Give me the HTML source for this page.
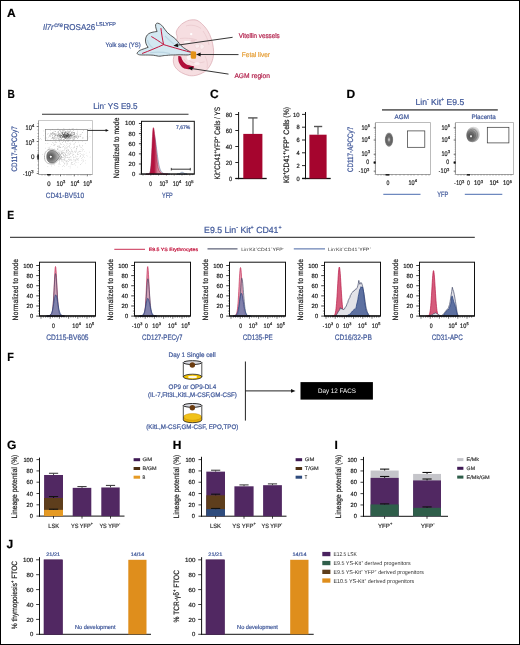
<!DOCTYPE html>
<html><head><meta charset="utf-8"><style>
html,body{margin:0;padding:0;background:#fff;}
svg{display:block;will-change:transform;}
text{font-family:"Liberation Sans",sans-serif;text-rendering:geometricPrecision;}
</style></head><body>
<svg width="520" height="645" viewBox="0 0 520 645">
<rect x="0.50" y="0.50" width="519.00" height="644.00" fill="none" stroke="#000" stroke-width="1"/>
<text x="7.00" y="17.00" font-size="12" fill="#000" stroke="#000" stroke-width="0.2" font-weight="bold">A</text>
<text x="7.50" y="98.00" font-size="12" fill="#000" stroke="#000" stroke-width="0.2" font-weight="bold" textLength="7.30" lengthAdjust="spacingAndGlyphs">B</text>
<text x="210.00" y="98.00" font-size="12" fill="#000" stroke="#000" stroke-width="0.2" font-weight="bold">C</text>
<text x="346.50" y="98.00" font-size="12" fill="#000" stroke="#000" stroke-width="0.2" font-weight="bold">D</text>
<text x="7.30" y="218.70" font-size="12" fill="#000" stroke="#000" stroke-width="0.2" font-weight="bold" textLength="6.90" lengthAdjust="spacingAndGlyphs">E</text>
<text x="7.30" y="361.00" font-size="12" fill="#000" stroke="#000" stroke-width="0.2" font-weight="bold" textLength="6.60" lengthAdjust="spacingAndGlyphs">F</text>
<text x="7.00" y="449.40" font-size="12" fill="#000" stroke="#000" stroke-width="0.2" font-weight="bold">G</text>
<text x="172.80" y="449.00" font-size="12" fill="#000" stroke="#000" stroke-width="0.2" font-weight="bold">H</text>
<text x="334.50" y="449.20" font-size="12" fill="#000" stroke="#000" stroke-width="0.2" font-weight="bold">I</text>
<text x="6.50" y="548.30" font-size="12" fill="#000" stroke="#000" stroke-width="0.2" font-weight="bold">J</text>
<text x="43.10" y="29.90" font-size="8.5" fill="#41599a" stroke="#41599a" stroke-width="0.22" font-style="italic" textLength="10.50" lengthAdjust="spacingAndGlyphs">Il7r</text>
<text x="54.20" y="26.60" font-size="6.3" fill="#41599a" stroke="#41599a" stroke-width="0.22" font-style="italic" textLength="8.80" lengthAdjust="spacingAndGlyphs">cre</text>
<text x="63.50" y="29.90" font-size="8.5" fill="#41599a" stroke="#41599a" stroke-width="0.22" textLength="31.70" lengthAdjust="spacingAndGlyphs">ROSA26</text>
<text x="96.00" y="26.30" font-size="5.6" fill="#41599a" stroke="#41599a" stroke-width="0.22" textLength="20.00" lengthAdjust="spacingAndGlyphs">LSLYFP</text>
<text x="105.60" y="46.60" font-size="6.4" fill="#41599a" stroke="#41599a" stroke-width="0.22" textLength="35.00" lengthAdjust="spacingAndGlyphs">Yolk sac (YS)</text>
<path d="M193.1,19.8 C190,19.9 188,20.4 186.4,21.3 C184.5,22.2 183,23 181.6,24.2 C180,25.6 178.8,26.8 177.8,28.5 C176.8,30.2 176.1,31.6 176.3,33.3 C176.5,35 177.2,36 177.3,37.1 C176,42 175,48 173.9,56.3 C173.3,58.5 173.1,60.5 173.4,62.1 C173.8,64.5 174.5,66.3 175.8,67.9 C177.5,70 179.5,71.5 181.6,72.7 C184,74 186.5,75 189.3,75.6 C192,76 194.5,75.7 197,75.1 C199.5,74.4 202.3,73.2 204.7,71.7 C207,70 209,67.5 210.4,65 C212,62 213,59 213.3,56.3 C213.8,53 213.7,50.5 213.3,47.7 C212.9,44.5 212.3,41.8 211.4,39.1 C210.4,36 209.2,33 207.5,30.4 C205.9,28 204,25.7 201.8,23.7 C200.3,22.3 198.8,21.1 197,20.3 C195.7,19.9 194.4,19.8 193.1,19.8 Z" fill="#f6dee1" stroke="#ddb0b8" stroke-width="0.8"/>
<path d="M180,38.5 C186,37.8 192,38.2 197,40 M186,26 C190,24.5 196,25 201,28.5 M203,31 C206,35 208,40 209,45 M189.2,60.6 C192,62.5 195.5,63.3 198.5,63 C201,62.7 203,62.2 204.6,61.8 M184,59 C187,64 191,67 197,68.5 M205,56 C207,60 208,64 207,68" fill="none" stroke="#e6c3c8" stroke-width="0.6"/>
<path d="M183.8,41.4 C186,41 189,41 190.8,41.6 C190.5,42.6 188,43.2 184.5,43.2 Z" fill="#fdf6f7"/>
<path d="M194.8,45 C196.5,43.6 199,43.8 200,45.6 C199.5,47.5 197.5,48.6 195.6,48 Z M199.8,44.2 C201.8,43.6 204,44.6 204.6,46.6 C203.8,48.6 201.5,50 200.2,49 Z" fill="#faecee" stroke="#e9cdd1" stroke-width="0.45"/>
<ellipse cx="189" cy="57.6" rx="2.2" ry="2.6" fill="#fdf7f8"/>
<ellipse cx="197" cy="63.5" rx="2.8" ry="1.5" fill="#fbeff1"/>
<ellipse cx="193" cy="40.6" rx="2.6" ry="1.2" fill="#eccbd0"/>
<circle cx="191.2" cy="34.1" r="1.2" fill="#fff"/>
<path d="M137.1,53.1 C137.5,52 139.5,50.3 141.7,49.6 C143.5,49 145.5,48.3 148.2,47.3 C146.5,45.5 145.3,42.5 145.5,40 C145.6,37 147,34.8 148.6,33.8 C150.5,32.5 153,32 157.1,31.5 C156.3,29.5 155.3,26.5 155.6,24.8 C155.9,23.5 157,23 157.8,23.2 C159.5,23.4 161.5,25 162.5,26.2 C164,28 165.5,30.5 167.1,32.3 C169,34.2 171.5,36 174,37.7 C176.5,39.5 178.5,43 181,45.5 C184,48.5 188,50.5 191.7,52.6 C192,53.5 191,54.6 188.2,54.9 C185,55 182,54.7 178,54.8 C175,55 172,55 170.9,55 C167,55.2 166,55.6 164.8,55.5 C162,55.8 160.5,56.3 158.6,56.2 C156.5,56 155,55.3 153.2,55.2 C150,55 147.5,55 145.5,55 C142,55 139.5,55 138.6,54.6 C137.6,54.3 136.9,53.7 137.1,53.1 Z" fill="#d3e8f1" stroke="#3c3c3c" stroke-width="0.85"/>
<path d="M147.5,40 C148.5,44 150.5,46.5 153,48 M150,52.8 C156,51.8 163,52 170,53.5 M165,36 C168,39 171,42 174,44" fill="none" stroke="#bcd6e3" stroke-width="1.1"/>
<path d="M163.6,44.6 C162.3,38.5 161.5,33 160.9,28.1 M163.6,44.6 C159.5,41.5 155,38.6 151.3,36.5 M163.6,44.6 C157,47.5 149,51 142.1,53.5 M163.6,44.6 C170,46.5 180,49.5 190.5,52.2" fill="none" stroke="#c3163f" stroke-width="1.0"/>
<path d="M191,51.6 C192.5,50.9 194.5,51.1 196,51.8 C196.4,54 196.3,56.5 195.8,58.4 C194.2,59 192.3,58.9 190.9,58.2 C190.6,56 190.6,53.5 191,51.6 Z" fill="#e39218"/>
<path d="M178.3,56 C178,59 178.4,61.5 179.2,63 C180.2,65.2 181.5,66.8 183,67.8 C184.6,68.8 186.5,69.2 188.2,69.2 C190.2,69.2 192,68.9 193,68.4 C193.9,67.8 194.3,67 194,66.2 C192.8,66.1 191.8,65.9 190.8,65.7 C188.8,65.3 187,64.8 185.6,63.8 C184,62.7 183,61.3 182.2,59.8 C181.6,58.6 181.3,57.6 181.2,56.8 C180.4,56 179.3,55.7 178.3,56 Z" fill="#b10f3a"/>
<line x1="232.60" y1="37.30" x2="178.00" y2="45.10" stroke="#2a2a2a" stroke-width="0.95"/>
<polygon points="173.40,45.80 177.70,43.13 178.28,47.15" fill="#111"/>
<line x1="238.50" y1="54.60" x2="200.00" y2="54.50" stroke="#2a2a2a" stroke-width="0.95"/>
<polygon points="196.00,54.50 200.64,52.47 200.64,56.53" fill="#111"/>
<line x1="228.50" y1="74.10" x2="192.00" y2="68.60" stroke="#2a2a2a" stroke-width="0.95"/>
<polygon points="187.90,67.90 192.79,66.59 192.18,70.61" fill="#111"/>
<text x="238.70" y="37.70" font-size="6.8" fill="#b42650" stroke="#b42650" stroke-width="0.22" textLength="41.00" lengthAdjust="spacingAndGlyphs">Vitellin vessels</text>
<text x="241.80" y="56.60" font-size="6.8" fill="#e6a03a" stroke="#e6a03a" stroke-width="0.22" textLength="28.20" lengthAdjust="spacingAndGlyphs">Fetal liver</text>
<text x="234.40" y="77.70" font-size="6.8" fill="#b42650" stroke="#b42650" stroke-width="0.22" textLength="35.60" lengthAdjust="spacingAndGlyphs">AGM region</text>
<text x="93.2" y="109.3" font-size="8.5" fill="#41599a" stroke="#41599a" stroke-width="0.22" textLength="44.4" lengthAdjust="spacingAndGlyphs">Lin<tspan font-size="5.3" dy="-3.2">-</tspan><tspan dy="3.2"> YS E9.5</tspan></text>
<line x1="42.00" y1="114.30" x2="188.50" y2="114.30" stroke="#333" stroke-width="1.1"/>
<line x1="38.50" y1="120.50" x2="92.50" y2="120.50" stroke="#bbb" stroke-width="0.8"/>
<line x1="92.50" y1="120.50" x2="92.50" y2="174.50" stroke="#bbb" stroke-width="0.8"/>
<line x1="38.50" y1="120.50" x2="38.50" y2="174.50" stroke="#8a8a8a" stroke-width="0.8"/>
<line x1="38.50" y1="174.50" x2="92.50" y2="174.50" stroke="#8a8a8a" stroke-width="0.8"/>
<line x1="36.70" y1="126.50" x2="38.50" y2="126.50" stroke="#333" stroke-width="0.7"/>
<line x1="36.70" y1="141.50" x2="38.50" y2="141.50" stroke="#333" stroke-width="0.7"/>
<line x1="36.70" y1="156.80" x2="38.50" y2="156.80" stroke="#333" stroke-width="0.7"/>
<line x1="36.70" y1="173.50" x2="38.50" y2="173.50" stroke="#333" stroke-width="0.7"/>
<line x1="37.50" y1="123.50" x2="38.50" y2="123.50" stroke="#555" stroke-width="0.5"/>
<line x1="37.50" y1="130.00" x2="38.50" y2="130.00" stroke="#555" stroke-width="0.5"/>
<line x1="37.50" y1="133.50" x2="38.50" y2="133.50" stroke="#555" stroke-width="0.5"/>
<line x1="37.50" y1="136.50" x2="38.50" y2="136.50" stroke="#555" stroke-width="0.5"/>
<line x1="37.50" y1="138.50" x2="38.50" y2="138.50" stroke="#555" stroke-width="0.5"/>
<line x1="37.50" y1="145.00" x2="38.50" y2="145.00" stroke="#555" stroke-width="0.5"/>
<line x1="37.50" y1="148.00" x2="38.50" y2="148.00" stroke="#555" stroke-width="0.5"/>
<line x1="37.50" y1="150.50" x2="38.50" y2="150.50" stroke="#555" stroke-width="0.5"/>
<line x1="37.50" y1="153.00" x2="38.50" y2="153.00" stroke="#555" stroke-width="0.5"/>
<line x1="37.50" y1="161.00" x2="38.50" y2="161.00" stroke="#555" stroke-width="0.5"/>
<line x1="37.50" y1="165.00" x2="38.50" y2="165.00" stroke="#555" stroke-width="0.5"/>
<line x1="37.50" y1="168.50" x2="38.50" y2="168.50" stroke="#555" stroke-width="0.5"/>
<line x1="37.50" y1="171.50" x2="38.50" y2="171.50" stroke="#555" stroke-width="0.5"/>
<line x1="48.90" y1="174.50" x2="48.90" y2="176.30" stroke="#333" stroke-width="0.7"/>
<line x1="60.50" y1="174.50" x2="60.50" y2="176.30" stroke="#333" stroke-width="0.7"/>
<line x1="74.30" y1="174.50" x2="74.30" y2="176.30" stroke="#333" stroke-width="0.7"/>
<line x1="87.30" y1="174.50" x2="87.30" y2="176.30" stroke="#333" stroke-width="0.7"/>
<line x1="42.00" y1="174.50" x2="42.00" y2="175.50" stroke="#555" stroke-width="0.5"/>
<line x1="45.00" y1="174.50" x2="45.00" y2="175.50" stroke="#555" stroke-width="0.5"/>
<line x1="53.00" y1="174.50" x2="53.00" y2="175.50" stroke="#555" stroke-width="0.5"/>
<line x1="56.00" y1="174.50" x2="56.00" y2="175.50" stroke="#555" stroke-width="0.5"/>
<line x1="58.00" y1="174.50" x2="58.00" y2="175.50" stroke="#555" stroke-width="0.5"/>
<line x1="64.00" y1="174.50" x2="64.00" y2="175.50" stroke="#555" stroke-width="0.5"/>
<line x1="67.00" y1="174.50" x2="67.00" y2="175.50" stroke="#555" stroke-width="0.5"/>
<line x1="69.00" y1="174.50" x2="69.00" y2="175.50" stroke="#555" stroke-width="0.5"/>
<line x1="71.00" y1="174.50" x2="71.00" y2="175.50" stroke="#555" stroke-width="0.5"/>
<line x1="78.00" y1="174.50" x2="78.00" y2="175.50" stroke="#555" stroke-width="0.5"/>
<line x1="81.00" y1="174.50" x2="81.00" y2="175.50" stroke="#555" stroke-width="0.5"/>
<line x1="83.00" y1="174.50" x2="83.00" y2="175.50" stroke="#555" stroke-width="0.5"/>
<line x1="85.00" y1="174.50" x2="85.00" y2="175.50" stroke="#555" stroke-width="0.5"/>
<line x1="90.00" y1="174.50" x2="90.00" y2="175.50" stroke="#555" stroke-width="0.5"/>
<rect x="37.30" y="154.40" width="1.60" height="5.20" fill="#222"/>
<rect x="47.00" y="174.00" width="3.80" height="1.40" fill="#222"/>
<g><circle cx="63.3" cy="136.4" r="0.28" fill="#555"/><circle cx="63.5" cy="134.4" r="0.28" fill="#555"/><circle cx="59.0" cy="134.7" r="0.28" fill="#555"/><circle cx="72.2" cy="136.2" r="0.28" fill="#555"/><circle cx="71.7" cy="135.8" r="0.28" fill="#555"/><circle cx="67.6" cy="135.6" r="0.28" fill="#555"/><circle cx="54.2" cy="137.3" r="0.28" fill="#555"/><circle cx="68.3" cy="136.4" r="0.28" fill="#555"/><circle cx="54.0" cy="131.0" r="0.28" fill="#555"/><circle cx="59.2" cy="134.1" r="0.28" fill="#555"/><circle cx="67.0" cy="135.1" r="0.28" fill="#555"/><circle cx="68.4" cy="133.7" r="0.28" fill="#555"/><circle cx="67.0" cy="136.1" r="0.28" fill="#555"/><circle cx="60.7" cy="139.3" r="0.28" fill="#555"/><circle cx="68.6" cy="138.1" r="0.28" fill="#555"/><circle cx="61.0" cy="133.4" r="0.28" fill="#555"/><circle cx="62.8" cy="134.9" r="0.28" fill="#555"/><circle cx="69.1" cy="135.8" r="0.28" fill="#555"/><circle cx="62.1" cy="132.9" r="0.28" fill="#555"/><circle cx="61.6" cy="138.1" r="0.28" fill="#555"/><circle cx="59.7" cy="135.8" r="0.28" fill="#555"/><circle cx="67.8" cy="131.6" r="0.28" fill="#555"/><circle cx="65.3" cy="138.3" r="0.28" fill="#555"/><circle cx="51.9" cy="134.4" r="0.28" fill="#555"/><circle cx="64.3" cy="133.2" r="0.28" fill="#555"/><circle cx="68.2" cy="135.1" r="0.28" fill="#555"/><circle cx="55.5" cy="137.2" r="0.28" fill="#555"/><circle cx="69.4" cy="137.5" r="0.28" fill="#555"/><circle cx="74.4" cy="136.1" r="0.28" fill="#555"/><circle cx="65.8" cy="132.1" r="0.28" fill="#555"/><circle cx="69.0" cy="133.7" r="0.28" fill="#555"/><circle cx="62.1" cy="132.2" r="0.28" fill="#555"/><circle cx="58.7" cy="133.9" r="0.28" fill="#555"/><circle cx="73.4" cy="130.3" r="0.28" fill="#555"/><circle cx="55.5" cy="135.8" r="0.28" fill="#555"/><circle cx="74.4" cy="136.6" r="0.28" fill="#555"/><circle cx="52.7" cy="129.2" r="0.28" fill="#555"/><circle cx="67.3" cy="133.4" r="0.28" fill="#555"/><circle cx="57.7" cy="137.5" r="0.28" fill="#555"/><circle cx="72.2" cy="135.6" r="0.28" fill="#555"/><circle cx="66.6" cy="136.2" r="0.28" fill="#555"/><circle cx="75.4" cy="136.7" r="0.28" fill="#555"/><circle cx="68.4" cy="136.5" r="0.28" fill="#555"/><circle cx="54.8" cy="138.3" r="0.28" fill="#555"/><circle cx="71.2" cy="136.5" r="0.28" fill="#555"/><circle cx="52.2" cy="133.7" r="0.28" fill="#555"/><circle cx="70.5" cy="130.9" r="0.28" fill="#555"/><circle cx="63.8" cy="137.6" r="0.28" fill="#555"/><circle cx="56.5" cy="139.1" r="0.28" fill="#555"/><circle cx="68.6" cy="134.8" r="0.28" fill="#555"/><circle cx="67.1" cy="136.8" r="0.28" fill="#555"/><circle cx="65.8" cy="137.9" r="0.28" fill="#555"/><circle cx="60.7" cy="134.2" r="0.28" fill="#555"/><circle cx="71.8" cy="135.3" r="0.28" fill="#555"/><circle cx="59.3" cy="137.5" r="0.28" fill="#555"/><circle cx="74.5" cy="134.1" r="0.28" fill="#555"/><circle cx="56.0" cy="134.9" r="0.28" fill="#555"/><circle cx="64.0" cy="134.5" r="0.28" fill="#555"/><circle cx="74.1" cy="132.7" r="0.28" fill="#555"/><circle cx="73.2" cy="132.2" r="0.28" fill="#555"/><circle cx="59.9" cy="136.7" r="0.28" fill="#555"/><circle cx="72.3" cy="137.3" r="0.28" fill="#555"/><circle cx="67.2" cy="135.5" r="0.28" fill="#555"/><circle cx="66.0" cy="136.6" r="0.28" fill="#555"/><circle cx="63.9" cy="135.9" r="0.28" fill="#555"/><circle cx="68.7" cy="135.2" r="0.28" fill="#555"/><circle cx="70.0" cy="136.6" r="0.28" fill="#555"/><circle cx="78.1" cy="136.0" r="0.28" fill="#555"/><circle cx="62.2" cy="134.3" r="0.28" fill="#555"/><circle cx="64.9" cy="137.4" r="0.28" fill="#555"/><circle cx="62.8" cy="136.1" r="0.28" fill="#555"/><circle cx="76.9" cy="129.0" r="0.28" fill="#555"/><circle cx="57.7" cy="135.8" r="0.28" fill="#555"/><circle cx="67.6" cy="135.8" r="0.28" fill="#555"/><circle cx="62.2" cy="136.8" r="0.28" fill="#555"/><circle cx="66.8" cy="133.9" r="0.28" fill="#555"/><circle cx="80.8" cy="136.1" r="0.28" fill="#555"/><circle cx="61.4" cy="135.0" r="0.28" fill="#555"/><circle cx="63.5" cy="135.0" r="0.28" fill="#555"/><circle cx="47.3" cy="134.0" r="0.28" fill="#555"/><circle cx="71.6" cy="132.4" r="0.28" fill="#555"/><circle cx="64.6" cy="137.5" r="0.28" fill="#555"/><circle cx="70.6" cy="138.8" r="0.28" fill="#555"/><circle cx="53.9" cy="134.4" r="0.28" fill="#555"/><circle cx="62.8" cy="136.7" r="0.28" fill="#555"/><circle cx="72.1" cy="128.8" r="0.28" fill="#555"/><circle cx="72.1" cy="131.7" r="0.28" fill="#555"/><circle cx="69.4" cy="131.6" r="0.28" fill="#555"/><circle cx="66.1" cy="138.1" r="0.28" fill="#555"/><circle cx="64.0" cy="135.7" r="0.28" fill="#555"/><circle cx="70.2" cy="135.5" r="0.28" fill="#555"/><circle cx="64.4" cy="138.9" r="0.28" fill="#555"/><circle cx="71.8" cy="134.5" r="0.28" fill="#555"/><circle cx="82.8" cy="132.4" r="0.28" fill="#555"/><circle cx="70.9" cy="134.6" r="0.28" fill="#555"/><circle cx="65.9" cy="136.9" r="0.28" fill="#555"/><circle cx="66.4" cy="136.7" r="0.28" fill="#555"/><circle cx="55.1" cy="131.6" r="0.28" fill="#555"/><circle cx="69.0" cy="132.9" r="0.28" fill="#555"/><circle cx="58.3" cy="131.7" r="0.28" fill="#555"/><circle cx="73.2" cy="137.0" r="0.28" fill="#555"/><circle cx="74.6" cy="132.9" r="0.28" fill="#555"/><circle cx="65.0" cy="132.5" r="0.28" fill="#555"/><circle cx="70.0" cy="139.0" r="0.28" fill="#555"/><circle cx="59.2" cy="138.9" r="0.28" fill="#555"/><circle cx="71.4" cy="134.8" r="0.28" fill="#555"/><circle cx="52.2" cy="138.6" r="0.28" fill="#555"/><circle cx="64.4" cy="133.8" r="0.28" fill="#555"/><circle cx="67.6" cy="136.2" r="0.28" fill="#555"/><circle cx="74.7" cy="132.8" r="0.28" fill="#555"/><circle cx="72.4" cy="138.8" r="0.28" fill="#555"/><circle cx="74.4" cy="134.8" r="0.28" fill="#555"/><circle cx="60.2" cy="137.6" r="0.28" fill="#555"/><circle cx="65.7" cy="135.5" r="0.28" fill="#555"/><circle cx="74.3" cy="134.6" r="0.28" fill="#555"/><circle cx="50.1" cy="134.3" r="0.28" fill="#555"/><circle cx="52.9" cy="137.2" r="0.28" fill="#555"/><circle cx="67.1" cy="133.7" r="0.28" fill="#555"/><circle cx="64.9" cy="137.2" r="0.28" fill="#555"/><circle cx="65.5" cy="138.4" r="0.28" fill="#555"/><circle cx="64.6" cy="137.7" r="0.28" fill="#555"/><circle cx="74.7" cy="139.1" r="0.28" fill="#555"/><circle cx="60.6" cy="137.3" r="0.28" fill="#555"/><circle cx="52.8" cy="132.6" r="0.28" fill="#555"/><circle cx="52.2" cy="137.8" r="0.28" fill="#555"/><circle cx="57.0" cy="135.2" r="0.28" fill="#555"/><circle cx="63.8" cy="135.1" r="0.28" fill="#555"/><circle cx="61.2" cy="135.8" r="0.28" fill="#555"/><circle cx="76.6" cy="135.3" r="0.28" fill="#555"/><circle cx="68.5" cy="137.6" r="0.28" fill="#555"/><circle cx="63.7" cy="132.2" r="0.28" fill="#555"/><circle cx="61.4" cy="137.8" r="0.28" fill="#555"/><circle cx="54.3" cy="133.8" r="0.28" fill="#555"/><circle cx="71.5" cy="137.1" r="0.28" fill="#555"/><circle cx="65.0" cy="137.1" r="0.28" fill="#555"/><circle cx="66.1" cy="132.4" r="0.28" fill="#555"/><circle cx="54.8" cy="133.7" r="0.28" fill="#555"/><circle cx="71.0" cy="133.8" r="0.28" fill="#555"/><circle cx="59.1" cy="133.3" r="0.28" fill="#555"/><circle cx="55.0" cy="134.9" r="0.28" fill="#555"/><circle cx="57.3" cy="136.1" r="0.28" fill="#555"/><circle cx="49.7" cy="136.0" r="0.28" fill="#555"/><circle cx="60.8" cy="130.5" r="0.28" fill="#555"/><circle cx="69.7" cy="134.5" r="0.28" fill="#555"/><circle cx="50.5" cy="133.1" r="0.28" fill="#555"/><circle cx="66.9" cy="134.1" r="0.28" fill="#555"/><circle cx="70.1" cy="137.0" r="0.28" fill="#555"/><circle cx="69.3" cy="136.0" r="0.28" fill="#555"/><circle cx="73.7" cy="136.8" r="0.28" fill="#555"/><circle cx="67.9" cy="130.2" r="0.28" fill="#555"/><circle cx="70.8" cy="138.3" r="0.28" fill="#555"/><circle cx="63.1" cy="134.1" r="0.28" fill="#555"/><circle cx="77.6" cy="131.0" r="0.28" fill="#555"/><circle cx="68.0" cy="141.0" r="0.28" fill="#555"/><circle cx="59.0" cy="136.9" r="0.28" fill="#555"/><circle cx="77.3" cy="134.9" r="0.28" fill="#555"/><circle cx="68.6" cy="137.4" r="0.28" fill="#555"/><circle cx="59.1" cy="135.0" r="0.28" fill="#555"/><circle cx="66.9" cy="137.2" r="0.28" fill="#555"/><circle cx="64.8" cy="134.7" r="0.28" fill="#555"/><circle cx="58.4" cy="134.3" r="0.28" fill="#555"/><circle cx="70.8" cy="135.4" r="0.28" fill="#555"/><circle cx="59.5" cy="133.2" r="0.28" fill="#555"/><circle cx="82.3" cy="137.9" r="0.28" fill="#555"/><circle cx="69.1" cy="129.0" r="0.28" fill="#555"/><circle cx="69.0" cy="136.4" r="0.28" fill="#555"/><circle cx="75.9" cy="136.2" r="0.28" fill="#555"/><circle cx="64.6" cy="136.5" r="0.28" fill="#555"/><circle cx="52.4" cy="137.7" r="0.28" fill="#555"/><circle cx="67.1" cy="133.5" r="0.28" fill="#555"/><circle cx="73.6" cy="139.5" r="0.28" fill="#555"/><circle cx="55.9" cy="133.6" r="0.28" fill="#555"/><circle cx="66.9" cy="135.6" r="0.28" fill="#555"/><circle cx="62.4" cy="132.9" r="0.28" fill="#555"/><circle cx="78.8" cy="137.7" r="0.28" fill="#555"/><circle cx="57.2" cy="132.0" r="0.28" fill="#555"/><circle cx="76.1" cy="137.6" r="0.28" fill="#555"/><circle cx="76.8" cy="137.1" r="0.28" fill="#555"/><circle cx="59.3" cy="135.8" r="0.28" fill="#555"/><circle cx="51.0" cy="133.4" r="0.28" fill="#555"/><circle cx="64.6" cy="136.5" r="0.28" fill="#555"/><circle cx="60.3" cy="134.9" r="0.28" fill="#555"/><circle cx="68.0" cy="136.1" r="0.28" fill="#555"/><circle cx="69.1" cy="135.7" r="0.28" fill="#555"/><circle cx="62.9" cy="137.1" r="0.28" fill="#555"/><circle cx="65.3" cy="133.2" r="0.28" fill="#555"/><circle cx="60.9" cy="135.2" r="0.28" fill="#555"/><circle cx="64.3" cy="135.6" r="0.28" fill="#555"/><circle cx="65.0" cy="135.6" r="0.28" fill="#555"/><circle cx="64.1" cy="132.2" r="0.28" fill="#555"/><circle cx="67.7" cy="137.7" r="0.28" fill="#555"/><circle cx="67.8" cy="134.7" r="0.28" fill="#555"/><circle cx="67.9" cy="132.9" r="0.28" fill="#555"/><circle cx="52.7" cy="135.3" r="0.28" fill="#555"/><circle cx="59.0" cy="137.0" r="0.28" fill="#555"/><circle cx="58.0" cy="128.9" r="0.28" fill="#555"/><circle cx="58.2" cy="139.0" r="0.28" fill="#555"/><circle cx="62.5" cy="131.9" r="0.28" fill="#555"/><circle cx="60.0" cy="136.5" r="0.28" fill="#555"/><circle cx="68.2" cy="135.6" r="0.28" fill="#555"/><circle cx="74.6" cy="136.9" r="0.28" fill="#555"/><circle cx="64.9" cy="136.6" r="0.28" fill="#555"/><circle cx="75.8" cy="137.5" r="0.28" fill="#555"/><circle cx="71.7" cy="132.6" r="0.28" fill="#555"/><circle cx="64.0" cy="137.0" r="0.28" fill="#555"/><circle cx="63.1" cy="137.8" r="0.28" fill="#555"/><circle cx="68.9" cy="137.4" r="0.28" fill="#555"/><circle cx="63.6" cy="141.3" r="0.28" fill="#555"/><circle cx="73.1" cy="134.7" r="0.28" fill="#555"/><circle cx="65.6" cy="141.4" r="0.28" fill="#555"/><circle cx="62.8" cy="137.3" r="0.28" fill="#555"/><circle cx="71.4" cy="135.2" r="0.28" fill="#555"/><circle cx="57.4" cy="135.7" r="0.28" fill="#555"/><circle cx="67.3" cy="137.9" r="0.28" fill="#555"/><circle cx="70.1" cy="135.3" r="0.28" fill="#555"/><circle cx="70.5" cy="136.5" r="0.28" fill="#555"/><circle cx="66.3" cy="135.3" r="0.28" fill="#555"/><circle cx="63.4" cy="136.8" r="0.28" fill="#555"/><circle cx="58.1" cy="133.7" r="0.28" fill="#555"/><circle cx="65.0" cy="131.7" r="0.28" fill="#555"/><circle cx="62.2" cy="130.4" r="0.28" fill="#555"/><circle cx="60.6" cy="136.6" r="0.28" fill="#555"/><circle cx="68.7" cy="135.1" r="0.28" fill="#555"/><circle cx="63.5" cy="131.8" r="0.28" fill="#555"/><circle cx="76.9" cy="136.4" r="0.28" fill="#555"/><circle cx="72.1" cy="133.1" r="0.28" fill="#555"/><circle cx="63.8" cy="130.8" r="0.28" fill="#555"/><circle cx="70.1" cy="137.4" r="0.28" fill="#555"/><circle cx="52.7" cy="135.1" r="0.28" fill="#555"/><circle cx="69.1" cy="131.0" r="0.28" fill="#555"/><circle cx="53.1" cy="132.6" r="0.28" fill="#555"/><circle cx="60.9" cy="131.8" r="0.28" fill="#555"/><circle cx="65.2" cy="135.8" r="0.28" fill="#555"/><circle cx="69.1" cy="136.9" r="0.28" fill="#555"/><circle cx="74.8" cy="138.0" r="0.28" fill="#555"/><circle cx="56.5" cy="134.0" r="0.28" fill="#555"/><circle cx="58.1" cy="132.6" r="0.28" fill="#555"/><circle cx="64.5" cy="135.2" r="0.28" fill="#555"/><circle cx="68.2" cy="131.4" r="0.28" fill="#555"/><circle cx="57.0" cy="135.1" r="0.28" fill="#555"/><circle cx="63.7" cy="134.5" r="0.28" fill="#555"/><circle cx="64.6" cy="133.4" r="0.28" fill="#555"/><circle cx="69.6" cy="136.1" r="0.28" fill="#555"/><circle cx="64.4" cy="133.6" r="0.28" fill="#555"/><circle cx="63.9" cy="128.7" r="0.28" fill="#555"/><circle cx="58.6" cy="135.3" r="0.28" fill="#555"/><circle cx="55.2" cy="135.7" r="0.28" fill="#555"/><circle cx="66.0" cy="131.9" r="0.28" fill="#555"/><circle cx="63.4" cy="134.4" r="0.28" fill="#555"/><circle cx="68.0" cy="136.7" r="0.28" fill="#555"/><circle cx="64.8" cy="133.2" r="0.28" fill="#555"/><circle cx="64.1" cy="135.0" r="0.28" fill="#555"/><circle cx="69.8" cy="135.9" r="0.28" fill="#555"/><circle cx="60.3" cy="131.9" r="0.28" fill="#555"/><circle cx="62.6" cy="133.4" r="0.28" fill="#555"/><circle cx="57.8" cy="134.9" r="0.28" fill="#555"/><circle cx="61.8" cy="135.5" r="0.28" fill="#555"/><circle cx="68.4" cy="134.2" r="0.28" fill="#555"/><circle cx="80.1" cy="134.4" r="0.28" fill="#555"/><circle cx="72.2" cy="135.5" r="0.28" fill="#555"/><circle cx="72.3" cy="129.5" r="0.28" fill="#555"/><circle cx="60.1" cy="135.8" r="0.28" fill="#555"/><circle cx="68.9" cy="140.8" r="0.28" fill="#555"/><circle cx="67.1" cy="138.3" r="0.28" fill="#555"/><circle cx="70.0" cy="137.5" r="0.28" fill="#555"/><circle cx="68.3" cy="134.8" r="0.28" fill="#555"/><circle cx="68.3" cy="132.6" r="0.28" fill="#555"/><circle cx="72.7" cy="132.8" r="0.28" fill="#555"/><circle cx="66.6" cy="140.3" r="0.28" fill="#555"/><circle cx="63.5" cy="135.2" r="0.28" fill="#555"/><circle cx="72.6" cy="135.3" r="0.28" fill="#555"/><circle cx="59.8" cy="135.8" r="0.28" fill="#555"/><circle cx="68.8" cy="136.9" r="0.28" fill="#555"/><circle cx="60.0" cy="139.4" r="0.28" fill="#555"/><circle cx="75.8" cy="135.2" r="0.28" fill="#555"/><circle cx="66.7" cy="134.2" r="0.28" fill="#555"/><circle cx="74.2" cy="133.5" r="0.28" fill="#555"/><circle cx="69.4" cy="134.0" r="0.28" fill="#555"/><circle cx="60.5" cy="136.9" r="0.28" fill="#555"/><circle cx="73.7" cy="135.2" r="0.28" fill="#555"/><circle cx="60.6" cy="137.1" r="0.28" fill="#555"/><circle cx="64.7" cy="135.9" r="0.28" fill="#555"/><circle cx="74.9" cy="137.9" r="0.28" fill="#555"/><circle cx="61.6" cy="140.7" r="0.28" fill="#555"/><circle cx="65.0" cy="137.1" r="0.28" fill="#555"/><circle cx="60.8" cy="135.1" r="0.28" fill="#555"/><circle cx="53.6" cy="139.5" r="0.28" fill="#555"/><circle cx="73.9" cy="132.3" r="0.28" fill="#555"/><circle cx="55.2" cy="131.3" r="0.28" fill="#555"/><circle cx="72.6" cy="134.1" r="0.28" fill="#555"/><circle cx="64.6" cy="134.4" r="0.28" fill="#555"/><circle cx="64.2" cy="132.6" r="0.28" fill="#555"/><circle cx="65.2" cy="131.7" r="0.28" fill="#555"/><circle cx="64.5" cy="135.9" r="0.28" fill="#555"/><circle cx="68.0" cy="134.6" r="0.28" fill="#555"/><circle cx="59.1" cy="135.6" r="0.28" fill="#555"/><circle cx="61.8" cy="139.0" r="0.28" fill="#555"/><circle cx="70.0" cy="134.9" r="0.28" fill="#555"/><circle cx="61.9" cy="133.5" r="0.28" fill="#555"/><circle cx="58.9" cy="134.4" r="0.28" fill="#555"/><circle cx="66.9" cy="136.4" r="0.28" fill="#555"/><circle cx="68.7" cy="140.2" r="0.28" fill="#555"/><circle cx="60.4" cy="135.2" r="0.28" fill="#555"/><circle cx="83.2" cy="130.7" r="0.28" fill="#555"/><circle cx="61.6" cy="135.6" r="0.28" fill="#555"/><circle cx="66.0" cy="136.2" r="0.28" fill="#555"/><circle cx="63.4" cy="136.1" r="0.28" fill="#555"/><circle cx="65.3" cy="137.1" r="0.28" fill="#555"/><circle cx="52.7" cy="133.1" r="0.28" fill="#555"/><circle cx="65.0" cy="132.7" r="0.28" fill="#555"/><circle cx="58.2" cy="136.7" r="0.28" fill="#555"/><circle cx="60.8" cy="136.7" r="0.28" fill="#555"/><circle cx="69.8" cy="135.9" r="0.28" fill="#555"/><circle cx="68.3" cy="134.9" r="0.28" fill="#555"/><circle cx="55.8" cy="135.1" r="0.28" fill="#555"/><circle cx="68.0" cy="133.9" r="0.28" fill="#555"/><circle cx="64.4" cy="137.0" r="0.28" fill="#555"/><circle cx="59.3" cy="136.7" r="0.28" fill="#555"/><circle cx="77.1" cy="133.9" r="0.28" fill="#555"/><circle cx="66.0" cy="134.8" r="0.28" fill="#555"/><circle cx="75.0" cy="136.0" r="0.28" fill="#555"/><circle cx="70.8" cy="133.5" r="0.28" fill="#555"/><circle cx="64.9" cy="135.2" r="0.28" fill="#555"/><circle cx="53.5" cy="138.7" r="0.28" fill="#555"/><circle cx="70.8" cy="131.0" r="0.28" fill="#555"/><circle cx="69.8" cy="134.9" r="0.28" fill="#555"/><circle cx="67.9" cy="136.1" r="0.28" fill="#555"/><circle cx="55.3" cy="134.7" r="0.28" fill="#555"/><circle cx="74.7" cy="133.8" r="0.28" fill="#555"/><circle cx="58.4" cy="131.9" r="0.28" fill="#555"/><circle cx="62.1" cy="136.0" r="0.28" fill="#333"/><circle cx="71.4" cy="136.2" r="0.28" fill="#333"/><circle cx="66.8" cy="139.1" r="0.28" fill="#333"/><circle cx="64.3" cy="134.4" r="0.28" fill="#333"/><circle cx="67.7" cy="136.4" r="0.28" fill="#333"/><circle cx="62.8" cy="133.6" r="0.28" fill="#333"/><circle cx="66.9" cy="135.9" r="0.28" fill="#333"/><circle cx="61.8" cy="135.2" r="0.28" fill="#333"/><circle cx="64.3" cy="136.2" r="0.28" fill="#333"/><circle cx="65.6" cy="135.4" r="0.28" fill="#333"/><circle cx="64.9" cy="137.2" r="0.28" fill="#333"/><circle cx="70.5" cy="134.9" r="0.28" fill="#333"/><circle cx="68.7" cy="134.3" r="0.28" fill="#333"/><circle cx="66.2" cy="136.7" r="0.28" fill="#333"/><circle cx="70.8" cy="134.9" r="0.28" fill="#333"/><circle cx="65.8" cy="135.8" r="0.28" fill="#333"/><circle cx="61.2" cy="135.5" r="0.28" fill="#333"/><circle cx="63.8" cy="136.1" r="0.28" fill="#333"/><circle cx="62.4" cy="132.3" r="0.28" fill="#333"/><circle cx="66.1" cy="135.9" r="0.28" fill="#333"/><circle cx="64.2" cy="136.9" r="0.28" fill="#333"/><circle cx="65.1" cy="134.5" r="0.28" fill="#333"/><circle cx="67.5" cy="133.0" r="0.28" fill="#333"/><circle cx="63.8" cy="135.5" r="0.28" fill="#333"/><circle cx="68.7" cy="135.2" r="0.28" fill="#333"/><circle cx="67.0" cy="134.5" r="0.28" fill="#333"/><circle cx="67.0" cy="138.2" r="0.28" fill="#333"/><circle cx="63.8" cy="139.3" r="0.28" fill="#333"/><circle cx="63.9" cy="135.5" r="0.28" fill="#333"/><circle cx="66.6" cy="137.1" r="0.28" fill="#333"/><circle cx="62.0" cy="132.1" r="0.28" fill="#333"/><circle cx="67.9" cy="136.8" r="0.28" fill="#333"/><circle cx="68.0" cy="139.7" r="0.28" fill="#333"/><circle cx="66.7" cy="135.9" r="0.28" fill="#333"/><circle cx="69.0" cy="136.1" r="0.28" fill="#333"/><circle cx="71.3" cy="133.5" r="0.28" fill="#333"/><circle cx="64.8" cy="130.0" r="0.28" fill="#333"/><circle cx="68.6" cy="134.9" r="0.28" fill="#333"/><circle cx="69.0" cy="138.9" r="0.28" fill="#333"/><circle cx="66.0" cy="135.1" r="0.28" fill="#333"/><circle cx="64.4" cy="134.2" r="0.28" fill="#333"/><circle cx="64.0" cy="136.5" r="0.28" fill="#333"/><circle cx="66.1" cy="135.6" r="0.28" fill="#333"/><circle cx="65.4" cy="137.0" r="0.28" fill="#333"/><circle cx="67.6" cy="135.3" r="0.28" fill="#333"/><circle cx="68.1" cy="135.3" r="0.28" fill="#333"/><circle cx="62.3" cy="137.8" r="0.28" fill="#333"/><circle cx="67.5" cy="134.0" r="0.28" fill="#333"/><circle cx="69.5" cy="136.1" r="0.28" fill="#333"/><circle cx="61.0" cy="138.1" r="0.28" fill="#333"/><circle cx="67.1" cy="136.9" r="0.28" fill="#333"/><circle cx="66.6" cy="135.3" r="0.28" fill="#333"/><circle cx="61.0" cy="137.1" r="0.28" fill="#333"/><circle cx="66.1" cy="135.0" r="0.28" fill="#333"/><circle cx="67.1" cy="135.6" r="0.28" fill="#333"/><circle cx="68.2" cy="134.9" r="0.28" fill="#333"/><circle cx="65.9" cy="132.1" r="0.28" fill="#333"/><circle cx="64.6" cy="136.6" r="0.28" fill="#333"/><circle cx="70.3" cy="134.9" r="0.28" fill="#333"/><circle cx="65.6" cy="138.0" r="0.28" fill="#333"/><circle cx="65.0" cy="136.7" r="0.28" fill="#333"/><circle cx="71.4" cy="135.6" r="0.28" fill="#333"/><circle cx="69.9" cy="134.4" r="0.28" fill="#333"/><circle cx="66.7" cy="135.4" r="0.28" fill="#333"/><circle cx="66.4" cy="137.3" r="0.28" fill="#333"/><circle cx="73.6" cy="134.4" r="0.28" fill="#333"/><circle cx="64.2" cy="136.3" r="0.28" fill="#333"/><circle cx="62.6" cy="136.3" r="0.28" fill="#333"/><circle cx="67.8" cy="135.1" r="0.28" fill="#333"/><circle cx="67.7" cy="133.0" r="0.28" fill="#333"/><circle cx="68.4" cy="133.0" r="0.28" fill="#333"/><circle cx="63.8" cy="134.6" r="0.28" fill="#333"/><circle cx="64.7" cy="136.9" r="0.28" fill="#333"/><circle cx="66.3" cy="134.9" r="0.28" fill="#333"/><circle cx="67.7" cy="138.0" r="0.28" fill="#333"/><circle cx="66.0" cy="136.1" r="0.28" fill="#333"/><circle cx="70.0" cy="135.9" r="0.28" fill="#333"/><circle cx="61.9" cy="139.5" r="0.28" fill="#333"/><circle cx="73.1" cy="132.3" r="0.28" fill="#333"/><circle cx="65.9" cy="136.2" r="0.28" fill="#333"/><circle cx="69.1" cy="136.6" r="0.28" fill="#333"/><circle cx="65.1" cy="133.8" r="0.28" fill="#333"/><circle cx="66.3" cy="137.2" r="0.28" fill="#333"/><circle cx="62.5" cy="133.9" r="0.28" fill="#333"/><circle cx="65.9" cy="132.4" r="0.28" fill="#333"/><circle cx="65.2" cy="134.8" r="0.28" fill="#333"/><circle cx="67.4" cy="134.4" r="0.28" fill="#333"/><circle cx="63.2" cy="134.9" r="0.28" fill="#333"/><circle cx="65.8" cy="134.4" r="0.28" fill="#333"/><circle cx="66.0" cy="136.7" r="0.28" fill="#333"/><circle cx="69.8" cy="138.2" r="0.28" fill="#333"/><circle cx="63.5" cy="134.8" r="0.28" fill="#333"/><circle cx="58.1" cy="138.5" r="0.28" fill="#333"/><circle cx="63.7" cy="135.4" r="0.28" fill="#333"/><circle cx="67.7" cy="133.3" r="0.28" fill="#333"/><circle cx="67.5" cy="135.5" r="0.28" fill="#333"/><circle cx="60.2" cy="136.0" r="0.28" fill="#333"/><circle cx="69.8" cy="132.5" r="0.28" fill="#333"/><circle cx="68.6" cy="135.8" r="0.28" fill="#333"/><circle cx="67.5" cy="136.2" r="0.28" fill="#333"/><circle cx="70.2" cy="135.1" r="0.28" fill="#333"/><circle cx="68.8" cy="134.8" r="0.28" fill="#333"/><circle cx="68.3" cy="134.2" r="0.28" fill="#333"/><circle cx="65.7" cy="138.3" r="0.28" fill="#333"/><circle cx="67.4" cy="135.2" r="0.28" fill="#333"/><circle cx="62.3" cy="134.2" r="0.28" fill="#333"/><circle cx="66.6" cy="137.0" r="0.28" fill="#333"/><circle cx="67.4" cy="136.3" r="0.28" fill="#333"/><circle cx="65.9" cy="137.7" r="0.28" fill="#333"/><circle cx="64.7" cy="134.6" r="0.28" fill="#333"/><circle cx="68.8" cy="135.6" r="0.28" fill="#333"/><circle cx="65.1" cy="134.6" r="0.28" fill="#333"/><circle cx="65.2" cy="136.5" r="0.28" fill="#333"/><circle cx="67.1" cy="133.6" r="0.28" fill="#333"/><circle cx="67.4" cy="135.8" r="0.28" fill="#333"/><circle cx="62.8" cy="136.7" r="0.28" fill="#333"/><circle cx="65.1" cy="135.0" r="0.28" fill="#333"/><circle cx="68.5" cy="137.6" r="0.28" fill="#333"/><circle cx="63.8" cy="136.2" r="0.28" fill="#333"/><circle cx="63.2" cy="139.2" r="0.28" fill="#333"/><circle cx="55.6" cy="139.6" r="0.28" fill="#888"/><circle cx="53.6" cy="138.4" r="0.28" fill="#888"/><circle cx="90.8" cy="128.4" r="0.28" fill="#888"/><circle cx="56.4" cy="137.5" r="0.28" fill="#888"/><circle cx="60.8" cy="134.0" r="0.28" fill="#888"/><circle cx="90.0" cy="136.2" r="0.28" fill="#888"/><circle cx="40.6" cy="138.6" r="0.28" fill="#888"/><circle cx="39.6" cy="139.5" r="0.28" fill="#888"/><circle cx="54.5" cy="136.4" r="0.28" fill="#888"/><circle cx="78.4" cy="136.4" r="0.28" fill="#888"/><circle cx="43.9" cy="130.9" r="0.28" fill="#888"/><circle cx="77.4" cy="138.2" r="0.28" fill="#888"/><circle cx="51.4" cy="138.6" r="0.28" fill="#888"/><circle cx="68.5" cy="137.9" r="0.28" fill="#888"/><circle cx="73.7" cy="138.2" r="0.28" fill="#888"/><circle cx="73.5" cy="128.6" r="0.28" fill="#888"/><circle cx="64.2" cy="137.5" r="0.28" fill="#888"/><circle cx="57.7" cy="136.1" r="0.28" fill="#888"/><circle cx="73.5" cy="134.7" r="0.28" fill="#888"/><circle cx="76.9" cy="133.6" r="0.28" fill="#888"/><circle cx="65.5" cy="134.4" r="0.28" fill="#888"/><circle cx="64.1" cy="133.9" r="0.28" fill="#888"/><circle cx="41.2" cy="139.3" r="0.28" fill="#888"/><circle cx="65.9" cy="134.3" r="0.28" fill="#888"/><circle cx="64.6" cy="139.0" r="0.28" fill="#888"/><circle cx="49.3" cy="135.7" r="0.28" fill="#888"/><circle cx="69.0" cy="137.6" r="0.28" fill="#888"/><circle cx="57.6" cy="129.7" r="0.28" fill="#888"/><circle cx="78.2" cy="137.0" r="0.28" fill="#888"/><circle cx="62.2" cy="135.2" r="0.28" fill="#888"/><circle cx="65.4" cy="134.7" r="0.28" fill="#888"/><circle cx="48.7" cy="133.8" r="0.28" fill="#888"/><circle cx="54.2" cy="134.2" r="0.28" fill="#888"/><circle cx="46.9" cy="137.9" r="0.28" fill="#888"/><circle cx="45.0" cy="138.0" r="0.28" fill="#888"/><circle cx="48.8" cy="137.1" r="0.28" fill="#888"/><circle cx="79.9" cy="136.6" r="0.28" fill="#888"/><circle cx="52.5" cy="136.1" r="0.28" fill="#888"/><circle cx="63.9" cy="130.8" r="0.28" fill="#888"/><circle cx="54.1" cy="136.5" r="0.28" fill="#888"/><circle cx="55.9" cy="136.2" r="0.28" fill="#888"/><circle cx="71.5" cy="138.3" r="0.28" fill="#888"/><circle cx="73.8" cy="137.8" r="0.28" fill="#888"/><circle cx="58.3" cy="135.9" r="0.28" fill="#888"/><circle cx="58.5" cy="135.1" r="0.28" fill="#888"/><circle cx="59.7" cy="130.8" r="0.28" fill="#888"/><circle cx="57.7" cy="135.9" r="0.28" fill="#888"/><circle cx="49.3" cy="135.9" r="0.28" fill="#888"/><circle cx="68.7" cy="135.5" r="0.28" fill="#888"/><circle cx="89.0" cy="128.2" r="0.28" fill="#888"/><circle cx="59.3" cy="130.5" r="0.28" fill="#888"/><circle cx="74.7" cy="144.0" r="0.28" fill="#888"/><circle cx="68.7" cy="135.1" r="0.28" fill="#888"/><circle cx="69.2" cy="129.3" r="0.28" fill="#888"/><circle cx="73.1" cy="137.1" r="0.28" fill="#888"/><circle cx="62.3" cy="134.2" r="0.28" fill="#888"/><circle cx="70.3" cy="134.5" r="0.28" fill="#888"/><circle cx="64.9" cy="134.5" r="0.28" fill="#888"/><circle cx="64.6" cy="138.3" r="0.28" fill="#888"/><circle cx="50.6" cy="135.9" r="0.28" fill="#888"/><circle cx="70.0" cy="136.4" r="0.28" fill="#888"/><circle cx="78.2" cy="142.0" r="0.28" fill="#888"/><circle cx="50.2" cy="130.2" r="0.28" fill="#888"/><circle cx="73.1" cy="140.6" r="0.28" fill="#888"/><circle cx="74.0" cy="138.4" r="0.28" fill="#888"/><circle cx="54.0" cy="133.9" r="0.28" fill="#888"/><circle cx="73.5" cy="133.3" r="0.28" fill="#888"/><circle cx="53.1" cy="133.8" r="0.28" fill="#888"/><circle cx="65.0" cy="133.8" r="0.28" fill="#888"/><circle cx="79.0" cy="135.8" r="0.28" fill="#888"/><circle cx="47.9" cy="139.9" r="0.28" fill="#888"/><circle cx="54.4" cy="136.7" r="0.28" fill="#888"/><circle cx="61.8" cy="135.1" r="0.28" fill="#888"/><circle cx="66.2" cy="133.9" r="0.28" fill="#888"/><circle cx="45.5" cy="133.7" r="0.28" fill="#888"/><circle cx="61.7" cy="136.2" r="0.28" fill="#888"/><circle cx="69.2" cy="136.4" r="0.28" fill="#888"/><circle cx="51.7" cy="133.9" r="0.28" fill="#888"/><circle cx="68.3" cy="137.6" r="0.28" fill="#888"/><circle cx="60.4" cy="135.5" r="0.28" fill="#888"/><circle cx="74.2" cy="136.0" r="0.28" fill="#888"/><circle cx="71.6" cy="137.7" r="0.28" fill="#888"/><circle cx="64.8" cy="139.9" r="0.28" fill="#888"/><circle cx="54.6" cy="134.9" r="0.28" fill="#888"/><circle cx="51.5" cy="133.6" r="0.28" fill="#888"/><circle cx="82.2" cy="141.3" r="0.28" fill="#888"/><circle cx="62.3" cy="137.7" r="0.28" fill="#888"/><circle cx="77.3" cy="138.4" r="0.28" fill="#888"/><circle cx="77.7" cy="132.2" r="0.28" fill="#888"/><circle cx="53.7" cy="137.4" r="0.28" fill="#888"/><circle cx="80.7" cy="136.3" r="0.28" fill="#888"/><circle cx="50.8" cy="134.9" r="0.28" fill="#888"/><circle cx="53.4" cy="133.4" r="0.28" fill="#888"/><circle cx="81.5" cy="134.1" r="0.28" fill="#888"/><circle cx="62.3" cy="142.5" r="0.28" fill="#888"/><circle cx="77.4" cy="137.0" r="0.28" fill="#888"/><circle cx="54.0" cy="137.2" r="0.28" fill="#888"/><circle cx="83.1" cy="137.9" r="0.28" fill="#888"/><circle cx="78.4" cy="136.3" r="0.28" fill="#888"/><circle cx="68.7" cy="135.4" r="0.28" fill="#888"/><circle cx="67.5" cy="139.9" r="0.28" fill="#888"/><circle cx="43.4" cy="135.8" r="0.28" fill="#888"/><circle cx="65.1" cy="134.3" r="0.28" fill="#888"/><circle cx="58.0" cy="138.4" r="0.28" fill="#888"/><circle cx="88.0" cy="137.9" r="0.28" fill="#888"/><circle cx="66.2" cy="131.3" r="0.28" fill="#888"/><circle cx="87.1" cy="136.2" r="0.28" fill="#888"/><circle cx="61.6" cy="132.6" r="0.28" fill="#888"/><circle cx="61.3" cy="132.7" r="0.28" fill="#888"/><circle cx="62.9" cy="137.4" r="0.28" fill="#888"/><circle cx="62.4" cy="136.8" r="0.28" fill="#888"/><circle cx="50.9" cy="140.3" r="0.28" fill="#888"/><circle cx="58.5" cy="140.1" r="0.28" fill="#999"/><circle cx="63.1" cy="146.4" r="0.28" fill="#999"/><circle cx="54.9" cy="148.9" r="0.28" fill="#999"/><circle cx="67.9" cy="143.9" r="0.28" fill="#999"/><circle cx="63.6" cy="159.6" r="0.28" fill="#999"/><circle cx="71.8" cy="150.1" r="0.28" fill="#999"/><circle cx="66.3" cy="150.3" r="0.28" fill="#999"/><circle cx="64.5" cy="155.4" r="0.28" fill="#999"/><circle cx="64.1" cy="136.6" r="0.28" fill="#999"/><circle cx="64.8" cy="145.7" r="0.28" fill="#999"/><circle cx="71.5" cy="147.3" r="0.28" fill="#999"/><circle cx="66.5" cy="164.1" r="0.28" fill="#999"/><circle cx="54.5" cy="144.3" r="0.28" fill="#999"/><circle cx="50.9" cy="136.6" r="0.28" fill="#999"/><circle cx="46.2" cy="153.2" r="0.28" fill="#999"/><circle cx="58.6" cy="139.8" r="0.28" fill="#999"/><circle cx="50.2" cy="154.7" r="0.28" fill="#999"/><circle cx="57.2" cy="148.8" r="0.28" fill="#999"/><circle cx="68.3" cy="159.1" r="0.28" fill="#999"/><circle cx="84.4" cy="157.2" r="0.28" fill="#999"/><circle cx="66.4" cy="152.1" r="0.28" fill="#999"/><circle cx="83.0" cy="159.6" r="0.28" fill="#999"/><circle cx="61.9" cy="153.7" r="0.28" fill="#999"/><circle cx="67.9" cy="151.3" r="0.28" fill="#999"/><circle cx="60.0" cy="143.0" r="0.28" fill="#999"/><circle cx="59.7" cy="141.7" r="0.28" fill="#999"/><circle cx="77.2" cy="154.2" r="0.28" fill="#999"/><circle cx="52.9" cy="159.4" r="0.28" fill="#999"/><circle cx="73.9" cy="139.5" r="0.28" fill="#999"/><circle cx="83.4" cy="155.9" r="0.28" fill="#999"/><circle cx="85.6" cy="143.6" r="0.28" fill="#999"/><circle cx="70.3" cy="153.5" r="0.28" fill="#999"/><circle cx="67.0" cy="152.0" r="0.28" fill="#999"/><circle cx="75.5" cy="142.0" r="0.28" fill="#999"/><circle cx="52.6" cy="142.6" r="0.28" fill="#999"/><circle cx="59.4" cy="147.4" r="0.28" fill="#999"/><circle cx="68.7" cy="152.6" r="0.28" fill="#999"/><circle cx="65.3" cy="146.9" r="0.28" fill="#999"/><circle cx="60.6" cy="156.7" r="0.28" fill="#999"/><circle cx="72.6" cy="151.6" r="0.28" fill="#999"/><circle cx="61.8" cy="160.3" r="0.28" fill="#999"/><circle cx="59.1" cy="154.9" r="0.28" fill="#999"/><circle cx="76.5" cy="149.4" r="0.28" fill="#999"/><circle cx="73.3" cy="144.3" r="0.28" fill="#999"/><circle cx="75.1" cy="152.2" r="0.28" fill="#999"/><circle cx="49.1" cy="155.0" r="0.28" fill="#999"/><circle cx="56.1" cy="158.7" r="0.28" fill="#999"/><circle cx="58.2" cy="150.0" r="0.28" fill="#999"/><circle cx="67.8" cy="149.0" r="0.28" fill="#999"/><circle cx="67.6" cy="147.7" r="0.28" fill="#999"/><circle cx="71.7" cy="151.0" r="0.28" fill="#999"/><circle cx="67.1" cy="134.5" r="0.28" fill="#999"/><circle cx="76.6" cy="151.2" r="0.28" fill="#999"/><circle cx="47.2" cy="151.6" r="0.28" fill="#999"/><circle cx="69.7" cy="157.4" r="0.28" fill="#999"/><circle cx="54.2" cy="160.3" r="0.28" fill="#999"/><circle cx="63.4" cy="165.4" r="0.28" fill="#999"/><circle cx="63.5" cy="155.1" r="0.28" fill="#999"/><circle cx="61.3" cy="144.3" r="0.28" fill="#999"/><circle cx="76.0" cy="156.4" r="0.28" fill="#999"/><circle cx="80.4" cy="156.1" r="0.28" fill="#999"/><circle cx="59.3" cy="141.0" r="0.28" fill="#999"/><circle cx="58.5" cy="146.9" r="0.28" fill="#999"/><circle cx="56.8" cy="154.5" r="0.28" fill="#999"/><circle cx="68.3" cy="149.4" r="0.28" fill="#999"/><circle cx="66.7" cy="150.1" r="0.28" fill="#999"/><circle cx="67.1" cy="155.5" r="0.28" fill="#999"/><circle cx="74.6" cy="146.9" r="0.28" fill="#999"/><circle cx="49.9" cy="159.6" r="0.28" fill="#999"/><circle cx="66.1" cy="157.6" r="0.28" fill="#999"/><circle cx="48.6" cy="149.0" r="0.28" fill="#999"/><circle cx="65.3" cy="142.4" r="0.28" fill="#999"/><circle cx="59.8" cy="155.3" r="0.28" fill="#999"/><circle cx="75.8" cy="160.6" r="0.28" fill="#999"/><circle cx="56.4" cy="142.6" r="0.28" fill="#999"/><circle cx="70.2" cy="156.6" r="0.28" fill="#999"/><circle cx="66.9" cy="143.2" r="0.28" fill="#999"/><circle cx="72.8" cy="155.8" r="0.28" fill="#999"/><circle cx="70.5" cy="148.1" r="0.28" fill="#999"/><circle cx="68.0" cy="155.7" r="0.28" fill="#999"/><circle cx="59.4" cy="139.9" r="0.28" fill="#999"/><circle cx="68.3" cy="153.9" r="0.28" fill="#999"/><circle cx="65.1" cy="156.3" r="0.28" fill="#999"/><circle cx="59.1" cy="150.5" r="0.28" fill="#999"/><circle cx="61.9" cy="154.4" r="0.28" fill="#999"/><circle cx="81.0" cy="149.5" r="0.28" fill="#999"/><circle cx="85.5" cy="160.2" r="0.28" fill="#999"/><circle cx="72.9" cy="154.5" r="0.28" fill="#999"/><circle cx="82.7" cy="149.9" r="0.28" fill="#999"/><circle cx="63.9" cy="144.6" r="0.28" fill="#999"/><circle cx="69.7" cy="159.1" r="0.28" fill="#999"/><circle cx="70.3" cy="153.5" r="0.28" fill="#999"/><circle cx="63.0" cy="152.0" r="0.28" fill="#999"/><circle cx="50.7" cy="157.3" r="0.28" fill="#999"/><circle cx="60.9" cy="144.4" r="0.28" fill="#999"/><circle cx="57.5" cy="146.1" r="0.28" fill="#999"/><circle cx="73.6" cy="157.3" r="0.28" fill="#999"/><circle cx="51.4" cy="156.6" r="0.28" fill="#999"/><circle cx="73.9" cy="147.5" r="0.28" fill="#999"/><circle cx="50.1" cy="146.5" r="0.28" fill="#999"/><circle cx="58.7" cy="153.1" r="0.28" fill="#999"/><circle cx="61.4" cy="138.8" r="0.28" fill="#999"/><circle cx="67.3" cy="141.8" r="0.28" fill="#999"/><circle cx="74.1" cy="143.8" r="0.28" fill="#999"/><circle cx="58.1" cy="145.9" r="0.28" fill="#999"/><circle cx="59.6" cy="158.8" r="0.28" fill="#999"/><circle cx="73.5" cy="154.6" r="0.28" fill="#999"/><circle cx="68.2" cy="141.7" r="0.28" fill="#999"/><circle cx="59.8" cy="147.7" r="0.28" fill="#999"/><circle cx="55.2" cy="154.1" r="0.28" fill="#999"/><circle cx="57.6" cy="146.7" r="0.28" fill="#999"/><circle cx="54.6" cy="138.7" r="0.28" fill="#999"/><circle cx="71.0" cy="159.0" r="0.28" fill="#999"/><circle cx="66.7" cy="145.1" r="0.28" fill="#999"/><circle cx="77.2" cy="152.8" r="0.28" fill="#999"/><circle cx="74.3" cy="159.9" r="0.28" fill="#999"/><circle cx="76.3" cy="148.4" r="0.28" fill="#999"/><circle cx="75.5" cy="155.7" r="0.28" fill="#999"/><circle cx="49.6" cy="148.6" r="0.28" fill="#999"/><circle cx="50.8" cy="150.3" r="0.28" fill="#999"/><circle cx="70.8" cy="144.6" r="0.28" fill="#999"/><circle cx="44.4" cy="158.8" r="0.28" fill="#999"/><circle cx="68.8" cy="159.8" r="0.28" fill="#999"/><circle cx="51.8" cy="157.4" r="0.28" fill="#999"/><circle cx="85.7" cy="163.0" r="0.28" fill="#999"/><circle cx="62.9" cy="152.6" r="0.28" fill="#999"/><circle cx="63.5" cy="157.0" r="0.28" fill="#999"/><circle cx="75.4" cy="151.5" r="0.28" fill="#999"/><circle cx="51.4" cy="155.4" r="0.28" fill="#999"/><circle cx="60.3" cy="154.8" r="0.28" fill="#999"/><circle cx="67.6" cy="160.7" r="0.28" fill="#999"/><circle cx="76.4" cy="148.3" r="0.28" fill="#999"/><circle cx="68.5" cy="161.6" r="0.28" fill="#999"/><circle cx="59.6" cy="153.6" r="0.28" fill="#999"/><circle cx="76.9" cy="158.5" r="0.28" fill="#999"/><circle cx="70.2" cy="143.1" r="0.28" fill="#999"/><circle cx="52.4" cy="152.5" r="0.28" fill="#999"/><circle cx="68.9" cy="166.3" r="0.28" fill="#999"/><circle cx="56.4" cy="157.8" r="0.28" fill="#999"/><circle cx="72.7" cy="141.0" r="0.28" fill="#999"/><circle cx="56.8" cy="152.0" r="0.28" fill="#999"/><circle cx="60.1" cy="150.1" r="0.28" fill="#999"/><circle cx="69.7" cy="146.1" r="0.28" fill="#999"/><circle cx="69.7" cy="147.2" r="0.28" fill="#999"/><circle cx="59.6" cy="154.2" r="0.28" fill="#999"/><circle cx="59.3" cy="152.7" r="0.28" fill="#999"/><circle cx="81.0" cy="151.2" r="0.28" fill="#999"/><circle cx="63.5" cy="155.4" r="0.28" fill="#999"/><circle cx="61.3" cy="157.5" r="0.28" fill="#999"/><circle cx="52.2" cy="154.7" r="0.28" fill="#999"/><circle cx="59.9" cy="146.2" r="0.28" fill="#999"/><circle cx="82.7" cy="145.9" r="0.28" fill="#999"/><circle cx="82.6" cy="154.9" r="0.28" fill="#999"/><circle cx="79.5" cy="145.1" r="0.28" fill="#999"/><circle cx="77.0" cy="159.7" r="0.28" fill="#999"/><circle cx="63.8" cy="150.2" r="0.28" fill="#999"/><circle cx="89.6" cy="152.1" r="0.28" fill="#999"/><circle cx="60.8" cy="147.2" r="0.28" fill="#999"/><circle cx="69.5" cy="153.0" r="0.28" fill="#999"/><circle cx="66.8" cy="161.3" r="0.28" fill="#999"/><circle cx="61.7" cy="153.8" r="0.28" fill="#999"/><circle cx="79.6" cy="145.0" r="0.28" fill="#999"/><circle cx="75.4" cy="162.0" r="0.28" fill="#999"/><circle cx="51.5" cy="144.4" r="0.28" fill="#999"/><circle cx="54.6" cy="139.9" r="0.28" fill="#999"/><circle cx="69.5" cy="139.9" r="0.28" fill="#999"/><circle cx="70.0" cy="159.7" r="0.28" fill="#999"/><circle cx="48.8" cy="149.1" r="0.28" fill="#999"/><circle cx="45.8" cy="155.7" r="0.28" fill="#999"/><circle cx="57.6" cy="149.4" r="0.28" fill="#999"/><circle cx="65.5" cy="154.3" r="0.28" fill="#999"/><circle cx="61.5" cy="151.1" r="0.28" fill="#999"/><circle cx="59.5" cy="151.7" r="0.28" fill="#999"/><circle cx="53.3" cy="151.4" r="0.28" fill="#999"/><circle cx="45.7" cy="148.1" r="0.28" fill="#999"/><circle cx="84.2" cy="151.5" r="0.28" fill="#999"/><circle cx="52.4" cy="152.5" r="0.28" fill="#999"/><circle cx="55.3" cy="141.1" r="0.28" fill="#999"/><circle cx="57.6" cy="155.4" r="0.28" fill="#999"/><circle cx="68.8" cy="150.4" r="0.28" fill="#999"/><circle cx="55.7" cy="144.5" r="0.28" fill="#999"/><circle cx="78.5" cy="152.5" r="0.28" fill="#999"/><circle cx="55.5" cy="138.3" r="0.28" fill="#999"/><circle cx="51.3" cy="165.9" r="0.28" fill="#999"/><circle cx="53.5" cy="150.5" r="0.28" fill="#999"/><circle cx="67.1" cy="150.1" r="0.28" fill="#999"/><circle cx="62.2" cy="142.8" r="0.28" fill="#999"/><circle cx="54.5" cy="161.1" r="0.28" fill="#999"/><circle cx="57.4" cy="156.1" r="0.28" fill="#999"/><circle cx="48.1" cy="149.4" r="0.28" fill="#999"/><circle cx="67.6" cy="157.2" r="0.28" fill="#999"/><circle cx="53.8" cy="154.6" r="0.28" fill="#999"/><circle cx="68.9" cy="146.6" r="0.28" fill="#999"/><circle cx="69.8" cy="145.6" r="0.28" fill="#999"/><circle cx="57.0" cy="150.9" r="0.28" fill="#999"/><circle cx="55.0" cy="142.2" r="0.28" fill="#999"/><circle cx="60.7" cy="155.6" r="0.28" fill="#999"/><circle cx="61.0" cy="158.6" r="0.28" fill="#999"/><circle cx="53.4" cy="143.1" r="0.28" fill="#999"/><circle cx="80.5" cy="153.4" r="0.28" fill="#999"/><circle cx="74.5" cy="146.0" r="0.28" fill="#999"/><circle cx="73.0" cy="152.6" r="0.28" fill="#999"/><circle cx="71.5" cy="151.2" r="0.28" fill="#999"/><circle cx="77.1" cy="147.1" r="0.28" fill="#999"/><circle cx="55.4" cy="142.1" r="0.28" fill="#999"/><circle cx="76.6" cy="146.6" r="0.28" fill="#999"/><circle cx="54.6" cy="145.4" r="0.28" fill="#999"/><circle cx="60.5" cy="143.4" r="0.28" fill="#999"/><circle cx="62.1" cy="147.2" r="0.28" fill="#999"/><circle cx="59.5" cy="145.2" r="0.28" fill="#999"/><circle cx="65.4" cy="148.2" r="0.28" fill="#999"/><circle cx="66.1" cy="152.5" r="0.28" fill="#999"/><circle cx="68.4" cy="137.9" r="0.28" fill="#999"/><circle cx="59.6" cy="146.2" r="0.28" fill="#999"/><circle cx="72.7" cy="141.5" r="0.28" fill="#999"/><circle cx="57.9" cy="149.2" r="0.28" fill="#999"/><circle cx="61.6" cy="156.9" r="0.28" fill="#999"/><circle cx="60.6" cy="156.8" r="0.28" fill="#999"/><circle cx="50.3" cy="140.1" r="0.28" fill="#999"/><circle cx="77.2" cy="153.6" r="0.28" fill="#999"/><circle cx="69.9" cy="151.7" r="0.28" fill="#999"/><circle cx="69.8" cy="143.7" r="0.28" fill="#999"/><circle cx="74.5" cy="147.8" r="0.28" fill="#999"/><circle cx="74.9" cy="151.5" r="0.28" fill="#999"/><circle cx="45.3" cy="143.3" r="0.28" fill="#999"/><circle cx="76.3" cy="150.2" r="0.28" fill="#999"/><circle cx="61.0" cy="152.5" r="0.28" fill="#999"/><circle cx="60.7" cy="147.7" r="0.28" fill="#999"/><circle cx="66.0" cy="151.9" r="0.28" fill="#999"/><circle cx="80.2" cy="151.3" r="0.28" fill="#999"/><circle cx="83.8" cy="161.8" r="0.28" fill="#999"/><circle cx="82.2" cy="157.4" r="0.28" fill="#999"/><circle cx="66.3" cy="151.8" r="0.28" fill="#999"/><circle cx="63.6" cy="146.6" r="0.28" fill="#999"/><circle cx="64.3" cy="147.2" r="0.28" fill="#999"/><circle cx="81.4" cy="154.2" r="0.28" fill="#999"/><circle cx="60.5" cy="139.5" r="0.28" fill="#999"/><circle cx="64.5" cy="148.5" r="0.28" fill="#999"/><circle cx="54.1" cy="144.2" r="0.28" fill="#999"/><circle cx="42.5" cy="154.4" r="0.28" fill="#999"/><circle cx="64.3" cy="166.5" r="0.28" fill="#999"/><circle cx="64.7" cy="150.1" r="0.28" fill="#999"/><circle cx="79.4" cy="151.8" r="0.28" fill="#999"/><circle cx="66.7" cy="148.8" r="0.28" fill="#999"/><circle cx="58.9" cy="160.0" r="0.28" fill="#999"/><circle cx="75.0" cy="161.3" r="0.28" fill="#999"/><circle cx="61.5" cy="151.2" r="0.28" fill="#999"/><circle cx="56.2" cy="156.8" r="0.28" fill="#999"/><circle cx="51.1" cy="154.4" r="0.28" fill="#999"/><circle cx="76.0" cy="159.5" r="0.28" fill="#999"/><circle cx="55.6" cy="157.5" r="0.28" fill="#999"/><circle cx="57.9" cy="146.5" r="0.28" fill="#999"/><circle cx="51.8" cy="157.9" r="0.28" fill="#999"/><circle cx="81.5" cy="147.4" r="0.28" fill="#999"/><circle cx="57.4" cy="149.0" r="0.28" fill="#999"/><circle cx="90.1" cy="157.0" r="0.28" fill="#999"/><circle cx="59.6" cy="140.2" r="0.28" fill="#999"/><circle cx="58.3" cy="158.1" r="0.28" fill="#999"/><circle cx="83.7" cy="149.4" r="0.28" fill="#999"/><circle cx="58.1" cy="147.9" r="0.28" fill="#999"/><circle cx="46.1" cy="156.4" r="0.28" fill="#999"/><circle cx="54.1" cy="157.4" r="0.28" fill="#999"/><circle cx="47.9" cy="143.4" r="0.28" fill="#999"/><circle cx="67.9" cy="146.4" r="0.28" fill="#999"/><circle cx="72.8" cy="151.0" r="0.28" fill="#999"/><circle cx="53.3" cy="154.7" r="0.28" fill="#999"/><circle cx="73.4" cy="139.5" r="0.28" fill="#999"/><circle cx="83.3" cy="154.0" r="0.28" fill="#999"/><circle cx="72.6" cy="139.8" r="0.28" fill="#999"/><circle cx="57.8" cy="148.9" r="0.28" fill="#999"/><circle cx="75.8" cy="142.2" r="0.28" fill="#999"/><circle cx="56.2" cy="138.8" r="0.28" fill="#999"/><circle cx="62.6" cy="153.1" r="0.28" fill="#999"/><circle cx="48.1" cy="147.5" r="0.28" fill="#999"/><circle cx="70.1" cy="160.5" r="0.28" fill="#999"/><circle cx="71.6" cy="149.2" r="0.28" fill="#999"/><circle cx="53.2" cy="145.4" r="0.28" fill="#999"/><circle cx="58.4" cy="151.9" r="0.28" fill="#999"/><circle cx="59.7" cy="163.7" r="0.28" fill="#888"/><circle cx="61.7" cy="152.7" r="0.28" fill="#888"/><circle cx="69.3" cy="160.8" r="0.28" fill="#888"/><circle cx="60.6" cy="154.1" r="0.28" fill="#888"/><circle cx="48.8" cy="152.9" r="0.28" fill="#888"/><circle cx="65.5" cy="153.8" r="0.28" fill="#888"/><circle cx="52.1" cy="157.8" r="0.28" fill="#888"/><circle cx="61.5" cy="159.4" r="0.28" fill="#888"/><circle cx="63.9" cy="162.6" r="0.28" fill="#888"/><circle cx="55.0" cy="160.9" r="0.28" fill="#888"/><circle cx="54.1" cy="159.8" r="0.28" fill="#888"/><circle cx="61.1" cy="158.0" r="0.28" fill="#888"/><circle cx="65.8" cy="156.9" r="0.28" fill="#888"/><circle cx="66.7" cy="160.5" r="0.28" fill="#888"/><circle cx="60.8" cy="154.7" r="0.28" fill="#888"/><circle cx="55.5" cy="154.9" r="0.28" fill="#888"/><circle cx="58.8" cy="156.9" r="0.28" fill="#888"/><circle cx="77.9" cy="159.6" r="0.28" fill="#888"/><circle cx="64.6" cy="153.6" r="0.28" fill="#888"/><circle cx="55.7" cy="155.7" r="0.28" fill="#888"/><circle cx="61.2" cy="152.9" r="0.28" fill="#888"/><circle cx="69.7" cy="154.7" r="0.28" fill="#888"/><circle cx="66.5" cy="147.7" r="0.28" fill="#888"/><circle cx="60.0" cy="158.1" r="0.28" fill="#888"/><circle cx="61.1" cy="159.4" r="0.28" fill="#888"/><circle cx="61.7" cy="157.6" r="0.28" fill="#888"/><circle cx="48.6" cy="154.1" r="0.28" fill="#888"/><circle cx="45.9" cy="159.5" r="0.28" fill="#888"/><circle cx="61.8" cy="156.2" r="0.28" fill="#888"/><circle cx="55.1" cy="154.7" r="0.28" fill="#888"/><circle cx="71.1" cy="163.9" r="0.28" fill="#888"/><circle cx="59.7" cy="162.2" r="0.28" fill="#888"/><circle cx="50.5" cy="149.3" r="0.28" fill="#888"/><circle cx="57.1" cy="153.5" r="0.28" fill="#888"/><circle cx="56.6" cy="157.8" r="0.28" fill="#888"/><circle cx="78.1" cy="154.4" r="0.28" fill="#888"/><circle cx="60.3" cy="158.1" r="0.28" fill="#888"/><circle cx="59.8" cy="160.7" r="0.28" fill="#888"/><circle cx="70.7" cy="152.0" r="0.28" fill="#888"/><circle cx="61.0" cy="155.9" r="0.28" fill="#888"/><circle cx="62.1" cy="150.9" r="0.28" fill="#888"/><circle cx="49.5" cy="147.7" r="0.28" fill="#888"/><circle cx="63.2" cy="157.8" r="0.28" fill="#888"/><circle cx="60.4" cy="147.5" r="0.28" fill="#888"/><circle cx="57.8" cy="154.0" r="0.28" fill="#888"/><circle cx="51.5" cy="153.3" r="0.28" fill="#888"/><circle cx="64.2" cy="159.2" r="0.28" fill="#888"/><circle cx="59.9" cy="159.1" r="0.28" fill="#888"/><circle cx="56.4" cy="157.3" r="0.28" fill="#888"/><circle cx="60.2" cy="159.2" r="0.28" fill="#888"/><circle cx="59.6" cy="156.4" r="0.28" fill="#888"/><circle cx="59.2" cy="154.4" r="0.28" fill="#888"/><circle cx="73.4" cy="159.1" r="0.28" fill="#888"/><circle cx="62.6" cy="166.2" r="0.28" fill="#888"/><circle cx="68.4" cy="150.8" r="0.28" fill="#888"/><circle cx="64.2" cy="160.4" r="0.28" fill="#888"/><circle cx="71.3" cy="162.3" r="0.28" fill="#888"/><circle cx="64.6" cy="152.3" r="0.28" fill="#888"/><circle cx="54.8" cy="158.1" r="0.28" fill="#888"/><circle cx="63.0" cy="152.9" r="0.28" fill="#888"/><circle cx="57.7" cy="155.4" r="0.28" fill="#888"/><circle cx="60.4" cy="158.3" r="0.28" fill="#888"/><circle cx="58.3" cy="152.1" r="0.28" fill="#888"/><circle cx="67.5" cy="163.4" r="0.28" fill="#888"/><circle cx="59.4" cy="161.1" r="0.28" fill="#888"/><circle cx="62.7" cy="159.6" r="0.28" fill="#888"/><circle cx="62.9" cy="153.9" r="0.28" fill="#888"/><circle cx="63.4" cy="161.0" r="0.28" fill="#888"/><circle cx="54.6" cy="164.9" r="0.28" fill="#888"/><circle cx="72.5" cy="164.3" r="0.28" fill="#888"/><circle cx="71.9" cy="160.0" r="0.28" fill="#888"/><circle cx="58.0" cy="154.6" r="0.28" fill="#888"/><circle cx="55.1" cy="157.5" r="0.28" fill="#888"/><circle cx="59.8" cy="159.7" r="0.28" fill="#888"/><circle cx="47.9" cy="166.2" r="0.28" fill="#888"/><circle cx="73.7" cy="156.9" r="0.28" fill="#888"/><circle cx="64.1" cy="158.9" r="0.28" fill="#888"/><circle cx="61.6" cy="156.2" r="0.28" fill="#888"/><circle cx="59.3" cy="153.7" r="0.28" fill="#888"/><circle cx="61.1" cy="156.9" r="0.28" fill="#888"/><circle cx="61.9" cy="153.6" r="0.28" fill="#888"/><circle cx="60.2" cy="157.2" r="0.28" fill="#888"/><circle cx="63.6" cy="152.7" r="0.28" fill="#888"/><circle cx="62.5" cy="160.9" r="0.28" fill="#888"/><circle cx="63.6" cy="155.5" r="0.28" fill="#888"/><circle cx="57.1" cy="156.1" r="0.28" fill="#888"/><circle cx="64.4" cy="163.2" r="0.28" fill="#888"/><circle cx="59.1" cy="154.4" r="0.28" fill="#888"/><circle cx="62.3" cy="157.8" r="0.28" fill="#888"/><circle cx="54.6" cy="154.1" r="0.28" fill="#888"/><circle cx="59.4" cy="159.7" r="0.28" fill="#888"/><circle cx="52.8" cy="152.9" r="0.28" fill="#888"/><circle cx="63.0" cy="152.1" r="0.28" fill="#888"/><circle cx="60.7" cy="158.4" r="0.28" fill="#888"/><circle cx="59.3" cy="152.9" r="0.28" fill="#888"/><circle cx="59.6" cy="155.7" r="0.28" fill="#888"/><circle cx="62.0" cy="153.6" r="0.28" fill="#888"/><circle cx="66.5" cy="150.3" r="0.28" fill="#888"/><circle cx="58.9" cy="157.0" r="0.28" fill="#888"/><circle cx="65.8" cy="154.6" r="0.28" fill="#888"/><circle cx="63.3" cy="154.7" r="0.28" fill="#888"/><circle cx="64.4" cy="163.9" r="0.28" fill="#888"/><circle cx="57.6" cy="158.8" r="0.28" fill="#888"/><circle cx="54.4" cy="160.9" r="0.28" fill="#888"/><circle cx="67.3" cy="157.1" r="0.28" fill="#888"/><circle cx="53.2" cy="158.6" r="0.28" fill="#888"/><circle cx="66.9" cy="161.4" r="0.28" fill="#888"/><circle cx="64.9" cy="149.7" r="0.28" fill="#888"/><circle cx="55.9" cy="162.7" r="0.28" fill="#888"/><circle cx="52.6" cy="161.5" r="0.28" fill="#888"/><circle cx="71.3" cy="160.0" r="0.28" fill="#888"/><circle cx="66.7" cy="155.7" r="0.28" fill="#888"/><circle cx="52.6" cy="156.6" r="0.28" fill="#888"/><circle cx="58.8" cy="156.8" r="0.28" fill="#888"/><circle cx="64.2" cy="156.4" r="0.28" fill="#888"/><circle cx="61.2" cy="158.7" r="0.28" fill="#888"/><circle cx="60.0" cy="164.4" r="0.28" fill="#888"/><circle cx="62.7" cy="157.3" r="0.28" fill="#888"/><circle cx="58.8" cy="154.5" r="0.28" fill="#888"/><circle cx="68.1" cy="157.6" r="0.28" fill="#888"/><circle cx="65.4" cy="154.6" r="0.28" fill="#aaa"/><circle cx="72.9" cy="155.3" r="0.28" fill="#aaa"/><circle cx="82.7" cy="151.0" r="0.28" fill="#aaa"/><circle cx="77.9" cy="158.9" r="0.28" fill="#aaa"/><circle cx="64.6" cy="158.3" r="0.28" fill="#aaa"/><circle cx="73.2" cy="161.0" r="0.28" fill="#aaa"/><circle cx="70.4" cy="159.8" r="0.28" fill="#aaa"/><circle cx="60.7" cy="151.5" r="0.28" fill="#aaa"/><circle cx="80.3" cy="164.2" r="0.28" fill="#aaa"/><circle cx="73.9" cy="154.4" r="0.28" fill="#aaa"/><circle cx="82.7" cy="145.4" r="0.28" fill="#aaa"/><circle cx="67.6" cy="162.0" r="0.28" fill="#aaa"/><circle cx="79.2" cy="151.8" r="0.28" fill="#aaa"/><circle cx="58.9" cy="166.7" r="0.28" fill="#aaa"/><circle cx="75.2" cy="152.6" r="0.28" fill="#aaa"/><circle cx="74.4" cy="163.4" r="0.28" fill="#aaa"/><circle cx="53.3" cy="164.7" r="0.28" fill="#aaa"/><circle cx="79.9" cy="145.5" r="0.28" fill="#aaa"/><circle cx="80.2" cy="147.3" r="0.28" fill="#aaa"/><circle cx="83.1" cy="160.4" r="0.28" fill="#aaa"/><circle cx="74.0" cy="164.3" r="0.28" fill="#aaa"/><circle cx="68.9" cy="153.8" r="0.28" fill="#aaa"/><circle cx="71.0" cy="157.6" r="0.28" fill="#aaa"/><circle cx="65.3" cy="160.9" r="0.28" fill="#aaa"/><circle cx="78.3" cy="158.4" r="0.28" fill="#aaa"/><circle cx="87.6" cy="156.0" r="0.28" fill="#aaa"/><circle cx="84.5" cy="154.7" r="0.28" fill="#aaa"/><circle cx="80.0" cy="146.4" r="0.28" fill="#aaa"/><circle cx="75.6" cy="156.9" r="0.28" fill="#aaa"/><circle cx="70.0" cy="154.3" r="0.28" fill="#aaa"/><circle cx="71.2" cy="153.7" r="0.28" fill="#aaa"/><circle cx="56.5" cy="154.4" r="0.28" fill="#aaa"/><circle cx="69.6" cy="154.9" r="0.28" fill="#aaa"/><circle cx="65.5" cy="157.2" r="0.28" fill="#aaa"/><circle cx="80.3" cy="156.5" r="0.28" fill="#aaa"/><circle cx="70.1" cy="166.1" r="0.28" fill="#aaa"/><circle cx="81.8" cy="163.5" r="0.28" fill="#aaa"/><circle cx="83.2" cy="156.0" r="0.28" fill="#aaa"/><circle cx="73.0" cy="164.7" r="0.28" fill="#aaa"/><circle cx="69.6" cy="157.3" r="0.28" fill="#aaa"/><circle cx="77.0" cy="160.2" r="0.28" fill="#aaa"/><circle cx="71.8" cy="163.9" r="0.28" fill="#aaa"/><circle cx="72.6" cy="162.4" r="0.28" fill="#aaa"/><circle cx="82.6" cy="162.0" r="0.28" fill="#aaa"/><circle cx="79.9" cy="151.0" r="0.28" fill="#aaa"/><circle cx="63.5" cy="154.3" r="0.28" fill="#aaa"/><circle cx="77.8" cy="167.0" r="0.28" fill="#aaa"/><circle cx="64.2" cy="159.8" r="0.28" fill="#aaa"/><circle cx="67.2" cy="153.6" r="0.28" fill="#aaa"/><circle cx="71.8" cy="162.2" r="0.28" fill="#aaa"/><circle cx="75.7" cy="165.1" r="0.28" fill="#aaa"/><circle cx="66.1" cy="163.3" r="0.28" fill="#aaa"/><circle cx="81.4" cy="158.4" r="0.28" fill="#aaa"/><circle cx="77.8" cy="154.6" r="0.28" fill="#aaa"/><circle cx="65.3" cy="155.6" r="0.28" fill="#aaa"/><circle cx="70.1" cy="167.9" r="0.28" fill="#aaa"/><circle cx="75.6" cy="159.9" r="0.28" fill="#aaa"/><circle cx="79.9" cy="153.3" r="0.28" fill="#aaa"/><circle cx="81.3" cy="160.3" r="0.28" fill="#aaa"/><circle cx="61.9" cy="161.6" r="0.28" fill="#aaa"/><circle cx="78.4" cy="160.7" r="0.28" fill="#aaa"/><circle cx="86.7" cy="155.5" r="0.28" fill="#aaa"/><circle cx="78.1" cy="162.5" r="0.28" fill="#aaa"/><circle cx="66.8" cy="165.2" r="0.28" fill="#aaa"/><circle cx="62.4" cy="150.2" r="0.28" fill="#aaa"/><circle cx="78.2" cy="151.5" r="0.28" fill="#aaa"/><circle cx="73.1" cy="148.1" r="0.28" fill="#aaa"/><circle cx="74.6" cy="151.2" r="0.28" fill="#aaa"/><circle cx="76.7" cy="148.8" r="0.28" fill="#aaa"/><circle cx="77.6" cy="156.4" r="0.28" fill="#aaa"/><circle cx="74.5" cy="157.6" r="0.28" fill="#aaa"/><circle cx="75.0" cy="150.1" r="0.28" fill="#aaa"/><circle cx="53.5" cy="158.2" r="0.28" fill="#aaa"/><circle cx="66.5" cy="155.3" r="0.28" fill="#aaa"/><circle cx="77.4" cy="146.1" r="0.28" fill="#aaa"/><circle cx="67.9" cy="154.3" r="0.28" fill="#aaa"/><circle cx="65.5" cy="160.0" r="0.28" fill="#aaa"/><circle cx="72.9" cy="153.1" r="0.28" fill="#aaa"/><circle cx="66.1" cy="162.8" r="0.28" fill="#aaa"/><circle cx="68.7" cy="161.5" r="0.28" fill="#aaa"/><circle cx="77.6" cy="146.6" r="0.28" fill="#aaa"/><circle cx="65.3" cy="158.0" r="0.28" fill="#aaa"/><circle cx="76.7" cy="162.7" r="0.28" fill="#aaa"/><circle cx="80.4" cy="164.2" r="0.28" fill="#aaa"/><circle cx="71.0" cy="156.7" r="0.28" fill="#aaa"/><circle cx="80.2" cy="155.4" r="0.28" fill="#aaa"/><circle cx="82.5" cy="148.5" r="0.28" fill="#aaa"/><circle cx="79.2" cy="157.0" r="0.28" fill="#aaa"/><circle cx="58.3" cy="163.9" r="0.28" fill="#aaa"/><circle cx="76.5" cy="158.1" r="0.28" fill="#aaa"/><circle cx="65.4" cy="155.2" r="0.28" fill="#aaa"/><circle cx="86.1" cy="153.0" r="0.28" fill="#aaa"/><circle cx="46.2" cy="152.9" r="0.28" fill="#aaa"/><circle cx="64.4" cy="157.2" r="0.28" fill="#aaa"/><circle cx="70.9" cy="152.5" r="0.28" fill="#aaa"/><circle cx="67.3" cy="164.3" r="0.28" fill="#aaa"/><circle cx="62.5" cy="169.7" r="0.28" fill="#aaa"/><circle cx="69.6" cy="151.4" r="0.28" fill="#aaa"/></g>
<defs><radialGradient id="cg2" gradientUnits="userSpaceOnUse" cx="50.75" cy="156.75" r="7.5"><stop offset="0" stop-color="#fff"/><stop offset="0.08" stop-color="#eee"/><stop offset="0.18" stop-color="#555"/><stop offset="0.45" stop-color="#737373"/><stop offset="0.75" stop-color="#959595"/><stop offset="1" stop-color="#b5b5b5"/></radialGradient></defs>
<path d="M44.5,156.7 C44.5,151.5 47.5,149.2 51.5,149.2 C55.5,149.2 58.5,152.5 61,156.5 C58.5,160.5 55.5,164 51.5,164 C47.5,164 44.5,162 44.5,156.7 Z" fill="#fff" stroke="#888" stroke-width="0.8" stroke-dasharray="0.7 0.4"/>
<path d="M46.8,156.7 C46.8,152.5 49,150.4 52,150.4 C55.2,150.4 57.6,153 59.6,156.5 C57.6,160 55.2,162.9 52,162.9 C49,162.9 46.8,161 46.8,156.7 Z" fill="url(#cg2)" stroke="#444" stroke-width="0.6"/>
<circle cx="50.6" cy="156.6" r="0.8" fill="#fff"/>
<rect x="45.50" y="129.50" width="42.00" height="11.20" fill="none" stroke="#777" stroke-width="0.65"/>
<line x1="87.50" y1="130.40" x2="106.20" y2="130.40" stroke="#111" stroke-width="0.9"/>
<polygon points="108.80,130.40 105.60,131.80 105.60,129.00" fill="#111"/>
<text x="25.60" y="129.80" font-size="6.8" fill="#222" stroke="#222" stroke-width="0.2" textLength="6.30" lengthAdjust="spacingAndGlyphs">10</text>
<text x="32.05" y="127.08" font-size="4.08" fill="#222" stroke="#222" stroke-width="0.2">4</text>
<text x="25.60" y="144.60" font-size="6.8" fill="#222" stroke="#222" stroke-width="0.2" textLength="6.30" lengthAdjust="spacingAndGlyphs">10</text>
<text x="32.05" y="141.88" font-size="4.08" fill="#222" stroke="#222" stroke-width="0.2">3</text>
<text x="31.00" y="159.40" font-size="6.6" fill="#222" stroke="#222" stroke-width="0.2" textLength="3.50" lengthAdjust="spacingAndGlyphs">0</text>
<text x="23.00" y="175.70" font-size="5.1" fill="#222" stroke="#222" stroke-width="0.2" textLength="1.40" lengthAdjust="spacingAndGlyphs">-</text>
<text x="24.90" y="175.70" font-size="6.8" fill="#222" stroke="#222" stroke-width="0.2" textLength="6.30" lengthAdjust="spacingAndGlyphs">10</text>
<text x="31.35" y="172.98" font-size="4.08" fill="#222" stroke="#222" stroke-width="0.2">3</text>
<text x="47.30" y="185.70" font-size="6.6" fill="#222" stroke="#222" stroke-width="0.2" textLength="3.30" lengthAdjust="spacingAndGlyphs">0</text>
<text x="56.60" y="186.00" font-size="6.8" fill="#222" stroke="#222" stroke-width="0.2" textLength="6.30" lengthAdjust="spacingAndGlyphs">10</text>
<text x="63.05" y="183.28" font-size="4.08" fill="#222" stroke="#222" stroke-width="0.2">3</text>
<text x="70.60" y="186.00" font-size="6.8" fill="#222" stroke="#222" stroke-width="0.2" textLength="6.30" lengthAdjust="spacingAndGlyphs">10</text>
<text x="77.05" y="183.28" font-size="4.08" fill="#222" stroke="#222" stroke-width="0.2">4</text>
<text x="83.30" y="186.00" font-size="6.8" fill="#222" stroke="#222" stroke-width="0.2" textLength="6.30" lengthAdjust="spacingAndGlyphs">10</text>
<text x="89.75" y="183.28" font-size="4.08" fill="#222" stroke="#222" stroke-width="0.2">5</text>
<text x="45.80" y="197.60" font-size="7.6" fill="#41599a" stroke="#41599a" stroke-width="0.22" textLength="38.20" lengthAdjust="spacingAndGlyphs">CD41-BV510</text>
<text transform="translate(16.90,148.90) rotate(-90)" x="0" y="0" font-size="7.9" fill="#41599a" stroke="#41599a" stroke-width="0.22" text-anchor="middle" textLength="45.30" lengthAdjust="spacingAndGlyphs">CD117-APCCy7</text>
<line x1="138.90" y1="174.10" x2="141.50" y2="174.10" stroke="#111" stroke-width="0.8"/>
<text x="135.20" y="176.00" font-size="6.1" fill="#222" stroke="#222" stroke-width="0.2" text-anchor="end" textLength="3.30" lengthAdjust="spacingAndGlyphs">0</text>
<line x1="138.90" y1="163.98" x2="141.50" y2="163.98" stroke="#111" stroke-width="0.8"/>
<text x="135.20" y="165.88" font-size="6.1" fill="#222" stroke="#222" stroke-width="0.2" text-anchor="end" textLength="6.60" lengthAdjust="spacingAndGlyphs">20</text>
<line x1="138.90" y1="153.86" x2="141.50" y2="153.86" stroke="#111" stroke-width="0.8"/>
<text x="135.20" y="155.76" font-size="6.1" fill="#222" stroke="#222" stroke-width="0.2" text-anchor="end" textLength="6.60" lengthAdjust="spacingAndGlyphs">40</text>
<line x1="138.90" y1="143.74" x2="141.50" y2="143.74" stroke="#111" stroke-width="0.8"/>
<text x="135.20" y="145.64" font-size="6.1" fill="#222" stroke="#222" stroke-width="0.2" text-anchor="end" textLength="6.60" lengthAdjust="spacingAndGlyphs">60</text>
<line x1="138.90" y1="133.62" x2="141.50" y2="133.62" stroke="#111" stroke-width="0.8"/>
<text x="135.20" y="135.52" font-size="6.1" fill="#222" stroke="#222" stroke-width="0.2" text-anchor="end" textLength="6.60" lengthAdjust="spacingAndGlyphs">80</text>
<line x1="138.90" y1="123.50" x2="141.50" y2="123.50" stroke="#111" stroke-width="0.8"/>
<text x="135.20" y="125.40" font-size="6.1" fill="#222" stroke="#222" stroke-width="0.2" text-anchor="end" textLength="10.10" lengthAdjust="spacingAndGlyphs">100</text>
<line x1="140.30" y1="174.10" x2="141.50" y2="174.10" stroke="#111" stroke-width="0.45"/>
<line x1="140.30" y1="172.08" x2="141.50" y2="172.08" stroke="#111" stroke-width="0.45"/>
<line x1="140.30" y1="170.05" x2="141.50" y2="170.05" stroke="#111" stroke-width="0.45"/>
<line x1="140.30" y1="168.03" x2="141.50" y2="168.03" stroke="#111" stroke-width="0.45"/>
<line x1="140.30" y1="166.00" x2="141.50" y2="166.00" stroke="#111" stroke-width="0.45"/>
<line x1="140.30" y1="163.98" x2="141.50" y2="163.98" stroke="#111" stroke-width="0.45"/>
<line x1="140.30" y1="161.96" x2="141.50" y2="161.96" stroke="#111" stroke-width="0.45"/>
<line x1="140.30" y1="159.93" x2="141.50" y2="159.93" stroke="#111" stroke-width="0.45"/>
<line x1="140.30" y1="157.91" x2="141.50" y2="157.91" stroke="#111" stroke-width="0.45"/>
<line x1="140.30" y1="155.88" x2="141.50" y2="155.88" stroke="#111" stroke-width="0.45"/>
<line x1="140.30" y1="153.86" x2="141.50" y2="153.86" stroke="#111" stroke-width="0.45"/>
<line x1="140.30" y1="151.84" x2="141.50" y2="151.84" stroke="#111" stroke-width="0.45"/>
<line x1="140.30" y1="149.81" x2="141.50" y2="149.81" stroke="#111" stroke-width="0.45"/>
<line x1="140.30" y1="147.79" x2="141.50" y2="147.79" stroke="#111" stroke-width="0.45"/>
<line x1="140.30" y1="145.76" x2="141.50" y2="145.76" stroke="#111" stroke-width="0.45"/>
<line x1="140.30" y1="143.74" x2="141.50" y2="143.74" stroke="#111" stroke-width="0.45"/>
<line x1="140.30" y1="141.72" x2="141.50" y2="141.72" stroke="#111" stroke-width="0.45"/>
<line x1="140.30" y1="139.69" x2="141.50" y2="139.69" stroke="#111" stroke-width="0.45"/>
<line x1="140.30" y1="137.67" x2="141.50" y2="137.67" stroke="#111" stroke-width="0.45"/>
<line x1="140.30" y1="135.64" x2="141.50" y2="135.64" stroke="#111" stroke-width="0.45"/>
<line x1="140.30" y1="133.62" x2="141.50" y2="133.62" stroke="#111" stroke-width="0.45"/>
<line x1="140.30" y1="131.60" x2="141.50" y2="131.60" stroke="#111" stroke-width="0.45"/>
<line x1="140.30" y1="129.57" x2="141.50" y2="129.57" stroke="#111" stroke-width="0.45"/>
<line x1="140.30" y1="127.55" x2="141.50" y2="127.55" stroke="#111" stroke-width="0.45"/>
<line x1="140.30" y1="125.52" x2="141.50" y2="125.52" stroke="#111" stroke-width="0.45"/>
<defs><linearGradient id="rg1" gradientUnits="userSpaceOnUse" x1="151" y1="0" x2="158" y2="0"><stop offset="0" stop-color="#b3133f"/><stop offset="0.45" stop-color="#b3133f"/><stop offset="1" stop-color="#d88a9e"/></linearGradient></defs>
<path d="M146.00,174.10 L146.00,174.10 L146.25,174.10 L146.50,174.10 L146.75,174.10 L147.00,174.10 L147.25,174.09 L147.50,174.09 L147.75,174.08 L148.00,174.07 L148.25,174.05 L148.50,174.01 L148.75,173.95 L149.00,173.85 L149.25,173.68 L149.50,173.43 L149.75,173.05 L150.00,172.49 L150.25,171.69 L150.50,170.59 L150.75,169.13 L151.00,167.24 L151.25,164.88 L151.50,162.05 L151.75,158.77 L152.00,155.12 L152.25,151.25 L152.50,147.34 L152.75,143.60 L153.00,140.28 L153.25,137.62 L153.50,135.81 L153.75,134.99 L154.00,134.99 L154.25,135.30 L154.50,135.90 L154.75,136.78 L155.00,137.91 L155.25,139.26 L155.50,140.81 L155.75,142.53 L156.00,144.37 L156.25,146.29 L156.50,148.28 L156.75,150.28 L157.00,152.27 L157.25,154.22 L157.50,156.11 L157.75,157.91 L158.00,159.62 L158.25,161.21 L158.50,162.68 L158.75,164.02 L159.00,165.25 L159.25,166.35 L159.50,167.33 L159.75,168.20 L160.00,168.97 L160.25,169.65 L160.50,170.24 L160.75,170.75 L161.00,171.20 L161.25,171.58 L161.50,171.92 L161.75,172.21 L162.00,172.46 L162.25,172.68 L162.50,172.87 L162.75,173.03 L163.00,173.17 L163.25,173.30 L163.50,173.41 L163.75,173.50 L164.00,173.59 L164.25,173.66 L164.50,173.73 L164.75,173.78 L165.00,173.83 L165.25,173.87 L165.50,173.91 L165.75,173.94 L166.00,173.97 L166.25,173.99 L166.50,174.01 L166.75,174.03 L167.00,174.04 L167.25,174.05 L167.50,174.06 L167.75,174.07 L168.00,174.08 L168.25,174.08 L168.50,174.08 L168.75,174.09 L169.00,174.09 L169.25,174.09 L169.50,174.09 L169.75,174.10 L170.00,174.10 L170.00,174.10 Z" fill="#e3b9c6" stroke="#4a6390" stroke-width="0.5"/>
<path d="M146.00,174.10 L146.00,174.10 L146.25,174.10 L146.50,174.10 L146.75,174.10 L147.00,174.10 L147.25,174.10 L147.50,174.10 L147.75,174.10 L148.00,174.09 L148.25,174.09 L148.50,174.07 L148.75,174.04 L149.00,173.97 L149.25,173.85 L149.50,173.64 L149.75,173.28 L150.00,172.68 L150.25,171.74 L150.50,170.33 L150.75,168.32 L151.00,165.59 L151.25,162.05 L151.50,157.70 L151.75,152.67 L152.00,147.17 L152.25,141.60 L152.50,136.40 L152.75,132.08 L153.00,129.09 L153.25,127.76 L153.50,127.84 L153.75,128.53 L154.00,129.76 L154.25,131.50 L154.50,133.66 L154.75,136.17 L155.00,138.95 L155.25,141.91 L155.50,144.94 L155.75,147.98 L156.00,150.95 L156.25,153.78 L156.50,156.42 L156.75,158.85 L157.00,161.04 L157.25,162.98 L157.50,164.67 L157.75,166.13 L158.00,167.38 L158.25,168.42 L158.50,169.30 L158.75,170.02 L159.00,170.63 L159.25,171.13 L159.50,171.54 L159.75,171.89 L160.00,172.18 L160.25,172.44 L160.50,172.65 L160.75,172.85 L161.00,173.01 L161.25,173.16 L161.50,173.30 L161.75,173.41 L162.00,173.52 L162.25,173.61 L162.50,173.69 L162.75,173.76 L163.00,173.82 L163.25,173.88 L163.50,173.92 L163.75,173.96 L164.00,173.99 L164.25,174.01 L164.50,174.03 L164.75,174.05 L165.00,174.06 L165.25,174.07 L165.50,174.08 L165.75,174.08 L166.00,174.09 L166.25,174.09 L166.50,174.09 L166.75,174.10 L167.00,174.10 L167.25,174.10 L167.50,174.10 L167.75,174.10 L168.00,174.10 L168.00,174.10 Z" fill="url(#rg1)" stroke="#a80f3a" stroke-width="0.55"/>
<path d="M177.00,174.10 L177.00,174.09 L177.25,174.09 L177.50,174.08 L177.75,174.07 L178.00,174.05 L178.25,174.02 L178.50,173.98 L178.75,173.93 L179.00,173.86 L179.25,173.77 L179.50,173.66 L179.75,173.53 L180.00,173.37 L180.25,173.20 L180.50,173.03 L180.75,172.85 L181.00,172.68 L181.25,172.54 L181.50,172.42 L181.75,172.35 L182.00,172.33 L182.25,172.35 L182.50,172.40 L182.75,172.48 L183.00,172.58 L183.25,172.71 L183.50,172.85 L183.75,173.00 L184.00,173.14 L184.25,173.29 L184.50,173.42 L184.75,173.55 L185.00,173.66 L185.25,173.75 L185.50,173.83 L185.75,173.90 L186.00,173.95 L186.25,173.99 L186.50,174.02 L186.75,174.05 L187.00,174.06 L187.00,174.10 Z" fill="none" stroke="#3d5a8a" stroke-width="0.6"/>
<rect x="141.50" y="121.30" width="52.80" height="52.90" fill="none" stroke="#111" stroke-width="1"/>
<line x1="141.50" y1="173.80" x2="194.30" y2="173.80" stroke="#111" stroke-width="0.8"/>
<line x1="143.00" y1="174.20" x2="143.00" y2="175.70" stroke="#111" stroke-width="0.45"/>
<line x1="145.60" y1="174.20" x2="145.60" y2="175.10" stroke="#111" stroke-width="0.45"/>
<line x1="148.20" y1="174.20" x2="148.20" y2="175.10" stroke="#111" stroke-width="0.45"/>
<line x1="150.80" y1="174.20" x2="150.80" y2="175.70" stroke="#111" stroke-width="0.45"/>
<line x1="153.40" y1="174.20" x2="153.40" y2="175.10" stroke="#111" stroke-width="0.45"/>
<line x1="156.00" y1="174.20" x2="156.00" y2="175.10" stroke="#111" stroke-width="0.45"/>
<line x1="158.60" y1="174.20" x2="158.60" y2="175.70" stroke="#111" stroke-width="0.45"/>
<line x1="161.20" y1="174.20" x2="161.20" y2="175.10" stroke="#111" stroke-width="0.45"/>
<line x1="163.80" y1="174.20" x2="163.80" y2="175.10" stroke="#111" stroke-width="0.45"/>
<line x1="166.40" y1="174.20" x2="166.40" y2="175.70" stroke="#111" stroke-width="0.45"/>
<line x1="169.00" y1="174.20" x2="169.00" y2="175.10" stroke="#111" stroke-width="0.45"/>
<line x1="171.60" y1="174.20" x2="171.60" y2="175.10" stroke="#111" stroke-width="0.45"/>
<line x1="174.20" y1="174.20" x2="174.20" y2="175.70" stroke="#111" stroke-width="0.45"/>
<line x1="176.80" y1="174.20" x2="176.80" y2="175.10" stroke="#111" stroke-width="0.45"/>
<line x1="179.40" y1="174.20" x2="179.40" y2="175.10" stroke="#111" stroke-width="0.45"/>
<line x1="182.00" y1="174.20" x2="182.00" y2="175.70" stroke="#111" stroke-width="0.45"/>
<line x1="184.60" y1="174.20" x2="184.60" y2="175.10" stroke="#111" stroke-width="0.45"/>
<line x1="187.20" y1="174.20" x2="187.20" y2="175.10" stroke="#111" stroke-width="0.45"/>
<line x1="189.80" y1="174.20" x2="189.80" y2="175.70" stroke="#111" stroke-width="0.45"/>
<line x1="192.40" y1="174.20" x2="192.40" y2="175.10" stroke="#111" stroke-width="0.45"/>
<line x1="171.30" y1="169.20" x2="190.30" y2="169.20" stroke="#111" stroke-width="0.85"/>
<line x1="171.30" y1="167.90" x2="171.30" y2="170.50" stroke="#111" stroke-width="0.75"/>
<line x1="190.30" y1="167.90" x2="190.30" y2="170.50" stroke="#111" stroke-width="0.75"/>
<text x="176.00" y="129.00" font-size="5.2" fill="#41599a" stroke="#41599a" stroke-width="0.22" textLength="14.30" lengthAdjust="spacingAndGlyphs">7,67%</text>
<text x="149.20" y="185.90" font-size="6.4" fill="#222" stroke="#222" stroke-width="0.2" textLength="2.70" lengthAdjust="spacingAndGlyphs">0</text>
<text x="159.40" y="185.90" font-size="6.8" fill="#222" stroke="#222" stroke-width="0.2" textLength="5.90" lengthAdjust="spacingAndGlyphs">10</text>
<text x="165.45" y="183.18" font-size="4.08" fill="#222" stroke="#222" stroke-width="0.2">3</text>
<text x="172.80" y="185.90" font-size="6.8" fill="#222" stroke="#222" stroke-width="0.2" textLength="6.10" lengthAdjust="spacingAndGlyphs">10</text>
<text x="179.05" y="183.18" font-size="4.08" fill="#222" stroke="#222" stroke-width="0.2">4</text>
<text x="185.20" y="185.90" font-size="6.8" fill="#222" stroke="#222" stroke-width="0.2" textLength="6.00" lengthAdjust="spacingAndGlyphs">10</text>
<text x="191.35" y="183.18" font-size="4.08" fill="#222" stroke="#222" stroke-width="0.2">5</text>
<text x="162.10" y="197.50" font-size="7.6" fill="#41599a" stroke="#41599a" stroke-width="0.22" textLength="10.70" lengthAdjust="spacingAndGlyphs">YFP</text>
<text transform="translate(118.70,147.90) rotate(-90)" x="0" y="0" font-size="7.9" fill="#222" stroke="#222" stroke-width="0.2" text-anchor="middle" textLength="60.60" lengthAdjust="spacingAndGlyphs">Normalized to mode</text>
<line x1="238.60" y1="112.00" x2="238.60" y2="179.20" stroke="#111" stroke-width="1"/>
<line x1="235.50" y1="178.50" x2="266.70" y2="178.50" stroke="#111" stroke-width="1.3"/>
<line x1="235.30" y1="178.50" x2="238.60" y2="178.50" stroke="#111" stroke-width="0.9"/>
<text x="232.20" y="180.60" font-size="6.2" fill="#222" stroke="#222" stroke-width="0.2" text-anchor="end" textLength="3.10" lengthAdjust="spacingAndGlyphs">0</text>
<line x1="235.30" y1="162.50" x2="238.60" y2="162.50" stroke="#111" stroke-width="0.9"/>
<text x="232.20" y="164.60" font-size="6.2" fill="#222" stroke="#222" stroke-width="0.2" text-anchor="end" textLength="6.40" lengthAdjust="spacingAndGlyphs">20</text>
<line x1="235.30" y1="146.50" x2="238.60" y2="146.50" stroke="#111" stroke-width="0.9"/>
<text x="232.20" y="148.60" font-size="6.2" fill="#222" stroke="#222" stroke-width="0.2" text-anchor="end" textLength="6.40" lengthAdjust="spacingAndGlyphs">40</text>
<line x1="235.30" y1="130.50" x2="238.60" y2="130.50" stroke="#111" stroke-width="0.9"/>
<text x="232.20" y="132.60" font-size="6.2" fill="#222" stroke="#222" stroke-width="0.2" text-anchor="end" textLength="6.40" lengthAdjust="spacingAndGlyphs">60</text>
<line x1="235.30" y1="114.50" x2="238.60" y2="114.50" stroke="#111" stroke-width="0.9"/>
<text x="232.20" y="116.60" font-size="6.2" fill="#222" stroke="#222" stroke-width="0.2" text-anchor="end" textLength="6.40" lengthAdjust="spacingAndGlyphs">80</text>
<rect x="243.30" y="133.90" width="19.10" height="44.60" fill="#a5052e"/>
<line x1="253.00" y1="133.90" x2="253.00" y2="117.90" stroke="#666" stroke-width="1.3"/>
<line x1="248.10" y1="117.90" x2="257.50" y2="117.90" stroke="#555" stroke-width="1.4"/>
<text transform="translate(220.1,143.3) rotate(-90)" font-size="7.9" fill="#222" stroke="#222" stroke-width="0.2" text-anchor="middle" textLength="72.5" lengthAdjust="spacingAndGlyphs">Kit<tspan font-size="5" dy="-3.1">+</tspan><tspan dy="3.1">CD41</tspan><tspan font-size="5" dy="-3.1">+</tspan><tspan dy="3.1">YFP</tspan><tspan font-size="5" dy="-3.1">+</tspan><tspan dy="3.1"> Cells / YS</tspan></text>
<line x1="305.50" y1="112.00" x2="305.50" y2="179.20" stroke="#111" stroke-width="1"/>
<line x1="302.10" y1="178.50" x2="330.70" y2="178.50" stroke="#111" stroke-width="1.3"/>
<line x1="302.00" y1="178.40" x2="305.50" y2="178.40" stroke="#111" stroke-width="0.9"/>
<text x="299.60" y="180.50" font-size="6.2" fill="#222" stroke="#222" stroke-width="0.2" text-anchor="end" textLength="3.20" lengthAdjust="spacingAndGlyphs">0</text>
<line x1="302.00" y1="165.60" x2="305.50" y2="165.60" stroke="#111" stroke-width="0.9"/>
<text x="299.60" y="167.70" font-size="6.2" fill="#222" stroke="#222" stroke-width="0.2" text-anchor="end" textLength="3.20" lengthAdjust="spacingAndGlyphs">2</text>
<line x1="302.00" y1="152.80" x2="305.50" y2="152.80" stroke="#111" stroke-width="0.9"/>
<text x="299.60" y="154.90" font-size="6.2" fill="#222" stroke="#222" stroke-width="0.2" text-anchor="end" textLength="3.20" lengthAdjust="spacingAndGlyphs">4</text>
<line x1="302.00" y1="140.00" x2="305.50" y2="140.00" stroke="#111" stroke-width="0.9"/>
<text x="299.60" y="142.10" font-size="6.2" fill="#222" stroke="#222" stroke-width="0.2" text-anchor="end" textLength="3.20" lengthAdjust="spacingAndGlyphs">6</text>
<line x1="302.00" y1="127.20" x2="305.50" y2="127.20" stroke="#111" stroke-width="0.9"/>
<text x="299.60" y="129.30" font-size="6.2" fill="#222" stroke="#222" stroke-width="0.2" text-anchor="end" textLength="3.20" lengthAdjust="spacingAndGlyphs">8</text>
<line x1="302.00" y1="114.40" x2="305.50" y2="114.40" stroke="#111" stroke-width="0.9"/>
<text x="299.60" y="116.50" font-size="6.2" fill="#222" stroke="#222" stroke-width="0.2" text-anchor="end" textLength="6.60" lengthAdjust="spacingAndGlyphs">10</text>
<rect x="309.40" y="134.70" width="17.20" height="43.80" fill="#a5052e"/>
<line x1="318.00" y1="134.70" x2="318.00" y2="126.50" stroke="#666" stroke-width="1.3"/>
<line x1="314.00" y1="126.50" x2="322.20" y2="126.50" stroke="#555" stroke-width="1.4"/>
<text transform="translate(288.9,145) rotate(-90)" font-size="7.9" fill="#222" stroke="#222" stroke-width="0.2" text-anchor="middle" textLength="76" lengthAdjust="spacingAndGlyphs">Kit<tspan font-size="5" dy="-3.1">+</tspan><tspan dy="3.1">CD41</tspan><tspan font-size="5" dy="-3.1">+</tspan><tspan dy="3.1">YFP</tspan><tspan font-size="5" dy="-3.1">+</tspan><tspan dy="3.1"> Cells (%)</tspan></text>
<text x="415.5" y="104.7" font-size="8.6" fill="#41599a" stroke="#41599a" stroke-width="0.22" textLength="48.7" lengthAdjust="spacingAndGlyphs">Lin<tspan font-size="5.4" dy="-3.3">-</tspan><tspan dy="3.3"> Kit</tspan><tspan font-size="5.4" dy="-3.3">+</tspan><tspan dy="3.3"> E9.5</tspan></text>
<line x1="382.00" y1="109.90" x2="497.80" y2="109.90" stroke="#6a6a6a" stroke-width="1.9"/>
<text x="394.50" y="118.50" font-size="6.5" fill="#41599a" stroke="#41599a" stroke-width="0.22" textLength="14.40" lengthAdjust="spacingAndGlyphs">AGM</text>
<text x="471.50" y="118.50" font-size="6.5" fill="#41599a" stroke="#41599a" stroke-width="0.22" textLength="24.30" lengthAdjust="spacingAndGlyphs">Placenta</text>
<line x1="375.50" y1="122.50" x2="430.50" y2="122.50" stroke="#aaa" stroke-width="0.8"/>
<line x1="430.50" y1="122.50" x2="430.50" y2="174.50" stroke="#aaa" stroke-width="0.8"/>
<line x1="375.50" y1="122.50" x2="375.50" y2="174.50" stroke="#8a8a8a" stroke-width="0.8"/>
<line x1="375.50" y1="174.50" x2="430.50" y2="174.50" stroke="#8a8a8a" stroke-width="0.8"/>
<line x1="455.50" y1="122.50" x2="513.50" y2="122.50" stroke="#aaa" stroke-width="0.8"/>
<line x1="513.50" y1="122.50" x2="513.50" y2="174.50" stroke="#aaa" stroke-width="0.8"/>
<line x1="455.50" y1="122.50" x2="455.50" y2="174.50" stroke="#8a8a8a" stroke-width="0.8"/>
<line x1="455.50" y1="174.50" x2="513.50" y2="174.50" stroke="#8a8a8a" stroke-width="0.8"/>
<line x1="373.70" y1="127.80" x2="375.50" y2="127.80" stroke="#333" stroke-width="0.7"/>
<line x1="373.70" y1="140.00" x2="375.50" y2="140.00" stroke="#333" stroke-width="0.7"/>
<line x1="373.70" y1="154.30" x2="375.50" y2="154.30" stroke="#333" stroke-width="0.7"/>
<line x1="373.70" y1="162.50" x2="375.50" y2="162.50" stroke="#333" stroke-width="0.7"/>
<line x1="373.70" y1="171.20" x2="375.50" y2="171.20" stroke="#333" stroke-width="0.7"/>
<line x1="374.60" y1="124.00" x2="375.50" y2="124.00" stroke="#555" stroke-width="0.45"/>
<line x1="374.60" y1="126.10" x2="375.50" y2="126.10" stroke="#555" stroke-width="0.45"/>
<line x1="374.60" y1="128.20" x2="375.50" y2="128.20" stroke="#555" stroke-width="0.45"/>
<line x1="374.60" y1="130.30" x2="375.50" y2="130.30" stroke="#555" stroke-width="0.45"/>
<line x1="374.60" y1="132.40" x2="375.50" y2="132.40" stroke="#555" stroke-width="0.45"/>
<line x1="374.60" y1="134.50" x2="375.50" y2="134.50" stroke="#555" stroke-width="0.45"/>
<line x1="374.60" y1="136.60" x2="375.50" y2="136.60" stroke="#555" stroke-width="0.45"/>
<line x1="374.60" y1="138.70" x2="375.50" y2="138.70" stroke="#555" stroke-width="0.45"/>
<line x1="374.60" y1="140.80" x2="375.50" y2="140.80" stroke="#555" stroke-width="0.45"/>
<line x1="374.60" y1="142.90" x2="375.50" y2="142.90" stroke="#555" stroke-width="0.45"/>
<line x1="374.60" y1="145.00" x2="375.50" y2="145.00" stroke="#555" stroke-width="0.45"/>
<line x1="374.60" y1="147.10" x2="375.50" y2="147.10" stroke="#555" stroke-width="0.45"/>
<line x1="374.60" y1="149.20" x2="375.50" y2="149.20" stroke="#555" stroke-width="0.45"/>
<line x1="374.60" y1="151.30" x2="375.50" y2="151.30" stroke="#555" stroke-width="0.45"/>
<line x1="374.60" y1="153.40" x2="375.50" y2="153.40" stroke="#555" stroke-width="0.45"/>
<line x1="374.60" y1="155.50" x2="375.50" y2="155.50" stroke="#555" stroke-width="0.45"/>
<line x1="374.60" y1="157.60" x2="375.50" y2="157.60" stroke="#555" stroke-width="0.45"/>
<line x1="374.60" y1="159.70" x2="375.50" y2="159.70" stroke="#555" stroke-width="0.45"/>
<line x1="374.60" y1="161.80" x2="375.50" y2="161.80" stroke="#555" stroke-width="0.45"/>
<line x1="374.60" y1="163.90" x2="375.50" y2="163.90" stroke="#555" stroke-width="0.45"/>
<line x1="374.60" y1="166.00" x2="375.50" y2="166.00" stroke="#555" stroke-width="0.45"/>
<line x1="374.60" y1="168.10" x2="375.50" y2="168.10" stroke="#555" stroke-width="0.45"/>
<line x1="374.60" y1="170.20" x2="375.50" y2="170.20" stroke="#555" stroke-width="0.45"/>
<line x1="374.60" y1="172.30" x2="375.50" y2="172.30" stroke="#555" stroke-width="0.45"/>
<line x1="374.60" y1="174.40" x2="375.50" y2="174.40" stroke="#555" stroke-width="0.45"/>
<rect x="373.70" y="161.40" width="1.90" height="2.30" fill="#111"/>
<text x="361.50" y="130.00" font-size="6.8" fill="#222" stroke="#222" stroke-width="0.2" textLength="6.10" lengthAdjust="spacingAndGlyphs">10</text>
<text x="367.75" y="127.28" font-size="4.08" fill="#222" stroke="#222" stroke-width="0.2">5</text>
<text x="361.50" y="142.10" font-size="6.8" fill="#222" stroke="#222" stroke-width="0.2" textLength="6.10" lengthAdjust="spacingAndGlyphs">10</text>
<text x="367.75" y="139.38" font-size="4.08" fill="#222" stroke="#222" stroke-width="0.2">4</text>
<text x="361.50" y="155.60" font-size="6.8" fill="#222" stroke="#222" stroke-width="0.2" textLength="6.10" lengthAdjust="spacingAndGlyphs">10</text>
<text x="367.75" y="152.88" font-size="4.08" fill="#222" stroke="#222" stroke-width="0.2">3</text>
<text x="366.20" y="164.30" font-size="6.5" fill="#222" stroke="#222" stroke-width="0.2" textLength="2.90" lengthAdjust="spacingAndGlyphs">0</text>
<text x="358.70" y="173.40" font-size="5.1" fill="#222" stroke="#222" stroke-width="0.2" textLength="1.40" lengthAdjust="spacingAndGlyphs">-</text>
<text x="360.60" y="173.40" font-size="6.8" fill="#222" stroke="#222" stroke-width="0.2" textLength="6.30" lengthAdjust="spacingAndGlyphs">10</text>
<text x="367.05" y="170.68" font-size="4.08" fill="#222" stroke="#222" stroke-width="0.2">3</text>
<line x1="453.70" y1="127.80" x2="455.50" y2="127.80" stroke="#333" stroke-width="0.7"/>
<line x1="453.70" y1="140.00" x2="455.50" y2="140.00" stroke="#333" stroke-width="0.7"/>
<line x1="453.70" y1="154.30" x2="455.50" y2="154.30" stroke="#333" stroke-width="0.7"/>
<line x1="453.70" y1="162.50" x2="455.50" y2="162.50" stroke="#333" stroke-width="0.7"/>
<line x1="453.70" y1="171.20" x2="455.50" y2="171.20" stroke="#333" stroke-width="0.7"/>
<line x1="454.60" y1="124.00" x2="455.50" y2="124.00" stroke="#555" stroke-width="0.45"/>
<line x1="454.60" y1="126.10" x2="455.50" y2="126.10" stroke="#555" stroke-width="0.45"/>
<line x1="454.60" y1="128.20" x2="455.50" y2="128.20" stroke="#555" stroke-width="0.45"/>
<line x1="454.60" y1="130.30" x2="455.50" y2="130.30" stroke="#555" stroke-width="0.45"/>
<line x1="454.60" y1="132.40" x2="455.50" y2="132.40" stroke="#555" stroke-width="0.45"/>
<line x1="454.60" y1="134.50" x2="455.50" y2="134.50" stroke="#555" stroke-width="0.45"/>
<line x1="454.60" y1="136.60" x2="455.50" y2="136.60" stroke="#555" stroke-width="0.45"/>
<line x1="454.60" y1="138.70" x2="455.50" y2="138.70" stroke="#555" stroke-width="0.45"/>
<line x1="454.60" y1="140.80" x2="455.50" y2="140.80" stroke="#555" stroke-width="0.45"/>
<line x1="454.60" y1="142.90" x2="455.50" y2="142.90" stroke="#555" stroke-width="0.45"/>
<line x1="454.60" y1="145.00" x2="455.50" y2="145.00" stroke="#555" stroke-width="0.45"/>
<line x1="454.60" y1="147.10" x2="455.50" y2="147.10" stroke="#555" stroke-width="0.45"/>
<line x1="454.60" y1="149.20" x2="455.50" y2="149.20" stroke="#555" stroke-width="0.45"/>
<line x1="454.60" y1="151.30" x2="455.50" y2="151.30" stroke="#555" stroke-width="0.45"/>
<line x1="454.60" y1="153.40" x2="455.50" y2="153.40" stroke="#555" stroke-width="0.45"/>
<line x1="454.60" y1="155.50" x2="455.50" y2="155.50" stroke="#555" stroke-width="0.45"/>
<line x1="454.60" y1="157.60" x2="455.50" y2="157.60" stroke="#555" stroke-width="0.45"/>
<line x1="454.60" y1="159.70" x2="455.50" y2="159.70" stroke="#555" stroke-width="0.45"/>
<line x1="454.60" y1="161.80" x2="455.50" y2="161.80" stroke="#555" stroke-width="0.45"/>
<line x1="454.60" y1="163.90" x2="455.50" y2="163.90" stroke="#555" stroke-width="0.45"/>
<line x1="454.60" y1="166.00" x2="455.50" y2="166.00" stroke="#555" stroke-width="0.45"/>
<line x1="454.60" y1="168.10" x2="455.50" y2="168.10" stroke="#555" stroke-width="0.45"/>
<line x1="454.60" y1="170.20" x2="455.50" y2="170.20" stroke="#555" stroke-width="0.45"/>
<line x1="454.60" y1="172.30" x2="455.50" y2="172.30" stroke="#555" stroke-width="0.45"/>
<line x1="454.60" y1="174.40" x2="455.50" y2="174.40" stroke="#555" stroke-width="0.45"/>
<rect x="453.70" y="161.40" width="1.90" height="2.30" fill="#111"/>
<text x="441.50" y="130.00" font-size="6.8" fill="#222" stroke="#222" stroke-width="0.2" textLength="6.10" lengthAdjust="spacingAndGlyphs">10</text>
<text x="447.75" y="127.28" font-size="4.08" fill="#222" stroke="#222" stroke-width="0.2">5</text>
<text x="441.50" y="142.10" font-size="6.8" fill="#222" stroke="#222" stroke-width="0.2" textLength="6.10" lengthAdjust="spacingAndGlyphs">10</text>
<text x="447.75" y="139.38" font-size="4.08" fill="#222" stroke="#222" stroke-width="0.2">4</text>
<text x="441.50" y="155.60" font-size="6.8" fill="#222" stroke="#222" stroke-width="0.2" textLength="6.10" lengthAdjust="spacingAndGlyphs">10</text>
<text x="447.75" y="152.88" font-size="4.08" fill="#222" stroke="#222" stroke-width="0.2">3</text>
<text x="446.20" y="164.30" font-size="6.5" fill="#222" stroke="#222" stroke-width="0.2" textLength="2.90" lengthAdjust="spacingAndGlyphs">0</text>
<text x="438.70" y="173.40" font-size="5.1" fill="#222" stroke="#222" stroke-width="0.2" textLength="1.40" lengthAdjust="spacingAndGlyphs">-</text>
<text x="440.60" y="173.40" font-size="6.8" fill="#222" stroke="#222" stroke-width="0.2" textLength="6.30" lengthAdjust="spacingAndGlyphs">10</text>
<text x="447.05" y="170.68" font-size="4.08" fill="#222" stroke="#222" stroke-width="0.2">3</text>
<line x1="378.00" y1="174.50" x2="378.00" y2="175.60" stroke="#444" stroke-width="0.45"/>
<line x1="381.00" y1="174.50" x2="381.00" y2="175.60" stroke="#444" stroke-width="0.45"/>
<line x1="384.00" y1="174.50" x2="384.00" y2="175.60" stroke="#444" stroke-width="0.45"/>
<line x1="388.00" y1="174.50" x2="388.00" y2="175.60" stroke="#444" stroke-width="0.45"/>
<line x1="392.00" y1="174.50" x2="392.00" y2="175.60" stroke="#444" stroke-width="0.45"/>
<line x1="396.00" y1="174.50" x2="396.00" y2="175.60" stroke="#444" stroke-width="0.45"/>
<line x1="400.00" y1="174.50" x2="400.00" y2="175.60" stroke="#444" stroke-width="0.45"/>
<line x1="404.00" y1="174.50" x2="404.00" y2="175.60" stroke="#444" stroke-width="0.45"/>
<line x1="408.00" y1="174.50" x2="408.00" y2="175.60" stroke="#444" stroke-width="0.45"/>
<line x1="411.00" y1="174.50" x2="411.00" y2="175.60" stroke="#444" stroke-width="0.45"/>
<line x1="414.00" y1="174.50" x2="414.00" y2="175.60" stroke="#444" stroke-width="0.45"/>
<line x1="418.00" y1="174.50" x2="418.00" y2="175.60" stroke="#444" stroke-width="0.45"/>
<line x1="422.00" y1="174.50" x2="422.00" y2="175.60" stroke="#444" stroke-width="0.45"/>
<line x1="426.00" y1="174.50" x2="426.00" y2="175.60" stroke="#444" stroke-width="0.45"/>
<line x1="429.00" y1="174.50" x2="429.00" y2="175.60" stroke="#444" stroke-width="0.45"/>
<line x1="458.00" y1="174.50" x2="458.00" y2="175.60" stroke="#444" stroke-width="0.45"/>
<line x1="461.00" y1="174.50" x2="461.00" y2="175.60" stroke="#444" stroke-width="0.45"/>
<line x1="464.00" y1="174.50" x2="464.00" y2="175.60" stroke="#444" stroke-width="0.45"/>
<line x1="466.50" y1="174.50" x2="466.50" y2="175.60" stroke="#444" stroke-width="0.45"/>
<line x1="469.00" y1="174.50" x2="469.00" y2="175.60" stroke="#444" stroke-width="0.45"/>
<line x1="472.00" y1="174.50" x2="472.00" y2="175.60" stroke="#444" stroke-width="0.45"/>
<line x1="475.00" y1="174.50" x2="475.00" y2="175.60" stroke="#444" stroke-width="0.45"/>
<line x1="478.00" y1="174.50" x2="478.00" y2="175.60" stroke="#444" stroke-width="0.45"/>
<line x1="481.00" y1="174.50" x2="481.00" y2="175.60" stroke="#444" stroke-width="0.45"/>
<line x1="484.00" y1="174.50" x2="484.00" y2="175.60" stroke="#444" stroke-width="0.45"/>
<line x1="487.00" y1="174.50" x2="487.00" y2="175.60" stroke="#444" stroke-width="0.45"/>
<line x1="490.00" y1="174.50" x2="490.00" y2="175.60" stroke="#444" stroke-width="0.45"/>
<line x1="493.00" y1="174.50" x2="493.00" y2="175.60" stroke="#444" stroke-width="0.45"/>
<line x1="496.00" y1="174.50" x2="496.00" y2="175.60" stroke="#444" stroke-width="0.45"/>
<line x1="499.00" y1="174.50" x2="499.00" y2="175.60" stroke="#444" stroke-width="0.45"/>
<line x1="502.00" y1="174.50" x2="502.00" y2="175.60" stroke="#444" stroke-width="0.45"/>
<line x1="505.00" y1="174.50" x2="505.00" y2="175.60" stroke="#444" stroke-width="0.45"/>
<line x1="508.00" y1="174.50" x2="508.00" y2="175.60" stroke="#444" stroke-width="0.45"/>
<line x1="511.00" y1="174.50" x2="511.00" y2="175.60" stroke="#444" stroke-width="0.45"/>
<rect x="385.50" y="174.00" width="4.00" height="1.60" fill="#222"/>
<rect x="467.00" y="174.00" width="3.00" height="1.60" fill="#222"/>
<text x="386.60" y="184.60" font-size="6.5" fill="#222" stroke="#222" stroke-width="0.2" textLength="2.90" lengthAdjust="spacingAndGlyphs">0</text>
<text x="408.40" y="184.60" font-size="6.8" fill="#222" stroke="#222" stroke-width="0.2" textLength="6.10" lengthAdjust="spacingAndGlyphs">10</text>
<text x="414.65" y="181.88" font-size="4.08" fill="#222" stroke="#222" stroke-width="0.2">4</text>
<text x="454.30" y="185.30" font-size="5.1" fill="#222" stroke="#222" stroke-width="0.2" textLength="1.40" lengthAdjust="spacingAndGlyphs">-</text>
<text x="456.20" y="185.30" font-size="6.8" fill="#222" stroke="#222" stroke-width="0.2" textLength="5.70" lengthAdjust="spacingAndGlyphs">10</text>
<text x="462.05" y="182.58" font-size="4.08" fill="#222" stroke="#222" stroke-width="0.2">3</text>
<text x="467.10" y="185.30" font-size="6.5" fill="#222" stroke="#222" stroke-width="0.2" textLength="2.90" lengthAdjust="spacingAndGlyphs">0</text>
<text x="474.00" y="185.30" font-size="6.8" fill="#222" stroke="#222" stroke-width="0.2" textLength="6.60" lengthAdjust="spacingAndGlyphs">10</text>
<text x="480.75" y="182.58" font-size="4.08" fill="#222" stroke="#222" stroke-width="0.2">3</text>
<text x="489.40" y="185.30" font-size="6.8" fill="#222" stroke="#222" stroke-width="0.2" textLength="6.60" lengthAdjust="spacingAndGlyphs">10</text>
<text x="496.15" y="182.58" font-size="4.08" fill="#222" stroke="#222" stroke-width="0.2">4</text>
<text x="502.90" y="185.30" font-size="6.8" fill="#222" stroke="#222" stroke-width="0.2" textLength="6.60" lengthAdjust="spacingAndGlyphs">10</text>
<text x="509.65" y="182.58" font-size="4.08" fill="#222" stroke="#222" stroke-width="0.2">5</text>
<defs><radialGradient id="ag" cx="0.5" cy="0.5" r="0.5"><stop offset="0" stop-color="#eee"/><stop offset="0.12" stop-color="#bbb"/><stop offset="0.3" stop-color="#7a7a7a"/><stop offset="0.7" stop-color="#666"/><stop offset="0.9" stop-color="#8a8a8a"/><stop offset="1" stop-color="#bbb"/></radialGradient><radialGradient id="pg" gradientUnits="userSpaceOnUse" cx="471" cy="136.3" r="9.5"><stop offset="0" stop-color="#fff"/><stop offset="0.07" stop-color="#ddd"/><stop offset="0.16" stop-color="#555"/><stop offset="0.45" stop-color="#7a7a7a"/><stop offset="0.72" stop-color="#a8a8a8"/><stop offset="1" stop-color="#dcdcdc"/></radialGradient></defs>
<ellipse cx="389" cy="139.7" rx="4.2" ry="7.2" fill="url(#ag)"/>
<ellipse cx="389" cy="139.7" rx="3.15" ry="5.40" fill="none" stroke="#555" stroke-width="0.35"/>
<ellipse cx="389" cy="139.7" rx="2.10" ry="3.60" fill="none" stroke="#555" stroke-width="0.35"/>
<path d="M466.5,136 C466,131 469,127 473.5,126.8 C477.5,126.8 479.8,130 479.8,134 C479.8,138.5 477,142.2 472.5,142.2 C468.5,142.2 466.8,139.5 466.5,136 Z" fill="url(#pg)"/>
<ellipse cx="472.20" cy="134.90" rx="5.20" ry="6.00" fill="none" stroke="#555" stroke-width="0.35" transform="rotate(20 472 135)"/>
<ellipse cx="471.80" cy="135.30" rx="3.90" ry="4.50" fill="none" stroke="#555" stroke-width="0.35" transform="rotate(20 472 135)"/>
<ellipse cx="471.40" cy="135.70" rx="2.60" ry="3.00" fill="none" stroke="#555" stroke-width="0.35" transform="rotate(20 472 135)"/>
<rect x="407.50" y="130.90" width="17.30" height="16.40" fill="none" stroke="#333" stroke-width="0.7"/>
<rect x="487.30" y="127.30" width="21.60" height="15.60" fill="none" stroke="#333" stroke-width="0.7"/>
<line x1="383.30" y1="194.30" x2="420.50" y2="194.30" stroke="#4a6cb0" stroke-width="1"/>
<line x1="464.80" y1="194.30" x2="502.30" y2="194.30" stroke="#4a6cb0" stroke-width="1"/>
<text x="437.20" y="197.40" font-size="7.7" fill="#41599a" stroke="#41599a" stroke-width="0.22" textLength="11.20" lengthAdjust="spacingAndGlyphs">YFP</text>
<text transform="translate(352.80,149.40) rotate(-90)" x="0" y="0" font-size="7.9" fill="#41599a" stroke="#41599a" stroke-width="0.22" text-anchor="middle" textLength="45.20" lengthAdjust="spacingAndGlyphs">CD117-APCCy7</text>
<text x="204.1" y="232.6" font-size="8.9" fill="#41599a" stroke="#41599a" stroke-width="0.22" textLength="77.5" lengthAdjust="spacingAndGlyphs">E9.5 Lin<tspan font-size="5.4" dy="-3.3">-</tspan><tspan dy="3.3"> Kit</tspan><tspan font-size="5.4" dy="-3.3">+</tspan><tspan dy="3.3"> CD41</tspan><tspan font-size="5.4" dy="-3.3">+</tspan></text>
<line x1="10.00" y1="237.40" x2="474.80" y2="237.40" stroke="#4a4a4a" stroke-width="1.4"/>
<line x1="114.30" y1="249.30" x2="145.00" y2="249.30" stroke="#c3163f" stroke-width="0.9"/>
<text x="148.80" y="251.00" font-size="4.6" fill="#c3163f" stroke="#c3163f" stroke-width="0.22" textLength="49.20" lengthAdjust="spacingAndGlyphs">E9.5 YS Erythrocytes</text>
<line x1="207.50" y1="248.90" x2="237.50" y2="248.90" stroke="#2d3450" stroke-width="0.95"/>
<text x="241.3" y="250.6" font-size="4.6" fill="#333" textLength="42.5" lengthAdjust="spacingAndGlyphs">Lin<tspan font-size="3" dy="-1.8">-</tspan><tspan dy="1.8">Kit</tspan><tspan font-size="3" dy="-1.8">+</tspan><tspan dy="1.8">CD41</tspan><tspan font-size="3" dy="-1.8">+</tspan><tspan dy="1.8">YFP</tspan><tspan font-size="3" dy="-1.8">-</tspan></text>
<line x1="293.80" y1="248.90" x2="325.00" y2="248.90" stroke="#3d5c9e" stroke-width="0.95"/>
<text x="328" y="250.6" font-size="4.6" fill="#333" textLength="43.3" lengthAdjust="spacingAndGlyphs">Lin<tspan font-size="3" dy="-1.8">-</tspan><tspan dy="1.8">Kit</tspan><tspan font-size="3" dy="-1.8">+</tspan><tspan dy="1.8">CD41</tspan><tspan font-size="3" dy="-1.8">+</tspan><tspan dy="1.8">YFP</tspan><tspan font-size="3" dy="-1.8">+</tspan></text>
<path d="M47.00,316.10 L47.00,316.03 L47.25,316.01 L47.50,315.98 L47.75,315.96 L48.00,315.92 L48.25,315.88 L48.50,315.83 L48.75,315.78 L49.00,315.71 L49.25,315.64 L49.50,315.55 L49.75,315.45 L50.00,315.34 L50.25,315.22 L50.50,315.08 L50.75,314.91 L51.00,314.72 L51.25,314.48 L51.50,314.16 L51.75,313.74 L52.00,313.15 L52.25,312.30 L52.50,311.09 L52.75,309.39 L53.00,307.08 L53.25,304.03 L53.50,300.20 L53.75,295.59 L54.00,290.36 L54.25,284.77 L54.50,279.20 L54.75,274.14 L55.00,270.07 L55.25,267.43 L55.50,266.51 L55.75,267.30 L56.00,269.59 L56.25,273.15 L56.50,277.66 L56.75,282.72 L57.00,287.96 L57.25,293.03 L57.50,297.66 L57.75,301.69 L58.00,305.04 L58.25,307.72 L58.50,309.79 L58.75,311.34 L59.00,312.47 L59.25,313.29 L59.50,313.87 L59.75,314.30 L60.00,314.61 L60.25,314.85 L60.50,315.04 L60.75,315.20 L61.00,315.33 L61.25,315.45 L61.50,315.55 L61.75,315.64 L62.00,315.71 L62.25,315.78 L62.50,315.83 L62.75,315.88 L63.00,315.92 L63.25,315.96 L63.50,315.98 L63.75,316.01 L64.00,316.03 L64.00,316.10 Z" fill="#e49aae" stroke="#bf1443" stroke-width="0.6"/>
<path d="M47.00,316.10 L47.00,316.03 L47.25,316.01 L47.50,315.98 L47.75,315.96 L48.00,315.92 L48.25,315.88 L48.50,315.83 L48.75,315.78 L49.00,315.71 L49.25,315.64 L49.50,315.55 L49.75,315.45 L50.00,315.34 L50.25,315.20 L50.50,315.05 L50.75,314.87 L51.00,314.64 L51.25,314.35 L51.50,313.96 L51.75,313.43 L52.00,312.72 L52.25,311.73 L52.50,310.39 L52.75,308.61 L53.00,306.32 L53.25,303.46 L53.50,300.02 L53.75,296.09 L54.00,291.78 L54.25,287.34 L54.50,283.04 L54.75,279.22 L55.00,276.20 L55.25,274.26 L55.50,273.60 L55.75,274.18 L56.00,275.87 L56.25,278.54 L56.50,281.95 L56.75,285.87 L57.00,290.01 L57.25,294.12 L57.50,298.00 L57.75,301.51 L58.00,304.54 L58.25,307.07 L58.50,309.12 L58.75,310.73 L59.00,311.96 L59.25,312.89 L59.50,313.58 L59.75,314.09 L60.00,314.47 L60.25,314.76 L60.50,314.99 L60.75,315.17 L61.00,315.32 L61.25,315.44 L61.50,315.54 L61.75,315.63 L62.00,315.71 L62.25,315.78 L62.50,315.83 L62.75,315.88 L63.00,315.92 L63.25,315.96 L63.50,315.98 L63.75,316.01 L64.00,316.03 L64.00,316.10 Z" fill="#b9aec4" stroke="#353d5c" stroke-width="0.6" fill-opacity="0.45"/>
<path d="M46.00,316.10 L46.00,316.05 L46.25,316.04 L46.50,316.02 L46.75,316.00 L47.00,315.98 L47.25,315.96 L47.50,315.93 L47.75,315.89 L48.00,315.85 L48.25,315.80 L48.50,315.74 L48.75,315.68 L49.00,315.60 L49.25,315.51 L49.50,315.41 L49.75,315.29 L50.00,315.14 L50.25,314.97 L50.50,314.75 L50.75,314.49 L51.00,314.17 L51.25,313.78 L51.50,313.30 L51.75,312.71 L52.00,312.01 L52.25,311.16 L52.50,310.17 L52.75,309.04 L53.00,307.75 L53.25,306.34 L53.50,304.82 L53.75,303.22 L54.00,301.61 L54.25,300.04 L54.50,298.57 L54.75,297.27 L55.00,296.20 L55.25,295.41 L55.50,294.96 L55.75,294.86 L56.00,295.07 L56.25,295.57 L56.50,296.34 L56.75,297.34 L57.00,298.53 L57.25,299.86 L57.50,301.29 L57.75,302.76 L58.00,304.24 L58.25,305.68 L58.50,307.05 L58.75,308.32 L59.00,309.48 L59.25,310.51 L59.50,311.43 L59.75,312.21 L60.00,312.89 L60.25,313.46 L60.50,313.93 L60.75,314.32 L61.00,314.64 L61.25,314.91 L61.50,315.12 L61.75,315.29 L62.00,315.44 L62.25,315.55 L62.50,315.65 L62.75,315.73 L63.00,315.79 L63.25,315.84 L63.50,315.89 L63.75,315.93 L64.00,315.96 L64.25,315.98 L64.50,316.01 L64.75,316.02 L65.00,316.04 L65.00,316.10 Z" fill="#5f73a6" stroke="#223c7a" stroke-width="0.65" fill-opacity="0.7"/>
<line x1="36.20" y1="316.10" x2="39.50" y2="316.10" stroke="#111" stroke-width="0.8"/>
<text x="33.10" y="318.20" font-size="6.0" fill="#222" stroke="#222" stroke-width="0.2" text-anchor="end" textLength="3.20" lengthAdjust="spacingAndGlyphs">0</text>
<line x1="36.20" y1="305.98" x2="39.50" y2="305.98" stroke="#111" stroke-width="0.8"/>
<text x="33.10" y="308.08" font-size="6.0" fill="#222" stroke="#222" stroke-width="0.2" text-anchor="end" textLength="6.50" lengthAdjust="spacingAndGlyphs">20</text>
<line x1="36.20" y1="295.86" x2="39.50" y2="295.86" stroke="#111" stroke-width="0.8"/>
<text x="33.10" y="297.96" font-size="6.0" fill="#222" stroke="#222" stroke-width="0.2" text-anchor="end" textLength="6.50" lengthAdjust="spacingAndGlyphs">40</text>
<line x1="36.20" y1="285.74" x2="39.50" y2="285.74" stroke="#111" stroke-width="0.8"/>
<text x="33.10" y="287.84" font-size="6.0" fill="#222" stroke="#222" stroke-width="0.2" text-anchor="end" textLength="6.50" lengthAdjust="spacingAndGlyphs">60</text>
<line x1="36.20" y1="275.62" x2="39.50" y2="275.62" stroke="#111" stroke-width="0.8"/>
<text x="33.10" y="277.72" font-size="6.0" fill="#222" stroke="#222" stroke-width="0.2" text-anchor="end" textLength="6.50" lengthAdjust="spacingAndGlyphs">80</text>
<line x1="36.20" y1="265.50" x2="39.50" y2="265.50" stroke="#111" stroke-width="0.8"/>
<text x="33.10" y="267.60" font-size="6.0" fill="#222" stroke="#222" stroke-width="0.2" text-anchor="end" textLength="9.90" lengthAdjust="spacingAndGlyphs">100</text>
<line x1="37.90" y1="311.04" x2="39.50" y2="311.04" stroke="#111" stroke-width="0.55"/>
<line x1="37.90" y1="300.92" x2="39.50" y2="300.92" stroke="#111" stroke-width="0.55"/>
<line x1="37.90" y1="290.80" x2="39.50" y2="290.80" stroke="#111" stroke-width="0.55"/>
<line x1="37.90" y1="280.68" x2="39.50" y2="280.68" stroke="#111" stroke-width="0.55"/>
<line x1="37.90" y1="270.56" x2="39.50" y2="270.56" stroke="#111" stroke-width="0.55"/>
<line x1="38.50" y1="313.57" x2="39.50" y2="313.57" stroke="#111" stroke-width="0.45"/>
<line x1="38.50" y1="308.51" x2="39.50" y2="308.51" stroke="#111" stroke-width="0.45"/>
<line x1="38.50" y1="303.45" x2="39.50" y2="303.45" stroke="#111" stroke-width="0.45"/>
<line x1="38.50" y1="298.39" x2="39.50" y2="298.39" stroke="#111" stroke-width="0.45"/>
<line x1="38.50" y1="293.33" x2="39.50" y2="293.33" stroke="#111" stroke-width="0.45"/>
<line x1="38.50" y1="288.27" x2="39.50" y2="288.27" stroke="#111" stroke-width="0.45"/>
<line x1="38.50" y1="283.21" x2="39.50" y2="283.21" stroke="#111" stroke-width="0.45"/>
<line x1="38.50" y1="278.15" x2="39.50" y2="278.15" stroke="#111" stroke-width="0.45"/>
<line x1="38.50" y1="273.09" x2="39.50" y2="273.09" stroke="#111" stroke-width="0.45"/>
<line x1="38.50" y1="268.03" x2="39.50" y2="268.03" stroke="#111" stroke-width="0.45"/>
<line x1="41.00" y1="316.10" x2="41.00" y2="318.70" stroke="#111" stroke-width="0.6"/>
<line x1="43.30" y1="316.10" x2="43.30" y2="317.60" stroke="#111" stroke-width="0.6"/>
<line x1="45.60" y1="316.10" x2="45.60" y2="317.60" stroke="#111" stroke-width="0.6"/>
<line x1="47.90" y1="316.10" x2="47.90" y2="317.60" stroke="#111" stroke-width="0.6"/>
<line x1="50.20" y1="316.10" x2="50.20" y2="318.70" stroke="#111" stroke-width="0.6"/>
<line x1="52.50" y1="316.10" x2="52.50" y2="317.60" stroke="#111" stroke-width="0.6"/>
<line x1="54.80" y1="316.10" x2="54.80" y2="317.60" stroke="#111" stroke-width="0.6"/>
<line x1="57.10" y1="316.10" x2="57.10" y2="317.60" stroke="#111" stroke-width="0.6"/>
<line x1="59.40" y1="316.10" x2="59.40" y2="318.70" stroke="#111" stroke-width="0.6"/>
<line x1="61.70" y1="316.10" x2="61.70" y2="317.60" stroke="#111" stroke-width="0.6"/>
<line x1="64.00" y1="316.10" x2="64.00" y2="317.60" stroke="#111" stroke-width="0.6"/>
<line x1="66.30" y1="316.10" x2="66.30" y2="317.60" stroke="#111" stroke-width="0.6"/>
<line x1="68.60" y1="316.10" x2="68.60" y2="318.70" stroke="#111" stroke-width="0.6"/>
<line x1="70.90" y1="316.10" x2="70.90" y2="317.60" stroke="#111" stroke-width="0.6"/>
<line x1="73.20" y1="316.10" x2="73.20" y2="317.60" stroke="#111" stroke-width="0.6"/>
<line x1="75.50" y1="316.10" x2="75.50" y2="317.60" stroke="#111" stroke-width="0.6"/>
<line x1="77.80" y1="316.10" x2="77.80" y2="318.70" stroke="#111" stroke-width="0.6"/>
<line x1="80.10" y1="316.10" x2="80.10" y2="317.60" stroke="#111" stroke-width="0.6"/>
<line x1="82.40" y1="316.10" x2="82.40" y2="317.60" stroke="#111" stroke-width="0.6"/>
<line x1="84.70" y1="316.10" x2="84.70" y2="317.60" stroke="#111" stroke-width="0.6"/>
<line x1="87.00" y1="316.10" x2="87.00" y2="318.70" stroke="#111" stroke-width="0.6"/>
<line x1="89.30" y1="316.10" x2="89.30" y2="317.60" stroke="#111" stroke-width="0.6"/>
<line x1="91.60" y1="316.10" x2="91.60" y2="317.60" stroke="#111" stroke-width="0.6"/>
<line x1="93.90" y1="316.10" x2="93.90" y2="317.60" stroke="#111" stroke-width="0.6"/>
<rect x="39.50" y="262.20" width="56.00" height="53.90" fill="none" stroke="#111" stroke-width="1"/>
<line x1="39.50" y1="315.90" x2="95.50" y2="315.90" stroke="#111" stroke-width="1.2"/>
<text transform="translate(18.20,289.60) rotate(-90)" x="0" y="0" font-size="7.9" fill="#222" stroke="#222" stroke-width="0.2" text-anchor="middle" textLength="61.60" lengthAdjust="spacingAndGlyphs">Normalized to mode</text>
<text x="52.00" y="327.70" font-size="6.4" fill="#222" stroke="#222" stroke-width="0.2" textLength="2.90" lengthAdjust="spacingAndGlyphs">0</text>
<text x="72.30" y="327.70" font-size="6.4" fill="#222" stroke="#222" stroke-width="0.2" textLength="6.20" lengthAdjust="spacingAndGlyphs">10</text>
<text x="78.65" y="325.14" font-size="3.84" fill="#222" stroke="#222" stroke-width="0.2">4</text>
<text x="85.60" y="327.70" font-size="6.4" fill="#222" stroke="#222" stroke-width="0.2" textLength="6.20" lengthAdjust="spacingAndGlyphs">10</text>
<text x="91.95" y="325.14" font-size="3.84" fill="#222" stroke="#222" stroke-width="0.2">5</text>
<text x="46.30" y="339.80" font-size="7.9" fill="#41599a" stroke="#41599a" stroke-width="0.22" textLength="42.20" lengthAdjust="spacingAndGlyphs">CD115-BV605</text>
<path d="M140.00,316.10 L140.00,316.06 L140.25,316.04 L140.50,316.02 L140.75,316.00 L141.00,315.97 L141.25,315.93 L141.50,315.88 L141.75,315.83 L142.00,315.76 L142.25,315.68 L142.50,315.59 L142.75,315.48 L143.00,315.34 L143.25,315.18 L143.50,314.97 L143.75,314.69 L144.00,314.32 L144.25,313.78 L144.50,312.99 L144.75,311.85 L145.00,310.21 L145.25,307.93 L145.50,304.88 L145.75,300.97 L146.00,296.22 L146.25,290.77 L146.50,284.91 L146.75,279.08 L147.00,273.82 L147.25,269.69 L147.50,267.17 L147.75,266.55 L148.00,267.72 L148.25,270.47 L148.50,274.51 L148.75,279.45 L149.00,284.84 L149.25,290.26 L149.50,295.37 L149.75,299.91 L150.00,303.75 L150.25,306.85 L150.50,309.26 L150.75,311.07 L151.00,312.39 L151.25,313.33 L151.50,313.99 L151.75,314.47 L152.00,314.81 L152.25,315.06 L152.50,315.26 L152.75,315.41 L153.00,315.54 L153.25,315.65 L153.50,315.73 L153.75,315.80 L154.00,315.86 L154.25,315.91 L154.50,315.95 L154.75,315.99 L155.00,316.01 L155.25,316.03 L155.50,316.05 L155.75,316.06 L156.00,316.07 L156.00,316.10 Z" fill="#e49aae" stroke="#bf1443" stroke-width="0.6"/>
<path d="M140.00,316.10 L140.00,316.06 L140.25,316.04 L140.50,316.02 L140.75,316.00 L141.00,315.97 L141.25,315.93 L141.50,315.88 L141.75,315.83 L142.00,315.76 L142.25,315.68 L142.50,315.58 L142.75,315.46 L143.00,315.32 L143.25,315.14 L143.50,314.90 L143.75,314.60 L144.00,314.19 L144.25,313.64 L144.50,312.89 L144.75,311.87 L145.00,310.51 L145.25,308.73 L145.50,306.49 L145.75,303.74 L146.00,300.51 L146.25,296.89 L146.50,293.02 L146.75,289.14 L147.00,285.50 L147.25,282.40 L147.50,280.12 L147.75,278.86 L148.00,278.74 L148.25,279.56 L148.50,281.21 L148.75,283.58 L149.00,286.50 L149.25,289.78 L149.50,293.23 L149.75,296.66 L150.00,299.93 L150.25,302.92 L150.50,305.56 L150.75,307.81 L151.00,309.68 L151.25,311.19 L151.50,312.38 L151.75,313.30 L152.00,313.99 L152.25,314.51 L152.50,314.90 L152.75,315.19 L153.00,315.40 L153.25,315.56 L153.50,315.69 L153.75,315.78 L154.00,315.85 L154.25,315.91 L154.50,315.95 L154.75,315.98 L155.00,316.01 L155.25,316.03 L155.50,316.05 L155.75,316.06 L156.00,316.07 L156.00,316.10 Z" fill="#b9aec4" stroke="#353d5c" stroke-width="0.6" fill-opacity="0.45"/>
<path d="M139.00,316.10 L139.00,316.06 L139.25,316.04 L139.50,316.03 L139.75,316.01 L140.00,315.99 L140.25,315.96 L140.50,315.93 L140.75,315.89 L141.00,315.84 L141.25,315.78 L141.50,315.71 L141.75,315.62 L142.00,315.51 L142.25,315.38 L142.50,315.21 L142.75,315.01 L143.00,314.76 L143.25,314.45 L143.50,314.08 L143.75,313.61 L144.00,313.05 L144.25,312.38 L144.50,311.60 L144.75,310.69 L145.00,309.65 L145.25,308.51 L145.50,307.27 L145.75,305.95 L146.00,304.61 L146.25,303.28 L146.50,302.01 L146.75,300.86 L147.00,299.88 L147.25,299.12 L147.50,298.62 L147.75,298.40 L148.00,298.46 L148.25,298.77 L148.50,299.30 L148.75,300.04 L149.00,300.95 L149.25,302.01 L149.50,303.16 L149.75,304.36 L150.00,305.59 L150.25,306.80 L150.50,307.97 L150.75,309.07 L151.00,310.08 L151.25,311.00 L151.50,311.82 L151.75,312.53 L152.00,313.15 L152.25,313.67 L152.50,314.11 L152.75,314.48 L153.00,314.78 L153.25,315.03 L153.50,315.24 L153.75,315.40 L154.00,315.54 L154.25,315.64 L154.50,315.73 L154.75,315.80 L155.00,315.86 L155.25,315.91 L155.50,315.95 L155.75,315.98 L156.00,316.00 L156.25,316.02 L156.50,316.04 L156.75,316.05 L157.00,316.06 L157.00,316.10 Z" fill="#5f73a6" stroke="#223c7a" stroke-width="0.65" fill-opacity="0.7"/>
<line x1="131.20" y1="316.10" x2="134.50" y2="316.10" stroke="#111" stroke-width="0.8"/>
<text x="128.10" y="318.20" font-size="6.0" fill="#222" stroke="#222" stroke-width="0.2" text-anchor="end" textLength="3.20" lengthAdjust="spacingAndGlyphs">0</text>
<line x1="131.20" y1="305.98" x2="134.50" y2="305.98" stroke="#111" stroke-width="0.8"/>
<text x="128.10" y="308.08" font-size="6.0" fill="#222" stroke="#222" stroke-width="0.2" text-anchor="end" textLength="6.50" lengthAdjust="spacingAndGlyphs">20</text>
<line x1="131.20" y1="295.86" x2="134.50" y2="295.86" stroke="#111" stroke-width="0.8"/>
<text x="128.10" y="297.96" font-size="6.0" fill="#222" stroke="#222" stroke-width="0.2" text-anchor="end" textLength="6.50" lengthAdjust="spacingAndGlyphs">40</text>
<line x1="131.20" y1="285.74" x2="134.50" y2="285.74" stroke="#111" stroke-width="0.8"/>
<text x="128.10" y="287.84" font-size="6.0" fill="#222" stroke="#222" stroke-width="0.2" text-anchor="end" textLength="6.50" lengthAdjust="spacingAndGlyphs">60</text>
<line x1="131.20" y1="275.62" x2="134.50" y2="275.62" stroke="#111" stroke-width="0.8"/>
<text x="128.10" y="277.72" font-size="6.0" fill="#222" stroke="#222" stroke-width="0.2" text-anchor="end" textLength="6.50" lengthAdjust="spacingAndGlyphs">80</text>
<line x1="131.20" y1="265.50" x2="134.50" y2="265.50" stroke="#111" stroke-width="0.8"/>
<text x="128.10" y="267.60" font-size="6.0" fill="#222" stroke="#222" stroke-width="0.2" text-anchor="end" textLength="9.90" lengthAdjust="spacingAndGlyphs">100</text>
<line x1="132.90" y1="311.04" x2="134.50" y2="311.04" stroke="#111" stroke-width="0.55"/>
<line x1="132.90" y1="300.92" x2="134.50" y2="300.92" stroke="#111" stroke-width="0.55"/>
<line x1="132.90" y1="290.80" x2="134.50" y2="290.80" stroke="#111" stroke-width="0.55"/>
<line x1="132.90" y1="280.68" x2="134.50" y2="280.68" stroke="#111" stroke-width="0.55"/>
<line x1="132.90" y1="270.56" x2="134.50" y2="270.56" stroke="#111" stroke-width="0.55"/>
<line x1="133.50" y1="313.57" x2="134.50" y2="313.57" stroke="#111" stroke-width="0.45"/>
<line x1="133.50" y1="308.51" x2="134.50" y2="308.51" stroke="#111" stroke-width="0.45"/>
<line x1="133.50" y1="303.45" x2="134.50" y2="303.45" stroke="#111" stroke-width="0.45"/>
<line x1="133.50" y1="298.39" x2="134.50" y2="298.39" stroke="#111" stroke-width="0.45"/>
<line x1="133.50" y1="293.33" x2="134.50" y2="293.33" stroke="#111" stroke-width="0.45"/>
<line x1="133.50" y1="288.27" x2="134.50" y2="288.27" stroke="#111" stroke-width="0.45"/>
<line x1="133.50" y1="283.21" x2="134.50" y2="283.21" stroke="#111" stroke-width="0.45"/>
<line x1="133.50" y1="278.15" x2="134.50" y2="278.15" stroke="#111" stroke-width="0.45"/>
<line x1="133.50" y1="273.09" x2="134.50" y2="273.09" stroke="#111" stroke-width="0.45"/>
<line x1="133.50" y1="268.03" x2="134.50" y2="268.03" stroke="#111" stroke-width="0.45"/>
<line x1="136.00" y1="316.10" x2="136.00" y2="318.70" stroke="#111" stroke-width="0.6"/>
<line x1="138.30" y1="316.10" x2="138.30" y2="317.60" stroke="#111" stroke-width="0.6"/>
<line x1="140.60" y1="316.10" x2="140.60" y2="317.60" stroke="#111" stroke-width="0.6"/>
<line x1="142.90" y1="316.10" x2="142.90" y2="317.60" stroke="#111" stroke-width="0.6"/>
<line x1="145.20" y1="316.10" x2="145.20" y2="318.70" stroke="#111" stroke-width="0.6"/>
<line x1="147.50" y1="316.10" x2="147.50" y2="317.60" stroke="#111" stroke-width="0.6"/>
<line x1="149.80" y1="316.10" x2="149.80" y2="317.60" stroke="#111" stroke-width="0.6"/>
<line x1="152.10" y1="316.10" x2="152.10" y2="317.60" stroke="#111" stroke-width="0.6"/>
<line x1="154.40" y1="316.10" x2="154.40" y2="318.70" stroke="#111" stroke-width="0.6"/>
<line x1="156.70" y1="316.10" x2="156.70" y2="317.60" stroke="#111" stroke-width="0.6"/>
<line x1="159.00" y1="316.10" x2="159.00" y2="317.60" stroke="#111" stroke-width="0.6"/>
<line x1="161.30" y1="316.10" x2="161.30" y2="317.60" stroke="#111" stroke-width="0.6"/>
<line x1="163.60" y1="316.10" x2="163.60" y2="318.70" stroke="#111" stroke-width="0.6"/>
<line x1="165.90" y1="316.10" x2="165.90" y2="317.60" stroke="#111" stroke-width="0.6"/>
<line x1="168.20" y1="316.10" x2="168.20" y2="317.60" stroke="#111" stroke-width="0.6"/>
<line x1="170.50" y1="316.10" x2="170.50" y2="317.60" stroke="#111" stroke-width="0.6"/>
<line x1="172.80" y1="316.10" x2="172.80" y2="318.70" stroke="#111" stroke-width="0.6"/>
<line x1="175.10" y1="316.10" x2="175.10" y2="317.60" stroke="#111" stroke-width="0.6"/>
<line x1="177.40" y1="316.10" x2="177.40" y2="317.60" stroke="#111" stroke-width="0.6"/>
<line x1="179.70" y1="316.10" x2="179.70" y2="317.60" stroke="#111" stroke-width="0.6"/>
<line x1="182.00" y1="316.10" x2="182.00" y2="318.70" stroke="#111" stroke-width="0.6"/>
<line x1="184.30" y1="316.10" x2="184.30" y2="317.60" stroke="#111" stroke-width="0.6"/>
<line x1="186.60" y1="316.10" x2="186.60" y2="317.60" stroke="#111" stroke-width="0.6"/>
<line x1="188.90" y1="316.10" x2="188.90" y2="317.60" stroke="#111" stroke-width="0.6"/>
<rect x="134.50" y="262.20" width="56.00" height="53.90" fill="none" stroke="#111" stroke-width="1"/>
<line x1="134.50" y1="315.90" x2="190.50" y2="315.90" stroke="#111" stroke-width="1.2"/>
<text transform="translate(113.20,289.60) rotate(-90)" x="0" y="0" font-size="7.9" fill="#222" stroke="#222" stroke-width="0.2" text-anchor="middle" textLength="61.60" lengthAdjust="spacingAndGlyphs">Normalized to mode</text>
<text x="131.90" y="327.70" font-size="4.800000000000001" fill="#222" stroke="#222" stroke-width="0.2" textLength="1.40" lengthAdjust="spacingAndGlyphs">-</text>
<text x="133.80" y="327.70" font-size="6.4" fill="#222" stroke="#222" stroke-width="0.2" textLength="6.20" lengthAdjust="spacingAndGlyphs">10</text>
<text x="140.15" y="325.14" font-size="3.84" fill="#222" stroke="#222" stroke-width="0.2">3</text>
<text x="145.00" y="327.70" font-size="6.4" fill="#222" stroke="#222" stroke-width="0.2" textLength="2.90" lengthAdjust="spacingAndGlyphs">0</text>
<text x="152.30" y="327.70" font-size="6.4" fill="#222" stroke="#222" stroke-width="0.2" textLength="6.20" lengthAdjust="spacingAndGlyphs">10</text>
<text x="158.65" y="325.14" font-size="3.84" fill="#222" stroke="#222" stroke-width="0.2">3</text>
<text x="168.10" y="327.70" font-size="6.4" fill="#222" stroke="#222" stroke-width="0.2" textLength="6.20" lengthAdjust="spacingAndGlyphs">10</text>
<text x="174.45" y="325.14" font-size="3.84" fill="#222" stroke="#222" stroke-width="0.2">4</text>
<text x="181.30" y="327.70" font-size="6.4" fill="#222" stroke="#222" stroke-width="0.2" textLength="6.20" lengthAdjust="spacingAndGlyphs">10</text>
<text x="187.65" y="325.14" font-size="3.84" fill="#222" stroke="#222" stroke-width="0.2">5</text>
<text x="142.10" y="339.80" font-size="7.9" fill="#41599a" stroke="#41599a" stroke-width="0.22" textLength="40.40" lengthAdjust="spacingAndGlyphs">CD127-PECy7</text>
<path d="M233.00,316.10 L233.00,315.99 L233.25,315.96 L233.50,315.92 L233.75,315.88 L234.00,315.82 L234.25,315.76 L234.50,315.68 L234.75,315.59 L235.00,315.48 L235.25,315.34 L235.50,315.16 L235.75,314.93 L236.00,314.63 L236.25,314.21 L236.50,313.65 L236.75,312.88 L237.00,311.83 L237.25,310.42 L237.50,308.58 L237.75,306.23 L238.00,303.31 L238.25,299.81 L238.50,295.76 L238.75,291.28 L239.00,286.52 L239.25,281.73 L239.50,277.20 L239.75,273.24 L240.00,270.16 L240.25,268.20 L240.50,267.52 L240.75,268.12 L241.00,269.85 L241.25,272.59 L241.50,276.14 L241.75,280.27 L242.00,284.71 L242.25,289.23 L242.50,293.59 L242.75,297.64 L243.00,301.26 L243.25,304.37 L243.50,306.98 L243.75,309.09 L244.00,310.77 L244.25,312.06 L244.50,313.05 L244.75,313.78 L245.00,314.33 L245.25,314.73 L245.50,315.03 L245.75,315.26 L246.00,315.43 L246.25,315.56 L246.50,315.67 L246.75,315.75 L247.00,315.82 L247.25,315.88 L247.50,315.92 L247.75,315.96 L248.00,315.99 L248.25,316.01 L248.50,316.03 L248.75,316.05 L249.00,316.06 L249.00,316.10 Z" fill="#e49aae" stroke="#bf1443" stroke-width="0.6"/>
<path d="M234.00,316.10 L234.00,316.01 L234.25,315.99 L234.50,315.96 L234.75,315.92 L235.00,315.88 L235.25,315.83 L235.50,315.77 L235.75,315.70 L236.00,315.62 L236.25,315.52 L236.50,315.41 L236.75,315.28 L237.00,315.12 L237.25,314.92 L237.50,314.67 L237.75,314.34 L238.00,313.90 L238.25,313.28 L238.50,312.45 L238.75,311.31 L239.00,309.79 L239.25,307.83 L239.50,305.37 L239.75,302.39 L240.00,298.95 L240.25,295.15 L240.50,291.18 L240.75,287.29 L241.00,283.77 L241.25,280.92 L241.50,278.99 L241.75,278.18 L242.00,278.42 L242.25,279.43 L242.50,281.13 L242.75,283.41 L243.00,286.15 L243.25,289.21 L243.50,292.42 L243.75,295.64 L244.00,298.75 L244.25,301.66 L244.50,304.28 L244.75,306.58 L245.00,308.55 L245.25,310.20 L245.50,311.54 L245.75,312.61 L246.00,313.44 L246.25,314.09 L246.50,314.58 L246.75,314.95 L247.00,315.23 L247.25,315.44 L247.50,315.59 L247.75,315.71 L248.00,315.80 L248.25,315.86 L248.50,315.92 L248.75,315.96 L249.00,315.99 L249.25,316.01 L249.50,316.03 L249.75,316.05 L250.00,316.06 L250.00,316.10 Z" fill="#b9aec4" stroke="#353d5c" stroke-width="0.6" fill-opacity="0.45"/>
<path d="M233.00,316.10 L233.00,315.99 L233.25,315.96 L233.50,315.93 L233.75,315.89 L234.00,315.85 L234.25,315.80 L234.50,315.74 L234.75,315.67 L235.00,315.58 L235.25,315.47 L235.50,315.35 L235.75,315.19 L236.00,315.00 L236.25,314.75 L236.50,314.45 L236.75,314.08 L237.00,313.62 L237.25,313.04 L237.50,312.34 L237.75,311.50 L238.00,310.50 L238.25,309.34 L238.50,308.02 L238.75,306.54 L239.00,304.93 L239.25,303.22 L239.50,301.47 L239.75,299.73 L240.00,298.07 L240.25,296.56 L240.50,295.28 L240.75,294.28 L241.00,293.62 L241.25,293.34 L241.50,293.43 L241.75,293.83 L242.00,294.53 L242.25,295.50 L242.50,296.70 L242.75,298.08 L243.00,299.58 L243.25,301.15 L243.50,302.74 L243.75,304.32 L244.00,305.82 L244.25,307.24 L244.50,308.54 L244.75,309.71 L245.00,310.75 L245.25,311.65 L245.50,312.42 L245.75,313.08 L246.00,313.62 L246.25,314.08 L246.50,314.45 L246.75,314.76 L247.00,315.00 L247.25,315.20 L247.50,315.37 L247.75,315.50 L248.00,315.61 L248.25,315.70 L248.50,315.77 L248.75,315.83 L249.00,315.88 L249.25,315.92 L249.50,315.95 L249.75,315.98 L250.00,316.00 L250.25,316.02 L250.50,316.04 L250.75,316.05 L251.00,316.06 L251.00,316.10 Z" fill="#5f73a6" stroke="#223c7a" stroke-width="0.65" fill-opacity="0.7"/>
<line x1="226.20" y1="316.10" x2="229.50" y2="316.10" stroke="#111" stroke-width="0.8"/>
<text x="223.10" y="318.20" font-size="6.0" fill="#222" stroke="#222" stroke-width="0.2" text-anchor="end" textLength="3.20" lengthAdjust="spacingAndGlyphs">0</text>
<line x1="226.20" y1="305.98" x2="229.50" y2="305.98" stroke="#111" stroke-width="0.8"/>
<text x="223.10" y="308.08" font-size="6.0" fill="#222" stroke="#222" stroke-width="0.2" text-anchor="end" textLength="6.50" lengthAdjust="spacingAndGlyphs">20</text>
<line x1="226.20" y1="295.86" x2="229.50" y2="295.86" stroke="#111" stroke-width="0.8"/>
<text x="223.10" y="297.96" font-size="6.0" fill="#222" stroke="#222" stroke-width="0.2" text-anchor="end" textLength="6.50" lengthAdjust="spacingAndGlyphs">40</text>
<line x1="226.20" y1="285.74" x2="229.50" y2="285.74" stroke="#111" stroke-width="0.8"/>
<text x="223.10" y="287.84" font-size="6.0" fill="#222" stroke="#222" stroke-width="0.2" text-anchor="end" textLength="6.50" lengthAdjust="spacingAndGlyphs">60</text>
<line x1="226.20" y1="275.62" x2="229.50" y2="275.62" stroke="#111" stroke-width="0.8"/>
<text x="223.10" y="277.72" font-size="6.0" fill="#222" stroke="#222" stroke-width="0.2" text-anchor="end" textLength="6.50" lengthAdjust="spacingAndGlyphs">80</text>
<line x1="226.20" y1="265.50" x2="229.50" y2="265.50" stroke="#111" stroke-width="0.8"/>
<text x="223.10" y="267.60" font-size="6.0" fill="#222" stroke="#222" stroke-width="0.2" text-anchor="end" textLength="9.90" lengthAdjust="spacingAndGlyphs">100</text>
<line x1="227.90" y1="311.04" x2="229.50" y2="311.04" stroke="#111" stroke-width="0.55"/>
<line x1="227.90" y1="300.92" x2="229.50" y2="300.92" stroke="#111" stroke-width="0.55"/>
<line x1="227.90" y1="290.80" x2="229.50" y2="290.80" stroke="#111" stroke-width="0.55"/>
<line x1="227.90" y1="280.68" x2="229.50" y2="280.68" stroke="#111" stroke-width="0.55"/>
<line x1="227.90" y1="270.56" x2="229.50" y2="270.56" stroke="#111" stroke-width="0.55"/>
<line x1="228.50" y1="313.57" x2="229.50" y2="313.57" stroke="#111" stroke-width="0.45"/>
<line x1="228.50" y1="308.51" x2="229.50" y2="308.51" stroke="#111" stroke-width="0.45"/>
<line x1="228.50" y1="303.45" x2="229.50" y2="303.45" stroke="#111" stroke-width="0.45"/>
<line x1="228.50" y1="298.39" x2="229.50" y2="298.39" stroke="#111" stroke-width="0.45"/>
<line x1="228.50" y1="293.33" x2="229.50" y2="293.33" stroke="#111" stroke-width="0.45"/>
<line x1="228.50" y1="288.27" x2="229.50" y2="288.27" stroke="#111" stroke-width="0.45"/>
<line x1="228.50" y1="283.21" x2="229.50" y2="283.21" stroke="#111" stroke-width="0.45"/>
<line x1="228.50" y1="278.15" x2="229.50" y2="278.15" stroke="#111" stroke-width="0.45"/>
<line x1="228.50" y1="273.09" x2="229.50" y2="273.09" stroke="#111" stroke-width="0.45"/>
<line x1="228.50" y1="268.03" x2="229.50" y2="268.03" stroke="#111" stroke-width="0.45"/>
<line x1="231.00" y1="316.10" x2="231.00" y2="318.70" stroke="#111" stroke-width="0.6"/>
<line x1="233.30" y1="316.10" x2="233.30" y2="317.60" stroke="#111" stroke-width="0.6"/>
<line x1="235.60" y1="316.10" x2="235.60" y2="317.60" stroke="#111" stroke-width="0.6"/>
<line x1="237.90" y1="316.10" x2="237.90" y2="317.60" stroke="#111" stroke-width="0.6"/>
<line x1="240.20" y1="316.10" x2="240.20" y2="318.70" stroke="#111" stroke-width="0.6"/>
<line x1="242.50" y1="316.10" x2="242.50" y2="317.60" stroke="#111" stroke-width="0.6"/>
<line x1="244.80" y1="316.10" x2="244.80" y2="317.60" stroke="#111" stroke-width="0.6"/>
<line x1="247.10" y1="316.10" x2="247.10" y2="317.60" stroke="#111" stroke-width="0.6"/>
<line x1="249.40" y1="316.10" x2="249.40" y2="318.70" stroke="#111" stroke-width="0.6"/>
<line x1="251.70" y1="316.10" x2="251.70" y2="317.60" stroke="#111" stroke-width="0.6"/>
<line x1="254.00" y1="316.10" x2="254.00" y2="317.60" stroke="#111" stroke-width="0.6"/>
<line x1="256.30" y1="316.10" x2="256.30" y2="317.60" stroke="#111" stroke-width="0.6"/>
<line x1="258.60" y1="316.10" x2="258.60" y2="318.70" stroke="#111" stroke-width="0.6"/>
<line x1="260.90" y1="316.10" x2="260.90" y2="317.60" stroke="#111" stroke-width="0.6"/>
<line x1="263.20" y1="316.10" x2="263.20" y2="317.60" stroke="#111" stroke-width="0.6"/>
<line x1="265.50" y1="316.10" x2="265.50" y2="317.60" stroke="#111" stroke-width="0.6"/>
<line x1="267.80" y1="316.10" x2="267.80" y2="318.70" stroke="#111" stroke-width="0.6"/>
<line x1="270.10" y1="316.10" x2="270.10" y2="317.60" stroke="#111" stroke-width="0.6"/>
<line x1="272.40" y1="316.10" x2="272.40" y2="317.60" stroke="#111" stroke-width="0.6"/>
<line x1="274.70" y1="316.10" x2="274.70" y2="317.60" stroke="#111" stroke-width="0.6"/>
<line x1="277.00" y1="316.10" x2="277.00" y2="318.70" stroke="#111" stroke-width="0.6"/>
<line x1="279.30" y1="316.10" x2="279.30" y2="317.60" stroke="#111" stroke-width="0.6"/>
<line x1="281.60" y1="316.10" x2="281.60" y2="317.60" stroke="#111" stroke-width="0.6"/>
<line x1="283.90" y1="316.10" x2="283.90" y2="317.60" stroke="#111" stroke-width="0.6"/>
<rect x="229.50" y="262.20" width="56.00" height="53.90" fill="none" stroke="#111" stroke-width="1"/>
<line x1="229.50" y1="315.90" x2="285.50" y2="315.90" stroke="#111" stroke-width="1.2"/>
<text transform="translate(208.20,289.60) rotate(-90)" x="0" y="0" font-size="7.9" fill="#222" stroke="#222" stroke-width="0.2" text-anchor="middle" textLength="61.60" lengthAdjust="spacingAndGlyphs">Normalized to mode</text>
<text x="239.20" y="327.70" font-size="6.4" fill="#222" stroke="#222" stroke-width="0.2" textLength="2.90" lengthAdjust="spacingAndGlyphs">0</text>
<text x="248.80" y="327.70" font-size="6.4" fill="#222" stroke="#222" stroke-width="0.2" textLength="6.20" lengthAdjust="spacingAndGlyphs">10</text>
<text x="255.15" y="325.14" font-size="3.84" fill="#222" stroke="#222" stroke-width="0.2">3</text>
<text x="263.60" y="327.70" font-size="6.4" fill="#222" stroke="#222" stroke-width="0.2" textLength="6.20" lengthAdjust="spacingAndGlyphs">10</text>
<text x="269.95" y="325.14" font-size="3.84" fill="#222" stroke="#222" stroke-width="0.2">4</text>
<text x="276.40" y="327.70" font-size="6.4" fill="#222" stroke="#222" stroke-width="0.2" textLength="6.20" lengthAdjust="spacingAndGlyphs">10</text>
<text x="282.75" y="325.14" font-size="3.84" fill="#222" stroke="#222" stroke-width="0.2">5</text>
<text x="242.80" y="339.80" font-size="7.9" fill="#41599a" stroke="#41599a" stroke-width="0.22" textLength="30.00" lengthAdjust="spacingAndGlyphs">CD135-PE</text>
<path d="M332.00,316.10 L332.00,316.10 L332.25,316.09 L332.50,316.08 L332.75,316.07 L333.00,316.05 L333.25,316.01 L333.50,315.95 L333.75,315.86 L334.00,315.72 L334.25,315.50 L334.50,315.19 L334.75,314.73 L335.00,314.10 L335.25,313.23 L335.50,312.06 L335.75,310.55 L336.00,308.64 L336.25,306.28 L336.50,303.46 L336.75,300.17 L337.00,296.45 L337.25,292.38 L337.50,288.08 L337.75,283.71 L338.00,279.46 L338.25,275.54 L338.50,272.16 L338.75,269.52 L339.00,267.78 L339.25,267.04 L339.50,267.34 L339.75,268.61 L340.00,270.79 L340.25,273.74 L340.50,277.30 L340.75,281.28 L341.00,285.48 L341.25,289.72 L341.50,293.83 L341.75,297.68 L342.00,301.17 L342.25,304.25 L342.50,306.88 L342.75,309.07 L343.00,310.85 L343.25,312.26 L343.50,313.34 L343.75,314.16 L344.00,314.77 L344.25,315.20 L344.50,315.51 L344.75,315.72 L345.00,315.86 L345.25,315.95 L345.50,316.01 L345.75,316.04 L346.00,316.07 L346.25,316.08 L346.50,316.09 L346.75,316.09 L347.00,316.10 L347.00,316.10 Z" fill="#d04a6e" stroke="#b5103f" stroke-width="0.65" fill-opacity="0.9"/>
<path d="M335.60,316.10 L335.60,316.10 L336.23,315.41 L336.87,314.02 L337.50,313.22 L338.06,311.95 L338.62,310.93 L339.18,310.62 L339.74,309.69 L340.30,307.70 L340.83,308.67 L341.37,308.97 L341.90,308.31 L342.43,309.22 L342.97,309.05 L343.50,309.75 L344.04,308.91 L344.58,308.85 L345.12,307.62 L345.66,306.69 L346.20,306.46 L346.70,304.79 L347.20,303.48 L347.70,302.82 L348.23,300.57 L348.77,299.38 L349.30,298.33 L349.82,297.58 L350.35,295.49 L350.88,294.89 L351.40,293.52 L351.95,292.68 L352.50,292.24 L353.05,291.34 L353.60,291.33 L354.12,290.43 L354.65,290.46 L355.18,289.46 L355.70,289.13 L356.20,289.29 L356.70,288.46 L357.25,287.55 L357.80,285.83 L358.30,283.57 L358.80,280.42 L359.35,282.69 L359.90,284.31 L360.70,282.59 L361.50,282.89 L362.00,284.19 L362.50,285.79 L363.03,288.40 L363.57,291.68 L364.10,294.38 L364.63,297.99 L365.17,301.35 L365.70,305.27 L366.23,308.36 L366.77,309.99 L367.30,312.35 L367.83,313.15 L368.37,314.28 L368.90,314.83 L369.45,315.94 L370.00,316.10 L370.00,316.10 Z" fill="#e2e2e8" stroke="#353d5c" stroke-width="0.65"/>
<path d="M346.00,316.10 L346.00,316.10 L346.57,315.81 L347.13,315.52 L347.70,315.30 L348.24,314.81 L348.78,314.68 L349.32,314.16 L349.86,314.73 L350.40,313.96 L350.93,312.78 L351.47,312.37 L352.00,311.42 L352.53,311.52 L353.07,310.46 L353.60,309.98 L354.12,309.40 L354.65,309.09 L355.18,309.38 L355.70,308.90 L356.23,306.73 L356.77,303.97 L357.30,302.02 L357.80,299.80 L358.30,296.32 L358.80,294.15 L359.35,291.09 L359.90,289.00 L360.45,288.32 L361.00,286.63 L361.50,287.47 L362.00,287.63 L362.50,287.02 L363.05,289.23 L363.60,291.92 L364.15,296.53 L364.70,302.25 L365.20,304.94 L365.70,308.25 L366.20,310.34 L366.75,311.67 L367.30,312.47 L367.85,313.61 L368.40,315.29 L368.95,315.73 L369.50,316.10 L369.50,316.10 Z" fill="#5d70a0" stroke="#223c7a" stroke-width="0.7"/>
<line x1="321.20" y1="316.10" x2="324.50" y2="316.10" stroke="#111" stroke-width="0.8"/>
<text x="318.10" y="318.20" font-size="6.0" fill="#222" stroke="#222" stroke-width="0.2" text-anchor="end" textLength="3.20" lengthAdjust="spacingAndGlyphs">0</text>
<line x1="321.20" y1="305.98" x2="324.50" y2="305.98" stroke="#111" stroke-width="0.8"/>
<text x="318.10" y="308.08" font-size="6.0" fill="#222" stroke="#222" stroke-width="0.2" text-anchor="end" textLength="6.50" lengthAdjust="spacingAndGlyphs">20</text>
<line x1="321.20" y1="295.86" x2="324.50" y2="295.86" stroke="#111" stroke-width="0.8"/>
<text x="318.10" y="297.96" font-size="6.0" fill="#222" stroke="#222" stroke-width="0.2" text-anchor="end" textLength="6.50" lengthAdjust="spacingAndGlyphs">40</text>
<line x1="321.20" y1="285.74" x2="324.50" y2="285.74" stroke="#111" stroke-width="0.8"/>
<text x="318.10" y="287.84" font-size="6.0" fill="#222" stroke="#222" stroke-width="0.2" text-anchor="end" textLength="6.50" lengthAdjust="spacingAndGlyphs">60</text>
<line x1="321.20" y1="275.62" x2="324.50" y2="275.62" stroke="#111" stroke-width="0.8"/>
<text x="318.10" y="277.72" font-size="6.0" fill="#222" stroke="#222" stroke-width="0.2" text-anchor="end" textLength="6.50" lengthAdjust="spacingAndGlyphs">80</text>
<line x1="321.20" y1="265.50" x2="324.50" y2="265.50" stroke="#111" stroke-width="0.8"/>
<text x="318.10" y="267.60" font-size="6.0" fill="#222" stroke="#222" stroke-width="0.2" text-anchor="end" textLength="9.90" lengthAdjust="spacingAndGlyphs">100</text>
<line x1="322.90" y1="311.04" x2="324.50" y2="311.04" stroke="#111" stroke-width="0.55"/>
<line x1="322.90" y1="300.92" x2="324.50" y2="300.92" stroke="#111" stroke-width="0.55"/>
<line x1="322.90" y1="290.80" x2="324.50" y2="290.80" stroke="#111" stroke-width="0.55"/>
<line x1="322.90" y1="280.68" x2="324.50" y2="280.68" stroke="#111" stroke-width="0.55"/>
<line x1="322.90" y1="270.56" x2="324.50" y2="270.56" stroke="#111" stroke-width="0.55"/>
<line x1="323.50" y1="313.57" x2="324.50" y2="313.57" stroke="#111" stroke-width="0.45"/>
<line x1="323.50" y1="308.51" x2="324.50" y2="308.51" stroke="#111" stroke-width="0.45"/>
<line x1="323.50" y1="303.45" x2="324.50" y2="303.45" stroke="#111" stroke-width="0.45"/>
<line x1="323.50" y1="298.39" x2="324.50" y2="298.39" stroke="#111" stroke-width="0.45"/>
<line x1="323.50" y1="293.33" x2="324.50" y2="293.33" stroke="#111" stroke-width="0.45"/>
<line x1="323.50" y1="288.27" x2="324.50" y2="288.27" stroke="#111" stroke-width="0.45"/>
<line x1="323.50" y1="283.21" x2="324.50" y2="283.21" stroke="#111" stroke-width="0.45"/>
<line x1="323.50" y1="278.15" x2="324.50" y2="278.15" stroke="#111" stroke-width="0.45"/>
<line x1="323.50" y1="273.09" x2="324.50" y2="273.09" stroke="#111" stroke-width="0.45"/>
<line x1="323.50" y1="268.03" x2="324.50" y2="268.03" stroke="#111" stroke-width="0.45"/>
<line x1="326.00" y1="316.10" x2="326.00" y2="318.70" stroke="#111" stroke-width="0.6"/>
<line x1="328.30" y1="316.10" x2="328.30" y2="317.60" stroke="#111" stroke-width="0.6"/>
<line x1="330.60" y1="316.10" x2="330.60" y2="317.60" stroke="#111" stroke-width="0.6"/>
<line x1="332.90" y1="316.10" x2="332.90" y2="317.60" stroke="#111" stroke-width="0.6"/>
<line x1="335.20" y1="316.10" x2="335.20" y2="318.70" stroke="#111" stroke-width="0.6"/>
<line x1="337.50" y1="316.10" x2="337.50" y2="317.60" stroke="#111" stroke-width="0.6"/>
<line x1="339.80" y1="316.10" x2="339.80" y2="317.60" stroke="#111" stroke-width="0.6"/>
<line x1="342.10" y1="316.10" x2="342.10" y2="317.60" stroke="#111" stroke-width="0.6"/>
<line x1="344.40" y1="316.10" x2="344.40" y2="318.70" stroke="#111" stroke-width="0.6"/>
<line x1="346.70" y1="316.10" x2="346.70" y2="317.60" stroke="#111" stroke-width="0.6"/>
<line x1="349.00" y1="316.10" x2="349.00" y2="317.60" stroke="#111" stroke-width="0.6"/>
<line x1="351.30" y1="316.10" x2="351.30" y2="317.60" stroke="#111" stroke-width="0.6"/>
<line x1="353.60" y1="316.10" x2="353.60" y2="318.70" stroke="#111" stroke-width="0.6"/>
<line x1="355.90" y1="316.10" x2="355.90" y2="317.60" stroke="#111" stroke-width="0.6"/>
<line x1="358.20" y1="316.10" x2="358.20" y2="317.60" stroke="#111" stroke-width="0.6"/>
<line x1="360.50" y1="316.10" x2="360.50" y2="317.60" stroke="#111" stroke-width="0.6"/>
<line x1="362.80" y1="316.10" x2="362.80" y2="318.70" stroke="#111" stroke-width="0.6"/>
<line x1="365.10" y1="316.10" x2="365.10" y2="317.60" stroke="#111" stroke-width="0.6"/>
<line x1="367.40" y1="316.10" x2="367.40" y2="317.60" stroke="#111" stroke-width="0.6"/>
<line x1="369.70" y1="316.10" x2="369.70" y2="317.60" stroke="#111" stroke-width="0.6"/>
<line x1="372.00" y1="316.10" x2="372.00" y2="318.70" stroke="#111" stroke-width="0.6"/>
<line x1="374.30" y1="316.10" x2="374.30" y2="317.60" stroke="#111" stroke-width="0.6"/>
<line x1="376.60" y1="316.10" x2="376.60" y2="317.60" stroke="#111" stroke-width="0.6"/>
<line x1="378.90" y1="316.10" x2="378.90" y2="317.60" stroke="#111" stroke-width="0.6"/>
<rect x="324.50" y="262.20" width="56.00" height="53.90" fill="none" stroke="#111" stroke-width="1"/>
<line x1="324.50" y1="315.90" x2="380.50" y2="315.90" stroke="#111" stroke-width="1.2"/>
<text transform="translate(303.20,289.60) rotate(-90)" x="0" y="0" font-size="7.9" fill="#222" stroke="#222" stroke-width="0.2" text-anchor="middle" textLength="61.60" lengthAdjust="spacingAndGlyphs">Normalized to mode</text>
<text x="322.80" y="327.70" font-size="4.800000000000001" fill="#222" stroke="#222" stroke-width="0.2" textLength="1.40" lengthAdjust="spacingAndGlyphs">-</text>
<text x="324.70" y="327.70" font-size="6.4" fill="#222" stroke="#222" stroke-width="0.2" textLength="6.20" lengthAdjust="spacingAndGlyphs">10</text>
<text x="331.05" y="325.14" font-size="3.84" fill="#222" stroke="#222" stroke-width="0.2">3</text>
<text x="335.90" y="327.70" font-size="6.4" fill="#222" stroke="#222" stroke-width="0.2" textLength="2.90" lengthAdjust="spacingAndGlyphs">0</text>
<text x="342.90" y="327.70" font-size="6.4" fill="#222" stroke="#222" stroke-width="0.2" textLength="6.20" lengthAdjust="spacingAndGlyphs">10</text>
<text x="349.25" y="325.14" font-size="3.84" fill="#222" stroke="#222" stroke-width="0.2">3</text>
<text x="358.10" y="327.70" font-size="6.4" fill="#222" stroke="#222" stroke-width="0.2" textLength="6.20" lengthAdjust="spacingAndGlyphs">10</text>
<text x="364.45" y="325.14" font-size="3.84" fill="#222" stroke="#222" stroke-width="0.2">4</text>
<text x="371.80" y="327.70" font-size="6.4" fill="#222" stroke="#222" stroke-width="0.2" textLength="6.20" lengthAdjust="spacingAndGlyphs">10</text>
<text x="378.15" y="325.14" font-size="3.84" fill="#222" stroke="#222" stroke-width="0.2">5</text>
<text x="334.80" y="339.80" font-size="7.9" fill="#41599a" stroke="#41599a" stroke-width="0.22" textLength="37.00" lengthAdjust="spacingAndGlyphs">CD16/32-PB</text>
<path d="M426.00,316.10 L426.00,316.10 L426.25,316.10 L426.50,316.10 L426.75,316.09 L427.00,316.09 L427.25,316.08 L427.50,316.06 L427.75,316.03 L428.00,315.98 L428.25,315.89 L428.50,315.76 L428.75,315.55 L429.00,315.23 L429.25,314.76 L429.50,314.10 L429.75,313.18 L430.00,311.94 L430.25,310.32 L430.50,308.26 L430.75,305.71 L431.00,302.68 L431.25,299.18 L431.50,295.27 L431.75,291.09 L432.00,286.79 L432.25,282.57 L432.50,278.68 L432.75,275.34 L433.00,272.78 L433.25,271.16 L433.50,270.61 L433.75,271.10 L434.00,272.54 L434.25,274.83 L434.50,277.84 L434.75,281.39 L435.00,285.28 L435.25,289.32 L435.50,293.33 L435.75,297.15 L436.00,300.67 L436.25,303.81 L436.50,306.51 L436.75,308.78 L437.00,310.64 L437.25,312.11 L437.50,313.24 L437.75,314.10 L438.00,314.73 L438.25,315.18 L438.50,315.50 L438.75,315.71 L439.00,315.86 L439.25,315.95 L439.50,316.01 L439.75,316.05 L440.00,316.07 L440.25,316.08 L440.50,316.09 L440.75,316.09 L441.00,316.10 L441.00,316.10 Z" fill="#d04a6e" stroke="#b5103f" stroke-width="0.65" fill-opacity="0.9"/>
<path d="M428.50,316.10 L428.50,316.10 L429.00,315.92 L429.50,315.77 L430.00,315.71 L430.50,315.07 L431.00,315.39 L431.50,314.83 L432.00,314.34 L432.50,314.58 L433.00,314.04 L433.50,313.75 L434.10,313.80 L434.70,313.29 L435.30,312.79 L435.85,313.17 L436.40,313.23 L436.95,313.80 L437.50,313.98 L438.00,314.44 L438.50,314.58 L439.00,314.70 L439.50,315.29 L440.00,315.34 L440.50,315.75 L441.00,315.70 L441.57,315.84 L442.13,315.47 L442.70,314.98 L443.24,314.19 L443.78,313.62 L444.32,313.06 L444.86,312.19 L445.40,311.47 L445.92,310.91 L446.44,310.07 L446.96,309.93 L447.48,308.99 L448.00,308.48 L448.53,307.55 L449.07,305.92 L449.60,304.42 L450.13,301.53 L450.67,298.12 L451.20,294.65 L451.75,291.34 L452.30,287.25 L452.95,289.64 L453.60,291.46 L454.25,294.48 L454.90,298.11 L455.45,301.47 L456.00,304.66 L456.50,308.08 L457.00,312.09 L457.55,313.95 L458.10,315.60 L459.00,316.10 L459.00,316.10 Z" fill="#e2e2e8" stroke="#353d5c" stroke-width="0.65"/>
<path d="M442.50,316.10 L442.50,316.10 L443.30,315.63 L443.82,314.79 L444.34,313.73 L444.86,313.34 L445.38,312.55 L445.90,311.73 L446.44,311.54 L446.98,310.76 L447.52,310.15 L448.06,309.50 L448.60,309.55 L449.12,308.18 L449.65,307.15 L450.18,305.36 L450.70,304.25 L451.20,301.04 L451.70,296.53 L452.30,296.14 L452.80,298.24 L453.30,300.12 L453.83,301.89 L454.37,303.40 L454.90,304.39 L455.43,306.89 L455.97,308.91 L456.50,311.00 L457.00,313.57 L457.50,315.62 L458.20,316.10 L458.20,316.10 Z" fill="#5d70a0" stroke="#223c7a" stroke-width="0.7"/>
<line x1="416.20" y1="316.10" x2="419.50" y2="316.10" stroke="#111" stroke-width="0.8"/>
<text x="413.10" y="318.20" font-size="6.0" fill="#222" stroke="#222" stroke-width="0.2" text-anchor="end" textLength="3.20" lengthAdjust="spacingAndGlyphs">0</text>
<line x1="416.20" y1="305.98" x2="419.50" y2="305.98" stroke="#111" stroke-width="0.8"/>
<text x="413.10" y="308.08" font-size="6.0" fill="#222" stroke="#222" stroke-width="0.2" text-anchor="end" textLength="6.50" lengthAdjust="spacingAndGlyphs">20</text>
<line x1="416.20" y1="295.86" x2="419.50" y2="295.86" stroke="#111" stroke-width="0.8"/>
<text x="413.10" y="297.96" font-size="6.0" fill="#222" stroke="#222" stroke-width="0.2" text-anchor="end" textLength="6.50" lengthAdjust="spacingAndGlyphs">40</text>
<line x1="416.20" y1="285.74" x2="419.50" y2="285.74" stroke="#111" stroke-width="0.8"/>
<text x="413.10" y="287.84" font-size="6.0" fill="#222" stroke="#222" stroke-width="0.2" text-anchor="end" textLength="6.50" lengthAdjust="spacingAndGlyphs">60</text>
<line x1="416.20" y1="275.62" x2="419.50" y2="275.62" stroke="#111" stroke-width="0.8"/>
<text x="413.10" y="277.72" font-size="6.0" fill="#222" stroke="#222" stroke-width="0.2" text-anchor="end" textLength="6.50" lengthAdjust="spacingAndGlyphs">80</text>
<line x1="416.20" y1="265.50" x2="419.50" y2="265.50" stroke="#111" stroke-width="0.8"/>
<text x="413.10" y="267.60" font-size="6.0" fill="#222" stroke="#222" stroke-width="0.2" text-anchor="end" textLength="9.90" lengthAdjust="spacingAndGlyphs">100</text>
<line x1="417.90" y1="311.04" x2="419.50" y2="311.04" stroke="#111" stroke-width="0.55"/>
<line x1="417.90" y1="300.92" x2="419.50" y2="300.92" stroke="#111" stroke-width="0.55"/>
<line x1="417.90" y1="290.80" x2="419.50" y2="290.80" stroke="#111" stroke-width="0.55"/>
<line x1="417.90" y1="280.68" x2="419.50" y2="280.68" stroke="#111" stroke-width="0.55"/>
<line x1="417.90" y1="270.56" x2="419.50" y2="270.56" stroke="#111" stroke-width="0.55"/>
<line x1="418.50" y1="313.57" x2="419.50" y2="313.57" stroke="#111" stroke-width="0.45"/>
<line x1="418.50" y1="308.51" x2="419.50" y2="308.51" stroke="#111" stroke-width="0.45"/>
<line x1="418.50" y1="303.45" x2="419.50" y2="303.45" stroke="#111" stroke-width="0.45"/>
<line x1="418.50" y1="298.39" x2="419.50" y2="298.39" stroke="#111" stroke-width="0.45"/>
<line x1="418.50" y1="293.33" x2="419.50" y2="293.33" stroke="#111" stroke-width="0.45"/>
<line x1="418.50" y1="288.27" x2="419.50" y2="288.27" stroke="#111" stroke-width="0.45"/>
<line x1="418.50" y1="283.21" x2="419.50" y2="283.21" stroke="#111" stroke-width="0.45"/>
<line x1="418.50" y1="278.15" x2="419.50" y2="278.15" stroke="#111" stroke-width="0.45"/>
<line x1="418.50" y1="273.09" x2="419.50" y2="273.09" stroke="#111" stroke-width="0.45"/>
<line x1="418.50" y1="268.03" x2="419.50" y2="268.03" stroke="#111" stroke-width="0.45"/>
<line x1="421.00" y1="316.10" x2="421.00" y2="318.70" stroke="#111" stroke-width="0.6"/>
<line x1="423.30" y1="316.10" x2="423.30" y2="317.60" stroke="#111" stroke-width="0.6"/>
<line x1="425.60" y1="316.10" x2="425.60" y2="317.60" stroke="#111" stroke-width="0.6"/>
<line x1="427.90" y1="316.10" x2="427.90" y2="317.60" stroke="#111" stroke-width="0.6"/>
<line x1="430.20" y1="316.10" x2="430.20" y2="318.70" stroke="#111" stroke-width="0.6"/>
<line x1="432.50" y1="316.10" x2="432.50" y2="317.60" stroke="#111" stroke-width="0.6"/>
<line x1="434.80" y1="316.10" x2="434.80" y2="317.60" stroke="#111" stroke-width="0.6"/>
<line x1="437.10" y1="316.10" x2="437.10" y2="317.60" stroke="#111" stroke-width="0.6"/>
<line x1="439.40" y1="316.10" x2="439.40" y2="318.70" stroke="#111" stroke-width="0.6"/>
<line x1="441.70" y1="316.10" x2="441.70" y2="317.60" stroke="#111" stroke-width="0.6"/>
<line x1="444.00" y1="316.10" x2="444.00" y2="317.60" stroke="#111" stroke-width="0.6"/>
<line x1="446.30" y1="316.10" x2="446.30" y2="317.60" stroke="#111" stroke-width="0.6"/>
<line x1="448.60" y1="316.10" x2="448.60" y2="318.70" stroke="#111" stroke-width="0.6"/>
<line x1="450.90" y1="316.10" x2="450.90" y2="317.60" stroke="#111" stroke-width="0.6"/>
<line x1="453.20" y1="316.10" x2="453.20" y2="317.60" stroke="#111" stroke-width="0.6"/>
<line x1="455.50" y1="316.10" x2="455.50" y2="317.60" stroke="#111" stroke-width="0.6"/>
<line x1="457.80" y1="316.10" x2="457.80" y2="318.70" stroke="#111" stroke-width="0.6"/>
<line x1="460.10" y1="316.10" x2="460.10" y2="317.60" stroke="#111" stroke-width="0.6"/>
<line x1="462.40" y1="316.10" x2="462.40" y2="317.60" stroke="#111" stroke-width="0.6"/>
<line x1="464.70" y1="316.10" x2="464.70" y2="317.60" stroke="#111" stroke-width="0.6"/>
<line x1="467.00" y1="316.10" x2="467.00" y2="318.70" stroke="#111" stroke-width="0.6"/>
<line x1="469.30" y1="316.10" x2="469.30" y2="317.60" stroke="#111" stroke-width="0.6"/>
<line x1="471.60" y1="316.10" x2="471.60" y2="317.60" stroke="#111" stroke-width="0.6"/>
<rect x="419.50" y="262.20" width="55.00" height="53.90" fill="none" stroke="#111" stroke-width="1"/>
<line x1="419.50" y1="315.90" x2="474.50" y2="315.90" stroke="#111" stroke-width="1.2"/>
<text transform="translate(398.20,289.60) rotate(-90)" x="0" y="0" font-size="7.9" fill="#222" stroke="#222" stroke-width="0.2" text-anchor="middle" textLength="61.60" lengthAdjust="spacingAndGlyphs">Normalized to mode</text>
<text x="429.80" y="327.70" font-size="6.4" fill="#222" stroke="#222" stroke-width="0.2" textLength="2.90" lengthAdjust="spacingAndGlyphs">0</text>
<text x="448.40" y="327.70" font-size="6.4" fill="#222" stroke="#222" stroke-width="0.2" textLength="6.20" lengthAdjust="spacingAndGlyphs">10</text>
<text x="454.75" y="325.14" font-size="3.84" fill="#222" stroke="#222" stroke-width="0.2">4</text>
<text x="460.10" y="327.70" font-size="6.4" fill="#222" stroke="#222" stroke-width="0.2" textLength="6.20" lengthAdjust="spacingAndGlyphs">10</text>
<text x="466.45" y="325.14" font-size="3.84" fill="#222" stroke="#222" stroke-width="0.2">5</text>
<text x="431.80" y="339.80" font-size="7.9" fill="#41599a" stroke="#41599a" stroke-width="0.22" textLength="31.00" lengthAdjust="spacingAndGlyphs">CD31-APC</text>
<text x="168.60" y="356.50" font-size="6.6" fill="#41599a" stroke="#41599a" stroke-width="0.22" textLength="47.10" lengthAdjust="spacingAndGlyphs">Day 1 Single cell</text>
<rect x="183.30" y="362.60" width="18.50" height="16.00" fill="#fff"/>
<ellipse cx="192.55" cy="376.8" rx="9.25" ry="2.6" fill="#f2c200" stroke="#222" stroke-width="0.8"/>
<ellipse cx="192.55" cy="377.0" rx="4.6" ry="1.2" fill="#fff" opacity="0.9"/>
<line x1="183.30" y1="362.60" x2="183.30" y2="377.10" stroke="#222" stroke-width="0.8"/>
<line x1="201.80" y1="362.60" x2="201.80" y2="377.10" stroke="#222" stroke-width="0.8"/>
<ellipse cx="192.55" cy="362.6" rx="9.25" ry="1.9" fill="#dcdce2" stroke="#222" stroke-width="0.95"/>
<circle cx="192.35000000000002" cy="365.0" r="2.7" fill="#6b3c10"/>
<text x="168.60" y="389.00" font-size="6.6" fill="#41599a" stroke="#41599a" stroke-width="0.22" textLength="47.60" lengthAdjust="spacingAndGlyphs">OP9 or OP9-DL4</text>
<text x="148.00" y="397.10" font-size="6.6" fill="#41599a" stroke="#41599a" stroke-width="0.22" textLength="88.90" lengthAdjust="spacingAndGlyphs">(IL-7,Flt3L,KitL,M-CSF,GM-CSF)</text>
<rect x="183.30" y="405.40" width="18.50" height="16.00" fill="#fff"/>
<path d="M183.3,416.9 L183.3,419.9 A9.25,2.8 0 0 0 201.8,419.9 L201.8,416.9 Z" fill="#e7b20c"/>
<ellipse cx="192.55" cy="416.9" rx="8.95" ry="3.4" fill="#f1c21a" stroke="#c98d00" stroke-width="0.5"/>
<path d="M183.3,419.9 A9.25,2.8 0 0 0 201.8,419.9" fill="none" stroke="#222" stroke-width="0.8"/>
<line x1="183.30" y1="405.40" x2="183.30" y2="419.90" stroke="#222" stroke-width="0.8"/>
<line x1="201.80" y1="405.40" x2="201.80" y2="419.90" stroke="#222" stroke-width="0.8"/>
<ellipse cx="192.55" cy="405.4" rx="9.25" ry="1.9" fill="#dcdce2" stroke="#222" stroke-width="0.95"/>
<circle cx="192.35000000000002" cy="407.79999999999995" r="2.7" fill="#6b3c10"/>
<text x="146.30" y="428.90" font-size="6.6" fill="#41599a" stroke="#41599a" stroke-width="0.22" textLength="92.10" lengthAdjust="spacingAndGlyphs">(KitL,M-CSF,GM-CSF, EPO,TPO)</text>
<line x1="245.40" y1="361.50" x2="245.40" y2="420.60" stroke="#222" stroke-width="1"/>
<line x1="245.40" y1="390.90" x2="291.00" y2="390.90" stroke="#222" stroke-width="1"/>
<polygon points="295.50,390.90 291.02,392.86 291.02,388.94" fill="#111"/>
<rect x="300.50" y="382.10" width="72.40" height="17.50" fill="#000"/>
<text x="318" y="392.8" font-size="6.6" fill="#fff" textLength="37.8" lengthAdjust="spacingAndGlyphs">Day 12 FACS</text>
<line x1="39.50" y1="457.60" x2="39.50" y2="516.60" stroke="#111" stroke-width="1"/>
<line x1="39.00" y1="516.10" x2="124.50" y2="516.10" stroke="#111" stroke-width="1"/>
<line x1="36.50" y1="516.10" x2="39.50" y2="516.10" stroke="#111" stroke-width="0.8"/>
<text x="32.90" y="518.20" font-size="6.0" fill="#222" stroke="#222" stroke-width="0.2" text-anchor="end" textLength="3.10" lengthAdjust="spacingAndGlyphs">0</text>
<line x1="36.50" y1="504.80" x2="39.50" y2="504.80" stroke="#111" stroke-width="0.8"/>
<text x="32.90" y="506.90" font-size="6.0" fill="#222" stroke="#222" stroke-width="0.2" text-anchor="end" textLength="6.30" lengthAdjust="spacingAndGlyphs">20</text>
<line x1="36.50" y1="493.50" x2="39.50" y2="493.50" stroke="#111" stroke-width="0.8"/>
<text x="32.90" y="495.60" font-size="6.0" fill="#222" stroke="#222" stroke-width="0.2" text-anchor="end" textLength="6.30" lengthAdjust="spacingAndGlyphs">40</text>
<line x1="36.50" y1="482.20" x2="39.50" y2="482.20" stroke="#111" stroke-width="0.8"/>
<text x="32.90" y="484.30" font-size="6.0" fill="#222" stroke="#222" stroke-width="0.2" text-anchor="end" textLength="6.30" lengthAdjust="spacingAndGlyphs">60</text>
<line x1="36.50" y1="470.90" x2="39.50" y2="470.90" stroke="#111" stroke-width="0.8"/>
<text x="32.90" y="473.00" font-size="6.0" fill="#222" stroke="#222" stroke-width="0.2" text-anchor="end" textLength="6.30" lengthAdjust="spacingAndGlyphs">80</text>
<line x1="36.50" y1="459.60" x2="39.50" y2="459.60" stroke="#111" stroke-width="0.8"/>
<text x="32.90" y="461.70" font-size="6.0" fill="#222" stroke="#222" stroke-width="0.2" text-anchor="end" textLength="9.50" lengthAdjust="spacingAndGlyphs">100</text>
<text transform="translate(17.30,486.40) rotate(-90)" x="0" y="0" font-size="7.8" fill="#222" stroke="#222" stroke-width="0.2" text-anchor="middle" textLength="63.50" lengthAdjust="spacingAndGlyphs">Lineage potential (%)</text>
<rect x="44.10" y="474.99" width="18.90" height="41.11" fill="#512862"/>
<rect x="44.10" y="497.96" width="18.90" height="18.14" fill="#5e3e1c"/>
<rect x="44.10" y="509.86" width="18.90" height="6.24" fill="#e59a24"/>
<line x1="53.55" y1="509.86" x2="53.55" y2="509.18" stroke="#111" stroke-width="1.0"/>
<line x1="48.95" y1="509.18" x2="58.15" y2="509.18" stroke="#111" stroke-width="1.1"/>
<line x1="53.55" y1="497.96" x2="53.55" y2="496.54" stroke="#111" stroke-width="1.0"/>
<line x1="48.95" y1="496.54" x2="58.15" y2="496.54" stroke="#111" stroke-width="1.1"/>
<line x1="53.55" y1="474.99" x2="53.55" y2="473.29" stroke="#444" stroke-width="1.0"/>
<line x1="48.95" y1="473.29" x2="58.15" y2="473.29" stroke="#444" stroke-width="1.1"/>
<rect x="72.70" y="487.86" width="18.60" height="28.24" fill="#512862"/>
<line x1="82.00" y1="487.86" x2="82.00" y2="486.56" stroke="#444" stroke-width="1.0"/>
<line x1="77.40" y1="486.56" x2="86.60" y2="486.56" stroke="#444" stroke-width="1.1"/>
<rect x="101.30" y="487.47" width="18.40" height="28.63" fill="#512862"/>
<line x1="110.50" y1="487.47" x2="110.50" y2="485.43" stroke="#444" stroke-width="1.0"/>
<line x1="105.90" y1="485.43" x2="115.10" y2="485.43" stroke="#444" stroke-width="1.1"/>
<line x1="53.50" y1="516.10" x2="53.50" y2="518.60" stroke="#111" stroke-width="0.8"/>
<line x1="82.00" y1="516.10" x2="82.00" y2="518.60" stroke="#111" stroke-width="0.8"/>
<line x1="110.50" y1="516.10" x2="110.50" y2="518.60" stroke="#111" stroke-width="0.8"/>
<text x="48.30" y="527.80" font-size="6.2" fill="#333" stroke="#333" stroke-width="0.2" textLength="10.80" lengthAdjust="spacingAndGlyphs">LSK</text>
<text x="70.9" y="527.8" font-size="6.2" fill="#333" stroke="#333" stroke-width="0.2" textLength="22" lengthAdjust="spacingAndGlyphs">YS YFP<tspan font-size="4" dy="-2.6">+</tspan></text>
<text x="99.4" y="527.8" font-size="6.2" fill="#333" stroke="#333" stroke-width="0.2" textLength="20.8" lengthAdjust="spacingAndGlyphs">YS YFP<tspan font-size="4" dy="-2.6">-</tspan></text>
<rect x="133.60" y="458.20" width="6.50" height="3.00" fill="#3f1a55"/>
<text x="142.60" y="461.30" font-size="5.0" fill="#444" stroke="#444" stroke-width="0.2" textLength="9.50" lengthAdjust="spacingAndGlyphs">GM</text>
<rect x="133.60" y="467.00" width="6.50" height="3.00" fill="#4d3014"/>
<text x="142.60" y="470.10" font-size="5.0" fill="#444" stroke="#444" stroke-width="0.2" textLength="13.90" lengthAdjust="spacingAndGlyphs">B/GM</text>
<rect x="133.60" y="475.70" width="6.50" height="3.00" fill="#e59a24"/>
<text x="142.60" y="478.80" font-size="5.0" fill="#444" stroke="#444" stroke-width="0.2" textLength="2.80" lengthAdjust="spacingAndGlyphs">B</text>
<line x1="201.50" y1="456.80" x2="201.50" y2="516.70" stroke="#111" stroke-width="1"/>
<line x1="201.00" y1="516.20" x2="286.50" y2="516.20" stroke="#111" stroke-width="1"/>
<line x1="198.50" y1="516.20" x2="201.50" y2="516.20" stroke="#111" stroke-width="0.8"/>
<text x="194.90" y="518.30" font-size="6.0" fill="#222" stroke="#222" stroke-width="0.2" text-anchor="end" textLength="3.10" lengthAdjust="spacingAndGlyphs">0</text>
<line x1="198.50" y1="504.88" x2="201.50" y2="504.88" stroke="#111" stroke-width="0.8"/>
<text x="194.90" y="506.98" font-size="6.0" fill="#222" stroke="#222" stroke-width="0.2" text-anchor="end" textLength="6.30" lengthAdjust="spacingAndGlyphs">20</text>
<line x1="198.50" y1="493.56" x2="201.50" y2="493.56" stroke="#111" stroke-width="0.8"/>
<text x="194.90" y="495.66" font-size="6.0" fill="#222" stroke="#222" stroke-width="0.2" text-anchor="end" textLength="6.30" lengthAdjust="spacingAndGlyphs">40</text>
<line x1="198.50" y1="482.24" x2="201.50" y2="482.24" stroke="#111" stroke-width="0.8"/>
<text x="194.90" y="484.34" font-size="6.0" fill="#222" stroke="#222" stroke-width="0.2" text-anchor="end" textLength="6.30" lengthAdjust="spacingAndGlyphs">60</text>
<line x1="198.50" y1="470.92" x2="201.50" y2="470.92" stroke="#111" stroke-width="0.8"/>
<text x="194.90" y="473.02" font-size="6.0" fill="#222" stroke="#222" stroke-width="0.2" text-anchor="end" textLength="6.30" lengthAdjust="spacingAndGlyphs">80</text>
<line x1="198.50" y1="459.60" x2="201.50" y2="459.60" stroke="#111" stroke-width="0.8"/>
<text x="194.90" y="461.70" font-size="6.0" fill="#222" stroke="#222" stroke-width="0.2" text-anchor="end" textLength="9.50" lengthAdjust="spacingAndGlyphs">100</text>
<text transform="translate(179.20,486.40) rotate(-90)" x="0" y="0" font-size="7.8" fill="#222" stroke="#222" stroke-width="0.2" text-anchor="middle" textLength="63.50" lengthAdjust="spacingAndGlyphs">Lineage potential (%)</text>
<rect x="206.30" y="471.64" width="18.70" height="44.56" fill="#512862"/>
<rect x="206.30" y="495.33" width="18.70" height="20.87" fill="#5e3e1c"/>
<rect x="206.30" y="509.15" width="18.70" height="7.05" fill="#2e4b7d"/>
<line x1="215.65" y1="509.15" x2="215.65" y2="508.47" stroke="#111" stroke-width="1.0"/>
<line x1="211.05" y1="508.47" x2="220.25" y2="508.47" stroke="#111" stroke-width="1.1"/>
<line x1="215.65" y1="495.33" x2="215.65" y2="494.20" stroke="#111" stroke-width="1.0"/>
<line x1="211.05" y1="494.20" x2="220.25" y2="494.20" stroke="#111" stroke-width="1.1"/>
<line x1="215.65" y1="471.64" x2="215.65" y2="470.23" stroke="#444" stroke-width="1.0"/>
<line x1="211.05" y1="470.23" x2="220.25" y2="470.23" stroke="#444" stroke-width="1.1"/>
<rect x="234.40" y="486.31" width="19.20" height="29.89" fill="#512862"/>
<line x1="244.00" y1="486.31" x2="244.00" y2="484.90" stroke="#444" stroke-width="1.0"/>
<line x1="239.40" y1="484.90" x2="248.60" y2="484.90" stroke="#444" stroke-width="1.1"/>
<rect x="263.10" y="485.18" width="18.80" height="31.02" fill="#512862"/>
<line x1="272.50" y1="485.18" x2="272.50" y2="483.88" stroke="#444" stroke-width="1.0"/>
<line x1="267.90" y1="483.88" x2="277.10" y2="483.88" stroke="#444" stroke-width="1.1"/>
<line x1="215.60" y1="516.20" x2="215.60" y2="518.70" stroke="#111" stroke-width="0.8"/>
<line x1="244.00" y1="516.20" x2="244.00" y2="518.70" stroke="#111" stroke-width="0.8"/>
<line x1="272.50" y1="516.20" x2="272.50" y2="518.70" stroke="#111" stroke-width="0.8"/>
<text x="209.90" y="527.80" font-size="6.2" fill="#333" stroke="#333" stroke-width="0.2" textLength="11.00" lengthAdjust="spacingAndGlyphs">LSK</text>
<text x="232.3" y="527.8" font-size="6.2" fill="#333" stroke="#333" stroke-width="0.2" textLength="23.4" lengthAdjust="spacingAndGlyphs">YS YFP<tspan font-size="4" dy="-2.6">+</tspan></text>
<text x="261.5" y="527.8" font-size="6.2" fill="#333" stroke="#333" stroke-width="0.2" textLength="20.8" lengthAdjust="spacingAndGlyphs">YS YFP<tspan font-size="4" dy="-2.6">-</tspan></text>
<rect x="295.60" y="458.20" width="6.50" height="3.00" fill="#3f1a55"/>
<text x="304.80" y="461.30" font-size="5.0" fill="#444" stroke="#444" stroke-width="0.2" textLength="9.50" lengthAdjust="spacingAndGlyphs">GM</text>
<rect x="295.60" y="467.00" width="6.50" height="3.00" fill="#4d3014"/>
<text x="304.80" y="470.10" font-size="5.0" fill="#444" stroke="#444" stroke-width="0.2" textLength="13.80" lengthAdjust="spacingAndGlyphs">T/GM</text>
<rect x="295.60" y="475.70" width="6.50" height="3.00" fill="#2e4b7d"/>
<text x="304.80" y="478.80" font-size="5.0" fill="#444" stroke="#444" stroke-width="0.2" textLength="2.40" lengthAdjust="spacingAndGlyphs">T</text>
<line x1="363.50" y1="456.90" x2="363.50" y2="516.80" stroke="#111" stroke-width="1"/>
<line x1="363.00" y1="516.30" x2="448.00" y2="516.30" stroke="#111" stroke-width="1"/>
<line x1="360.50" y1="516.30" x2="363.50" y2="516.30" stroke="#111" stroke-width="0.8"/>
<text x="356.90" y="518.40" font-size="6.0" fill="#222" stroke="#222" stroke-width="0.2" text-anchor="end" textLength="3.10" lengthAdjust="spacingAndGlyphs">0</text>
<line x1="360.50" y1="504.96" x2="363.50" y2="504.96" stroke="#111" stroke-width="0.8"/>
<text x="356.90" y="507.06" font-size="6.0" fill="#222" stroke="#222" stroke-width="0.2" text-anchor="end" textLength="6.30" lengthAdjust="spacingAndGlyphs">20</text>
<line x1="360.50" y1="493.62" x2="363.50" y2="493.62" stroke="#111" stroke-width="0.8"/>
<text x="356.90" y="495.72" font-size="6.0" fill="#222" stroke="#222" stroke-width="0.2" text-anchor="end" textLength="6.30" lengthAdjust="spacingAndGlyphs">40</text>
<line x1="360.50" y1="482.28" x2="363.50" y2="482.28" stroke="#111" stroke-width="0.8"/>
<text x="356.90" y="484.38" font-size="6.0" fill="#222" stroke="#222" stroke-width="0.2" text-anchor="end" textLength="6.30" lengthAdjust="spacingAndGlyphs">60</text>
<line x1="360.50" y1="470.94" x2="363.50" y2="470.94" stroke="#111" stroke-width="0.8"/>
<text x="356.90" y="473.04" font-size="6.0" fill="#222" stroke="#222" stroke-width="0.2" text-anchor="end" textLength="6.30" lengthAdjust="spacingAndGlyphs">80</text>
<line x1="360.50" y1="459.60" x2="363.50" y2="459.60" stroke="#111" stroke-width="0.8"/>
<text x="356.90" y="461.70" font-size="6.0" fill="#222" stroke="#222" stroke-width="0.2" text-anchor="end" textLength="9.50" lengthAdjust="spacingAndGlyphs">100</text>
<text transform="translate(341.30,486.40) rotate(-90)" x="0" y="0" font-size="7.8" fill="#222" stroke="#222" stroke-width="0.2" text-anchor="middle" textLength="63.50" lengthAdjust="spacingAndGlyphs">Lineage potential (%)</text>
<rect x="370.60" y="470.54" width="28.10" height="45.76" fill="#c5c5ca"/>
<rect x="370.60" y="477.88" width="28.10" height="38.42" fill="#512862"/>
<rect x="370.60" y="504.43" width="28.10" height="11.87" fill="#2f5e4a"/>
<line x1="384.65" y1="504.43" x2="384.65" y2="503.87" stroke="#111" stroke-width="1.0"/>
<line x1="380.05" y1="503.87" x2="389.25" y2="503.87" stroke="#111" stroke-width="1.1"/>
<line x1="384.65" y1="477.88" x2="384.65" y2="476.47" stroke="#111" stroke-width="1.0"/>
<line x1="380.05" y1="476.47" x2="389.25" y2="476.47" stroke="#111" stroke-width="1.1"/>
<line x1="384.65" y1="470.54" x2="384.65" y2="469.12" stroke="#111" stroke-width="1.0"/>
<line x1="380.05" y1="469.12" x2="389.25" y2="469.12" stroke="#111" stroke-width="1.1"/>
<rect x="413.10" y="473.93" width="27.90" height="42.37" fill="#c5c5ca"/>
<rect x="413.10" y="480.42" width="27.90" height="35.88" fill="#512862"/>
<rect x="413.10" y="507.82" width="27.90" height="8.47" fill="#2f5e4a"/>
<line x1="427.05" y1="507.82" x2="427.05" y2="506.92" stroke="#111" stroke-width="1.0"/>
<line x1="422.45" y1="506.92" x2="431.65" y2="506.92" stroke="#111" stroke-width="1.1"/>
<line x1="427.05" y1="480.42" x2="427.05" y2="479.01" stroke="#111" stroke-width="1.0"/>
<line x1="422.45" y1="479.01" x2="431.65" y2="479.01" stroke="#111" stroke-width="1.1"/>
<line x1="427.05" y1="473.93" x2="427.05" y2="472.46" stroke="#111" stroke-width="1.0"/>
<line x1="422.45" y1="472.46" x2="431.65" y2="472.46" stroke="#111" stroke-width="1.1"/>
<line x1="384.60" y1="516.30" x2="384.60" y2="518.80" stroke="#111" stroke-width="0.8"/>
<line x1="427.00" y1="516.30" x2="427.00" y2="518.80" stroke="#111" stroke-width="0.8"/>
<text x="377.9" y="527.8" font-size="6.2" fill="#333" stroke="#333" stroke-width="0.2" textLength="14.4" lengthAdjust="spacingAndGlyphs">YFP<tspan font-size="4" dy="-2.6">+</tspan></text>
<text x="420.8" y="527.8" font-size="6.2" fill="#333" stroke="#333" stroke-width="0.2" textLength="13.8" lengthAdjust="spacingAndGlyphs">YFP<tspan font-size="4" dy="-2.6">-</tspan></text>
<rect x="457.20" y="458.10" width="6.20" height="3.00" fill="#c5c5ca"/>
<text x="466.60" y="461.30" font-size="5.0" fill="#444" stroke="#444" stroke-width="0.2" textLength="12.30" lengthAdjust="spacingAndGlyphs">E/Mk</text>
<rect x="457.20" y="466.80" width="6.20" height="3.00" fill="#3f1a55"/>
<text x="466.60" y="470.00" font-size="5.0" fill="#444" stroke="#444" stroke-width="0.2" textLength="8.40" lengthAdjust="spacingAndGlyphs">GM</text>
<rect x="457.20" y="475.60" width="6.20" height="3.00" fill="#2f5e4a"/>
<text x="466.60" y="478.80" font-size="5.0" fill="#444" stroke="#444" stroke-width="0.2" textLength="23.00" lengthAdjust="spacingAndGlyphs">E/Mk/GM</text>
<line x1="39.50" y1="557.20" x2="39.50" y2="634.80" stroke="#111" stroke-width="1"/>
<line x1="39.00" y1="634.30" x2="151.00" y2="634.30" stroke="#111" stroke-width="1"/>
<line x1="36.10" y1="634.30" x2="39.50" y2="634.30" stroke="#111" stroke-width="0.8"/>
<text x="33.30" y="636.40" font-size="6.1" fill="#222" stroke="#222" stroke-width="0.2" text-anchor="end" textLength="3.30" lengthAdjust="spacingAndGlyphs">0</text>
<line x1="36.10" y1="619.40" x2="39.50" y2="619.40" stroke="#111" stroke-width="0.8"/>
<text x="33.30" y="621.50" font-size="6.1" fill="#222" stroke="#222" stroke-width="0.2" text-anchor="end" textLength="6.80" lengthAdjust="spacingAndGlyphs">20</text>
<line x1="36.10" y1="604.50" x2="39.50" y2="604.50" stroke="#111" stroke-width="0.8"/>
<text x="33.30" y="606.60" font-size="6.1" fill="#222" stroke="#222" stroke-width="0.2" text-anchor="end" textLength="6.80" lengthAdjust="spacingAndGlyphs">40</text>
<line x1="36.10" y1="589.60" x2="39.50" y2="589.60" stroke="#111" stroke-width="0.8"/>
<text x="33.30" y="591.70" font-size="6.1" fill="#222" stroke="#222" stroke-width="0.2" text-anchor="end" textLength="6.80" lengthAdjust="spacingAndGlyphs">60</text>
<line x1="36.10" y1="574.70" x2="39.50" y2="574.70" stroke="#111" stroke-width="0.8"/>
<text x="33.30" y="576.80" font-size="6.1" fill="#222" stroke="#222" stroke-width="0.2" text-anchor="end" textLength="6.80" lengthAdjust="spacingAndGlyphs">80</text>
<line x1="36.10" y1="559.80" x2="39.50" y2="559.80" stroke="#111" stroke-width="0.8"/>
<text x="33.30" y="561.90" font-size="6.1" fill="#222" stroke="#222" stroke-width="0.2" text-anchor="end" textLength="10.30" lengthAdjust="spacingAndGlyphs">100</text>
<text transform="translate(17.0,595.1) rotate(-90)" font-size="7.7" fill="#222" stroke="#222" stroke-width="0.2" text-anchor="middle" textLength="68.4" lengthAdjust="spacingAndGlyphs">% thymopoiesis<tspan font-size="4.8" dy="-2.9">+</tspan><tspan dy="2.9"> FTOC</tspan></text>
<rect x="44.00" y="559.80" width="18.60" height="74.50" fill="#512862" stroke="#461f57" stroke-width="0.6"/>
<rect x="128.30" y="559.80" width="18.20" height="74.50" fill="#df8e1c"/>
<text x="46.30" y="556.00" font-size="5" fill="#41599a" stroke="#41599a" stroke-width="0.22" textLength="13.70" lengthAdjust="spacingAndGlyphs">21/21</text>
<text x="130.80" y="556.00" font-size="5" fill="#41599a" stroke="#41599a" stroke-width="0.22" textLength="13.40" lengthAdjust="spacingAndGlyphs">14/14</text>
<text x="75.00" y="629.30" font-size="5.8" fill="#41599a" stroke="#41599a" stroke-width="0.22" textLength="40.50" lengthAdjust="spacingAndGlyphs">No development</text>
<line x1="201.60" y1="557.20" x2="201.60" y2="634.80" stroke="#111" stroke-width="1"/>
<line x1="201.10" y1="634.30" x2="313.70" y2="634.30" stroke="#111" stroke-width="1"/>
<line x1="198.20" y1="634.30" x2="201.60" y2="634.30" stroke="#111" stroke-width="0.8"/>
<text x="195.40" y="636.40" font-size="6.1" fill="#222" stroke="#222" stroke-width="0.2" text-anchor="end" textLength="3.30" lengthAdjust="spacingAndGlyphs">0</text>
<line x1="198.20" y1="619.40" x2="201.60" y2="619.40" stroke="#111" stroke-width="0.8"/>
<text x="195.40" y="621.50" font-size="6.1" fill="#222" stroke="#222" stroke-width="0.2" text-anchor="end" textLength="6.80" lengthAdjust="spacingAndGlyphs">20</text>
<line x1="198.20" y1="604.50" x2="201.60" y2="604.50" stroke="#111" stroke-width="0.8"/>
<text x="195.40" y="606.60" font-size="6.1" fill="#222" stroke="#222" stroke-width="0.2" text-anchor="end" textLength="6.80" lengthAdjust="spacingAndGlyphs">40</text>
<line x1="198.20" y1="589.60" x2="201.60" y2="589.60" stroke="#111" stroke-width="0.8"/>
<text x="195.40" y="591.70" font-size="6.1" fill="#222" stroke="#222" stroke-width="0.2" text-anchor="end" textLength="6.80" lengthAdjust="spacingAndGlyphs">60</text>
<line x1="198.20" y1="574.70" x2="201.60" y2="574.70" stroke="#111" stroke-width="0.8"/>
<text x="195.40" y="576.80" font-size="6.1" fill="#222" stroke="#222" stroke-width="0.2" text-anchor="end" textLength="6.80" lengthAdjust="spacingAndGlyphs">80</text>
<line x1="198.20" y1="559.80" x2="201.60" y2="559.80" stroke="#111" stroke-width="0.8"/>
<text x="195.40" y="561.90" font-size="6.1" fill="#222" stroke="#222" stroke-width="0.2" text-anchor="end" textLength="10.30" lengthAdjust="spacingAndGlyphs">100</text>
<text transform="translate(178.7,596.2) rotate(-90)" font-size="7.7" fill="#222" stroke="#222" stroke-width="0.2" text-anchor="middle" textLength="52.4" lengthAdjust="spacingAndGlyphs">% TCR-γδ<tspan font-size="4.8" dy="-2.9">+</tspan><tspan dy="2.9"> FTOC</tspan></text>
<rect x="206.00" y="559.80" width="18.60" height="74.50" fill="#512862" stroke="#461f57" stroke-width="0.6"/>
<rect x="290.20" y="559.80" width="18.30" height="74.50" fill="#df8e1c"/>
<text x="208.30" y="556.00" font-size="5" fill="#41599a" stroke="#41599a" stroke-width="0.22" textLength="14.00" lengthAdjust="spacingAndGlyphs">21/21</text>
<text x="292.50" y="556.00" font-size="5" fill="#41599a" stroke="#41599a" stroke-width="0.22" textLength="14.00" lengthAdjust="spacingAndGlyphs">14/14</text>
<text x="237.10" y="629.10" font-size="5.8" fill="#41599a" stroke="#41599a" stroke-width="0.22" textLength="40.80" lengthAdjust="spacingAndGlyphs">No development</text>
<rect x="322.30" y="551.90" width="8.10" height="4.30" fill="#4a2260"/>
<text x="333.4" y="556.00" font-size="5.6" fill="#333" textLength="23.5" lengthAdjust="spacingAndGlyphs">E12.5 LSK</text>
<rect x="322.30" y="560.90" width="8.10" height="4.30" fill="#2f5e4a"/>
<text x="333.4" y="565.00" font-size="5.6" fill="#333" textLength="77.3" lengthAdjust="spacingAndGlyphs">E9.5 YS-Kit<tspan font-size="3.5" dy="-2">+</tspan><tspan dy="2"> derived progenitors</tspan></text>
<rect x="322.30" y="569.70" width="8.10" height="4.30" fill="#5e3e1c"/>
<text x="333.4" y="573.80" font-size="5.6" fill="#333" textLength="90.5" lengthAdjust="spacingAndGlyphs">E9.5 YS-Kit<tspan font-size="3.5" dy="-2">+</tspan><tspan dy="2"> YFP</tspan><tspan font-size="3.5" dy="-2">+</tspan><tspan dy="2"> derived progenitors</tspan></text>
<rect x="322.30" y="578.40" width="8.10" height="4.30" fill="#df8e1c"/>
<text x="333.4" y="582.50" font-size="5.6" fill="#333" textLength="80.8" lengthAdjust="spacingAndGlyphs">E10.5 YS-Kit<tspan font-size="3.5" dy="-2">+</tspan><tspan dy="2"> derived progenitors</tspan></text>
</svg>
</body></html>
